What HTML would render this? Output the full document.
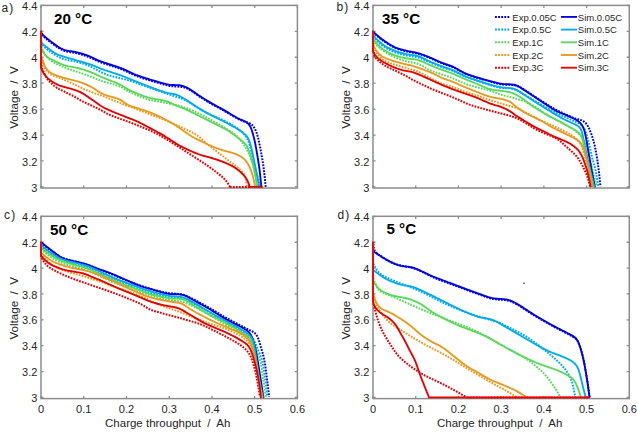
<!DOCTYPE html><html><head><meta charset="utf-8"><style>html,body{margin:0;padding:0;background:#fff;}svg{display:block;}</style></head><body>
<svg width="637" height="432" viewBox="0 0 637 432" style="font-family:'Liberation Sans', sans-serif">
<rect width="637" height="432" fill="#fff"/>
<rect x="41.0" y="5.4" width="256.4" height="182.6" fill="none" stroke="#8c8c8c" stroke-width="1.5"/>
<path d="M41.0,186.90h2.6M297.4,186.90h-2.6M41.0,160.97h2.6M297.4,160.97h-2.6M41.0,135.04h2.6M297.4,135.04h-2.6M41.0,109.11h2.6M297.4,109.11h-2.6M41.0,83.19h2.6M297.4,83.19h-2.6M41.0,57.26h2.6M297.4,57.26h-2.6M41.0,31.33h2.6M297.4,31.33h-2.6M41.0,5.40h2.6M297.4,5.40h-2.6M41.00,5.4v2.6M41.00,188.0v-2.6M83.73,5.4v2.6M83.73,188.0v-2.6M126.47,5.4v2.6M126.47,188.0v-2.6M169.20,5.4v2.6M169.20,188.0v-2.6M211.93,5.4v2.6M211.93,188.0v-2.6M254.67,5.4v2.6M254.67,188.0v-2.6M297.40,5.4v2.6M297.40,188.0v-2.6" stroke="#8c8c8c" stroke-width="1.3" fill="none"/>
<clipPath id="clipa"><rect x="39.5" y="4.4" width="259.4" height="184.6"/></clipPath>
<g clip-path="url(#clipa)" fill="none" stroke-linejoin="round">
<path d="M41.00,31.80 41.11,32.63 41.31,33.44 41.66,34.22 42.15,34.97 42.77,35.69 43.45,36.39 44.18,37.06 44.93,37.72 45.69,38.37 46.45,39.02 47.23,39.65 48.01,40.27 48.79,40.89 49.58,41.51 50.37,42.12 51.17,42.72 51.97,43.32 52.77,43.92 53.58,44.51 54.38,45.10 55.19,45.69 56.01,46.26 56.83,46.83 57.66,47.39 58.50,47.93 59.35,48.45 60.22,48.96 61.09,49.43 61.98,49.88 62.89,50.28 63.82,50.65 64.76,50.98 65.71,51.26 66.68,51.49 67.65,51.70 68.64,51.87 69.62,52.03 70.61,52.17 71.60,52.32 72.59,52.47 73.57,52.63 74.56,52.81 75.53,53.02 76.51,53.24 77.48,53.48 78.45,53.73 79.41,53.99 80.38,54.25 81.34,54.53 82.30,54.81 83.25,55.11 84.20,55.41 85.15,55.72 86.10,56.04 87.04,56.38 87.98,56.72 88.91,57.09 89.83,57.47 90.75,57.87 91.66,58.28 92.57,58.70 93.47,59.13 94.37,59.56 95.28,59.99 96.18,60.41 97.09,60.83 98.01,61.23 98.93,61.62 99.85,61.99 100.78,62.36 101.72,62.71 102.66,63.04 103.61,63.37 104.55,63.69 105.50,64.01 106.45,64.31 107.41,64.62 108.36,64.92 109.31,65.22 110.27,65.52 111.22,65.82 112.17,66.12 113.13,66.43 114.08,66.73 115.03,67.04 115.98,67.35 116.93,67.67 117.88,67.99 118.82,68.32 119.76,68.66 120.70,69.01 121.63,69.37 122.56,69.74 123.48,70.13 124.40,70.53 125.31,70.94 126.21,71.36 127.11,71.79 128.01,72.23 128.91,72.67 129.81,73.10 130.71,73.53 131.62,73.96 132.53,74.38 133.44,74.78 134.36,75.18 135.28,75.56 136.21,75.93 137.15,76.29 138.08,76.63 139.03,76.97 139.97,77.29 140.92,77.61 141.87,77.93 142.82,78.24 143.77,78.55 144.72,78.85 145.68,79.15 146.63,79.45 147.59,79.74 148.54,80.03 149.50,80.32 150.46,80.61 151.41,80.90 152.37,81.18 153.33,81.47 154.29,81.75 155.25,82.03 156.21,82.31 157.17,82.59 158.13,82.87 159.09,83.14 160.06,83.41 161.02,83.69 161.98,83.96 162.94,84.22 163.91,84.49 164.87,84.75 165.84,85.01 166.81,85.26 167.78,85.49 168.75,85.71 169.73,85.91 170.72,86.08 171.70,86.21 172.69,86.32 173.69,86.40 174.69,86.47 175.68,86.53 176.68,86.58 177.68,86.62 178.68,86.68 179.67,86.74 180.66,86.84 181.65,86.97 182.63,87.15 183.60,87.38 184.55,87.65 185.50,87.96 186.43,88.31 187.35,88.69 188.26,89.11 189.14,89.56 190.02,90.05 190.88,90.55 191.72,91.09 192.55,91.64 193.37,92.21 194.19,92.79 195.00,93.38 195.80,93.97 196.61,94.55 197.43,95.14 198.24,95.71 199.07,96.28 199.90,96.83 200.74,97.38 201.58,97.91 202.43,98.44 203.28,98.97 204.13,99.49 204.99,100.00 205.85,100.51 206.71,101.02 207.57,101.53 208.44,102.03 209.30,102.54 210.17,103.04 211.03,103.54 211.90,104.04 212.77,104.53 213.64,105.03 214.51,105.52 215.38,106.01 216.25,106.49 217.13,106.98 218.00,107.46 218.88,107.94 219.76,108.42 220.63,108.91 221.51,109.39 222.38,109.87 223.26,110.36 224.13,110.85 225.00,111.34 225.87,111.84 226.73,112.34 227.59,112.85 228.45,113.36 229.31,113.87 230.17,114.38 231.03,114.90 231.89,115.41 232.75,115.92 233.61,116.43 234.47,116.93 235.34,117.43 236.22,117.91 237.10,118.38 237.98,118.84 238.88,119.29 239.78,119.72 240.69,120.13 241.61,120.53 242.53,120.91 243.46,121.28 244.39,121.63 245.33,121.96 246.28,122.26 247.23,122.54 248.17,122.80 249.10,123.09 249.98,123.45 250.81,123.91 251.58,124.47 252.29,125.13 252.94,125.86 253.54,126.64 254.10,127.46 254.61,128.31 255.08,129.18 255.52,130.08 255.92,130.99 256.28,131.92 256.62,132.86 256.94,133.81 257.23,134.76 257.51,135.72 257.77,136.69 258.02,137.66 258.26,138.63 258.49,139.60 258.71,140.57 258.93,141.55 259.15,142.53 259.35,143.50 259.56,144.48 259.76,145.46 259.96,146.44 260.16,147.42 260.35,148.40 260.54,149.39 260.73,150.37 260.91,151.35 261.09,152.33 261.28,153.32 261.45,154.30 261.63,155.28 261.81,156.27 261.98,157.25 262.15,158.24 262.32,159.23 262.48,160.21 262.65,161.20 262.81,162.19 262.96,163.17 263.11,164.16 263.26,165.15 263.40,166.14 263.54,167.13 263.67,168.12 263.80,169.11 263.92,170.11 264.04,171.10 264.16,172.09 264.27,173.09 264.38,174.08 264.49,175.07 264.60,176.07 264.70,177.06 264.81,178.06 264.91,179.05 265.01,180.05 265.11,181.04 265.21,182.03 265.30,183.02 265.40,184.01 265.50,184.98 265.60,185.94 265.70,186.90" stroke="#0000e6" stroke-width="2.0" stroke-dasharray="1.8 1.2" stroke-linecap="butt"/>
<path d="M41.00,36.00 40.97,37.00 40.95,38.00 40.96,38.99 41.01,39.98 41.12,40.96 41.31,41.91 41.60,42.84 41.98,43.73 42.46,44.58 43.02,45.38 43.65,46.15 44.32,46.87 45.03,47.57 45.77,48.24 46.53,48.89 47.31,49.52 48.09,50.13 48.89,50.73 49.70,51.32 50.51,51.90 51.33,52.48 52.16,53.04 52.99,53.59 53.83,54.13 54.68,54.66 55.54,55.17 56.40,55.68 57.27,56.17 58.15,56.65 59.03,57.11 59.93,57.55 60.83,57.98 61.75,58.37 62.67,58.74 63.61,59.08 64.56,59.38 65.52,59.65 66.49,59.88 67.47,60.08 68.45,60.26 69.44,60.42 70.43,60.58 71.41,60.73 72.40,60.89 73.38,61.07 74.37,61.26 75.34,61.47 76.31,61.69 77.28,61.94 78.25,62.19 79.22,62.46 80.18,62.73 81.14,63.01 82.09,63.30 83.04,63.61 83.99,63.92 84.94,64.25 85.88,64.59 86.81,64.95 87.74,65.32 88.66,65.71 89.57,66.12 90.47,66.54 91.37,66.98 92.26,67.44 93.15,67.90 94.03,68.38 94.90,68.85 95.78,69.33 96.66,69.81 97.54,70.29 98.42,70.76 99.31,71.22 100.20,71.67 101.09,72.12 102.00,72.55 102.90,72.98 103.81,73.39 104.73,73.78 105.65,74.16 106.58,74.52 107.52,74.86 108.47,75.18 109.42,75.49 110.38,75.77 111.34,76.05 112.31,76.31 113.27,76.56 114.24,76.80 115.22,77.03 116.19,77.26 117.16,77.49 118.14,77.72 119.11,77.94 120.08,78.17 121.06,78.40 122.03,78.63 123.00,78.87 123.97,79.11 124.94,79.36 125.91,79.61 126.87,79.87 127.84,80.14 128.80,80.42 129.75,80.71 130.71,81.01 131.66,81.31 132.61,81.63 133.56,81.94 134.50,82.27 135.45,82.59 136.39,82.92 137.34,83.26 138.28,83.60 139.22,83.94 140.16,84.28 141.10,84.62 142.04,84.96 142.98,85.30 143.92,85.64 144.86,85.98 145.80,86.32 146.74,86.66 147.68,86.99 148.63,87.32 149.57,87.65 150.51,87.99 151.46,88.32 152.40,88.65 153.34,88.98 154.29,89.31 155.23,89.64 156.17,89.97 157.12,90.30 158.06,90.64 159.00,90.97 159.95,91.30 160.89,91.63 161.84,91.96 162.78,92.29 163.72,92.62 164.67,92.95 165.61,93.28 166.56,93.61 167.50,93.93 168.45,94.25 169.40,94.56 170.35,94.86 171.31,95.17 172.26,95.47 173.21,95.77 174.17,96.07 175.12,96.37 176.07,96.68 177.02,96.99 177.97,97.31 178.91,97.64 179.85,97.98 180.79,98.33 181.72,98.69 182.65,99.07 183.57,99.46 184.48,99.87 185.38,100.29 186.28,100.74 187.17,101.19 188.04,101.67 188.92,102.16 189.78,102.66 190.64,103.18 191.49,103.70 192.33,104.24 193.18,104.77 194.02,105.31 194.86,105.86 195.70,106.40 196.54,106.94 197.38,107.48 198.23,108.01 199.08,108.53 199.93,109.05 200.79,109.56 201.66,110.07 202.53,110.56 203.40,111.04 204.28,111.51 205.17,111.97 206.06,112.43 206.96,112.87 207.86,113.31 208.76,113.74 209.67,114.16 210.57,114.58 211.48,115.00 212.39,115.41 213.30,115.83 214.22,116.24 215.13,116.64 216.04,117.05 216.95,117.46 217.87,117.87 218.78,118.28 219.69,118.69 220.60,119.10 221.51,119.52 222.42,119.94 223.33,120.36 224.23,120.78 225.13,121.22 226.03,121.66 226.93,122.10 227.81,122.56 228.70,123.02 229.58,123.50 230.45,123.99 231.32,124.48 232.18,124.99 233.04,125.50 233.89,126.03 234.73,126.56 235.57,127.11 236.40,127.66 237.22,128.23 238.03,128.82 238.83,129.42 239.62,130.03 240.39,130.67 241.15,131.32 241.89,131.98 242.62,132.67 243.32,133.38 244.00,134.11 244.66,134.86 245.28,135.63 245.87,136.43 246.43,137.26 246.93,138.11 247.40,138.99 247.82,139.89 248.21,140.81 248.57,141.74 248.91,142.68 249.23,143.63 249.53,144.58 249.83,145.53 250.11,146.49 250.37,147.46 250.63,148.42 250.87,149.39 251.10,150.37 251.33,151.34 251.54,152.32 251.76,153.29 251.96,154.27 252.17,155.25 252.38,156.23 252.58,157.21 252.78,158.19 252.99,159.17 253.19,160.14 253.40,161.12 253.61,162.10 253.83,163.08 254.05,164.05 254.28,165.03 254.51,166.00 254.75,166.97 255.01,167.93 255.27,168.90 255.54,169.86 255.81,170.82 256.10,171.78 256.38,172.74 256.68,173.70 256.97,174.65 257.27,175.60 257.58,176.56 257.89,177.51 258.20,178.46 258.51,179.41 258.82,180.36 259.14,181.31 259.45,182.25 259.77,183.20 260.08,184.14 260.39,185.07 260.70,185.99 261.00,186.90" stroke="#00aaee" stroke-width="2.0" stroke-dasharray="1.8 1.2" stroke-linecap="butt"/>
<path d="M41.00,40.00 41.12,40.99 41.24,41.99 41.36,42.98 41.49,43.97 41.64,44.96 41.80,45.94 41.99,46.92 42.21,47.89 42.47,48.85 42.78,49.80 43.12,50.74 43.50,51.65 43.93,52.55 44.40,53.43 44.91,54.28 45.47,55.11 46.05,55.91 46.67,56.69 47.33,57.44 48.01,58.17 48.72,58.86 49.46,59.53 50.23,60.16 51.03,60.76 51.85,61.32 52.69,61.86 53.55,62.37 54.42,62.85 55.30,63.32 56.20,63.76 57.10,64.19 58.01,64.61 58.92,65.02 59.84,65.42 60.76,65.81 61.68,66.20 62.60,66.58 63.53,66.96 64.46,67.33 65.39,67.69 66.32,68.05 67.26,68.41 68.20,68.75 69.14,69.09 70.08,69.42 71.03,69.75 71.97,70.07 72.92,70.39 73.87,70.71 74.82,71.02 75.76,71.34 76.71,71.67 77.66,71.99 78.60,72.31 79.55,72.64 80.49,72.96 81.44,73.29 82.39,73.61 83.33,73.93 84.28,74.26 85.22,74.59 86.17,74.92 87.11,75.25 88.05,75.59 88.99,75.93 89.93,76.28 90.86,76.64 91.79,77.00 92.72,77.38 93.64,77.76 94.57,78.14 95.49,78.53 96.41,78.92 97.33,79.30 98.26,79.68 99.19,80.04 100.12,80.40 101.06,80.75 102.00,81.09 102.95,81.41 103.90,81.72 104.85,82.01 105.81,82.30 106.77,82.57 107.74,82.84 108.70,83.10 109.67,83.36 110.63,83.62 111.60,83.88 112.56,84.14 113.53,84.40 114.49,84.67 115.45,84.94 116.41,85.23 117.36,85.53 118.31,85.85 119.24,86.20 120.16,86.58 121.07,87.00 121.95,87.46 122.81,87.96 123.65,88.49 124.48,89.04 125.31,89.59 126.15,90.13 127.00,90.65 127.87,91.14 128.75,91.61 129.64,92.06 130.55,92.49 131.45,92.90 132.36,93.32 133.28,93.72 134.19,94.12 135.11,94.52 136.03,94.92 136.95,95.30 137.87,95.69 138.80,96.07 139.73,96.44 140.66,96.81 141.59,97.17 142.53,97.52 143.47,97.86 144.41,98.19 145.35,98.52 146.30,98.83 147.26,99.13 148.22,99.41 149.18,99.67 150.15,99.92 151.12,100.16 152.10,100.38 153.07,100.58 154.05,100.78 155.04,100.96 156.02,101.14 157.01,101.30 157.99,101.47 158.98,101.63 159.97,101.80 160.95,101.96 161.94,102.13 162.92,102.31 163.90,102.49 164.89,102.68 165.87,102.88 166.84,103.08 167.82,103.29 168.80,103.50 169.78,103.71 170.76,103.92 171.73,104.13 172.71,104.35 173.69,104.56 174.66,104.78 175.64,105.01 176.61,105.24 177.58,105.47 178.55,105.72 179.52,105.97 180.48,106.23 181.44,106.51 182.40,106.79 183.36,107.09 184.31,107.39 185.26,107.71 186.20,108.05 187.14,108.39 188.07,108.74 189.01,109.10 189.94,109.47 190.86,109.84 191.78,110.23 192.70,110.63 193.62,111.03 194.53,111.44 195.44,111.86 196.34,112.28 197.25,112.71 198.15,113.14 199.04,113.58 199.94,114.03 200.83,114.48 201.73,114.93 202.62,115.39 203.50,115.85 204.39,116.31 205.28,116.77 206.16,117.24 207.04,117.71 207.92,118.18 208.80,118.66 209.68,119.14 210.56,119.62 211.44,120.10 212.31,120.58 213.19,121.07 214.06,121.55 214.93,122.04 215.80,122.53 216.67,123.03 217.54,123.52 218.41,124.02 219.28,124.52 220.14,125.02 221.01,125.52 221.87,126.02 222.73,126.53 223.59,127.04 224.45,127.55 225.31,128.07 226.16,128.59 227.01,129.12 227.86,129.65 228.70,130.18 229.54,130.72 230.38,131.27 231.21,131.83 232.04,132.39 232.85,132.97 233.66,133.55 234.46,134.16 235.23,134.78 235.99,135.43 236.73,136.11 237.44,136.81 238.13,137.53 238.80,138.27 239.45,139.02 240.09,139.79 240.71,140.57 241.32,141.36 241.92,142.16 242.51,142.97 243.09,143.79 243.66,144.61 244.21,145.44 244.75,146.28 245.29,147.13 245.81,147.98 246.32,148.84 246.82,149.70 247.31,150.57 247.79,151.45 248.26,152.33 248.71,153.23 249.15,154.12 249.57,155.03 249.98,155.94 250.37,156.86 250.74,157.79 251.10,158.72 251.44,159.66 251.76,160.61 252.08,161.55 252.38,162.51 252.67,163.46 252.95,164.42 253.22,165.39 253.49,166.35 253.76,167.31 254.01,168.28 254.27,169.25 254.53,170.21 254.78,171.18 255.03,172.15 255.27,173.12 255.51,174.09 255.74,175.06 255.97,176.04 256.19,177.01 256.40,177.99 256.61,178.97 256.81,179.95 257.01,180.93 257.21,181.90 257.40,182.87 257.59,183.82 257.77,184.75 257.95,185.63 258.12,186.48" stroke="#5ad85a" stroke-width="2.0" stroke-dasharray="1.8 1.2" stroke-linecap="butt"/>
<path d="M41.00,56.00 41.11,56.99 41.24,57.98 41.39,58.97 41.58,59.94 41.81,60.91 42.07,61.87 42.37,62.82 42.71,63.76 43.10,64.67 43.53,65.57 44.00,66.45 44.50,67.31 45.03,68.15 45.59,68.98 46.17,69.79 46.78,70.58 47.42,71.35 48.09,72.08 48.80,72.77 49.55,73.41 50.34,74.00 51.17,74.54 52.04,75.01 52.93,75.44 53.85,75.82 54.78,76.18 55.72,76.51 56.67,76.84 57.61,77.18 58.55,77.52 59.48,77.88 60.41,78.25 61.33,78.63 62.26,79.01 63.18,79.40 64.10,79.80 65.01,80.19 65.93,80.59 66.85,80.99 67.76,81.40 68.67,81.81 69.58,82.22 70.49,82.64 71.40,83.06 72.31,83.48 73.21,83.90 74.12,84.33 75.02,84.75 75.93,85.18 76.83,85.61 77.73,86.04 78.64,86.47 79.54,86.91 80.43,87.35 81.33,87.79 82.23,88.22 83.13,88.66 84.04,89.08 84.95,89.50 85.86,89.90 86.78,90.29 87.71,90.67 88.64,91.03 89.57,91.38 90.51,91.72 91.46,92.06 92.40,92.38 93.35,92.71 94.29,93.03 95.24,93.35 96.19,93.67 97.14,93.99 98.08,94.32 99.03,94.65 99.97,94.98 100.91,95.32 101.85,95.66 102.78,96.01 103.72,96.37 104.65,96.74 105.58,97.11 106.51,97.48 107.43,97.86 108.35,98.24 109.28,98.62 110.20,99.01 111.12,99.39 112.05,99.78 112.97,100.16 113.89,100.55 114.82,100.93 115.75,101.30 116.67,101.68 117.60,102.05 118.53,102.42 119.46,102.78 120.39,103.14 121.33,103.50 122.26,103.86 123.20,104.22 124.13,104.57 125.07,104.92 126.00,105.27 126.94,105.62 127.88,105.97 128.81,106.32 129.75,106.67 130.69,107.02 131.63,107.36 132.57,107.71 133.50,108.06 134.44,108.41 135.38,108.75 136.32,109.10 137.25,109.45 138.19,109.80 139.13,110.15 140.06,110.50 141.00,110.85 141.94,111.20 142.87,111.56 143.81,111.91 144.74,112.27 145.67,112.62 146.61,112.98 147.54,113.34 148.47,113.70 149.41,114.06 150.34,114.42 151.27,114.78 152.20,115.15 153.14,115.51 154.07,115.87 155.00,116.23 155.93,116.59 156.87,116.95 157.80,117.32 158.73,117.68 159.66,118.05 160.59,118.41 161.52,118.78 162.45,119.14 163.38,119.51 164.31,119.88 165.24,120.25 166.17,120.63 167.09,121.00 168.02,121.38 168.95,121.76 169.87,122.14 170.79,122.52 171.72,122.91 172.64,123.30 173.56,123.69 174.47,124.09 175.39,124.49 176.31,124.89 177.22,125.29 178.14,125.70 179.05,126.11 179.96,126.52 180.87,126.93 181.78,127.34 182.69,127.76 183.60,128.18 184.50,128.61 185.41,129.04 186.31,129.47 187.21,129.91 188.10,130.35 189.00,130.80 189.89,131.25 190.77,131.71 191.66,132.18 192.54,132.66 193.41,133.14 194.28,133.64 195.14,134.15 195.99,134.67 196.83,135.21 197.66,135.77 198.47,136.35 199.26,136.96 200.03,137.59 200.79,138.24 201.53,138.91 202.25,139.60 202.98,140.29 203.70,140.98 204.42,141.67 205.15,142.35 205.90,143.02 206.65,143.67 207.41,144.32 208.19,144.95 208.97,145.58 209.75,146.20 210.54,146.82 211.33,147.43 212.12,148.04 212.92,148.64 213.72,149.25 214.51,149.85 215.31,150.45 216.11,151.06 216.91,151.66 217.71,152.26 218.51,152.86 219.31,153.46 220.11,154.06 220.91,154.66 221.70,155.26 222.50,155.86 223.30,156.46 224.10,157.07 224.90,157.67 225.70,158.27 226.49,158.88 227.29,159.48 228.08,160.09 228.87,160.70 229.66,161.31 230.45,161.93 231.24,162.55 232.02,163.17 232.81,163.79 233.59,164.41 234.38,165.03 235.16,165.64 235.95,166.26 236.74,166.88 237.52,167.50 238.30,168.12 239.07,168.76 239.83,169.41 240.57,170.08 241.28,170.78 241.96,171.50 242.60,172.26 243.19,173.06 243.73,173.88 244.21,174.75 244.63,175.64 245.00,176.56 245.31,177.51 245.57,178.46 245.80,179.44 245.99,180.41 246.15,181.40 246.30,182.38 246.43,183.35 246.56,184.29 246.67,185.20 246.79,186.06 246.90,186.90" stroke="#e89a1e" stroke-width="2.0" stroke-dasharray="1.8 1.2" stroke-linecap="butt"/>
<path d="M41.00,62.00 41.12,62.99 41.25,63.98 41.40,64.97 41.57,65.95 41.78,66.92 42.04,67.88 42.35,68.82 42.69,69.76 43.07,70.68 43.48,71.59 43.89,72.50 44.32,73.40 44.76,74.30 45.20,75.20 45.65,76.09 46.12,76.97 46.61,77.84 47.13,78.69 47.69,79.51 48.30,80.29 48.95,81.03 49.64,81.74 50.36,82.42 51.10,83.09 51.84,83.76 52.59,84.43 53.33,85.09 54.08,85.75 54.86,86.38 55.65,86.98 56.47,87.55 57.31,88.07 58.18,88.56 59.06,89.02 59.96,89.47 60.86,89.90 61.76,90.33 62.66,90.76 63.56,91.20 64.45,91.65 65.35,92.10 66.24,92.55 67.13,93.00 68.02,93.45 68.92,93.89 69.82,94.33 70.72,94.77 71.61,95.21 72.51,95.65 73.40,96.11 74.29,96.57 75.16,97.05 76.03,97.55 76.89,98.06 77.74,98.58 78.59,99.10 79.45,99.62 80.31,100.13 81.18,100.62 82.06,101.09 82.95,101.54 83.85,101.99 84.75,102.42 85.65,102.84 86.56,103.26 87.47,103.68 88.37,104.11 89.28,104.53 90.19,104.95 91.09,105.38 91.99,105.80 92.90,106.23 93.80,106.66 94.71,107.09 95.61,107.52 96.51,107.95 97.41,108.38 98.32,108.81 99.22,109.25 100.11,109.69 101.01,110.13 101.89,110.59 102.77,111.07 103.64,111.56 104.49,112.07 105.35,112.59 106.21,113.09 107.08,113.58 107.96,114.03 108.86,114.46 109.78,114.86 110.70,115.25 111.62,115.63 112.55,115.99 113.49,116.35 114.42,116.71 115.36,117.06 116.30,117.40 117.24,117.75 118.17,118.09 119.11,118.44 120.05,118.78 120.99,119.12 121.93,119.46 122.87,119.80 123.81,120.15 124.75,120.49 125.69,120.83 126.63,121.18 127.57,121.52 128.51,121.87 129.44,122.21 130.38,122.56 131.32,122.92 132.25,123.27 133.19,123.63 134.12,123.99 135.05,124.35 135.98,124.72 136.91,125.09 137.84,125.46 138.77,125.83 139.69,126.21 140.62,126.58 141.55,126.96 142.47,127.33 143.40,127.71 144.33,128.08 145.25,128.46 146.18,128.84 147.10,129.23 148.02,129.62 148.94,130.01 149.85,130.42 150.76,130.83 151.67,131.25 152.57,131.68 153.47,132.12 154.37,132.56 155.26,133.02 156.15,133.48 157.03,133.94 157.91,134.42 158.79,134.89 159.67,135.38 160.54,135.87 161.41,136.36 162.27,136.86 163.14,137.36 164.00,137.87 164.86,138.38 165.72,138.89 166.58,139.41 167.43,139.93 168.29,140.45 169.14,140.97 169.99,141.49 170.84,142.02 171.69,142.55 172.54,143.07 173.39,143.60 174.23,144.13 175.08,144.67 175.93,145.20 176.77,145.73 177.62,146.27 178.46,146.80 179.31,147.34 180.15,147.88 180.99,148.41 181.84,148.95 182.68,149.49 183.52,150.03 184.36,150.57 185.20,151.11 186.05,151.65 186.89,152.19 187.73,152.74 188.57,153.28 189.41,153.82 190.25,154.36 191.09,154.91 191.93,155.45 192.77,155.99 193.60,156.54 194.44,157.08 195.28,157.62 196.12,158.17 196.96,158.71 197.80,159.25 198.64,159.80 199.48,160.34 200.32,160.89 201.16,161.43 201.99,161.98 202.83,162.53 203.66,163.08 204.50,163.63 205.33,164.19 206.16,164.75 206.98,165.31 207.81,165.88 208.63,166.45 209.44,167.03 210.25,167.61 211.06,168.20 211.87,168.79 212.67,169.39 213.47,169.99 214.27,170.59 215.07,171.19 215.86,171.80 216.66,172.41 217.45,173.02 218.23,173.64 219.01,174.26 219.79,174.89 220.56,175.53 221.33,176.17 222.08,176.83 222.83,177.49 223.56,178.17 224.27,178.87 224.96,179.59 225.63,180.33 226.26,181.10 226.86,181.89 227.43,182.71 227.97,183.54 228.48,184.38 228.96,185.23 229.44,186.07 229.90,186.90 M229.90,186.90 L249.70,186.90" stroke="#e60000" stroke-width="2.0" stroke-dasharray="1.8 1.2" stroke-linecap="butt"/>
<path d="M41.00,31.50 41.22,32.24 41.53,32.97 41.97,33.69 42.53,34.40 43.19,35.09 43.90,35.77 44.64,36.43 45.39,37.09 46.15,37.74 46.92,38.38 47.70,39.01 48.48,39.63 49.26,40.25 50.05,40.86 50.85,41.47 51.64,42.07 52.44,42.67 53.25,43.27 54.05,43.86 54.86,44.45 55.68,45.03 56.50,45.60 57.32,46.16 58.16,46.71 59.00,47.24 59.86,47.75 60.73,48.24 61.62,48.70 62.52,49.12 63.44,49.51 64.37,49.85 65.32,50.15 66.28,50.40 67.25,50.62 68.23,50.80 69.22,50.97 70.21,51.11 71.20,51.26 72.19,51.40 73.17,51.56 74.16,51.74 75.14,51.93 76.11,52.15 77.08,52.38 78.05,52.62 79.02,52.88 79.98,53.14 80.94,53.42 81.90,53.70 82.86,53.99 83.82,54.28 84.77,54.59 85.71,54.91 86.66,55.24 87.60,55.58 88.53,55.94 89.46,56.31 90.38,56.70 91.29,57.11 92.20,57.53 93.10,57.95 94.00,58.38 94.91,58.81 95.81,59.24 96.72,59.66 97.63,60.07 98.55,60.46 99.47,60.84 100.40,61.21 101.34,61.56 102.28,61.91 103.22,62.24 104.17,62.56 105.11,62.88 106.07,63.19 107.02,63.49 107.97,63.80 108.92,64.10 109.88,64.40 110.83,64.70 111.78,65.00 112.74,65.30 113.69,65.61 114.64,65.91 115.59,66.22 116.54,66.54 117.49,66.86 118.44,67.18 119.38,67.52 120.32,67.86 121.25,68.22 122.18,68.59 123.10,68.97 124.02,69.36 124.93,69.77 125.84,70.19 126.75,70.62 127.65,71.05 128.55,71.49 129.44,71.92 130.35,72.36 131.25,72.79 132.16,73.21 133.07,73.62 133.98,74.02 134.91,74.40 135.83,74.78 136.76,75.14 137.70,75.49 138.64,75.83 139.58,76.16 140.53,76.49 141.48,76.81 142.43,77.12 143.38,77.43 144.33,77.73 145.28,78.04 146.24,78.34 147.19,78.64 148.15,78.93 149.10,79.23 150.06,79.52 151.02,79.81 151.97,80.09 152.93,80.38 153.89,80.67 154.85,80.95 155.81,81.23 156.77,81.51 157.73,81.79 158.69,82.06 159.65,82.33 160.62,82.61 161.58,82.87 162.54,83.14 163.51,83.40 164.47,83.66 165.44,83.91 166.41,84.14 167.39,84.36 168.37,84.56 169.35,84.73 170.33,84.85 171.33,84.94 172.32,84.99 173.32,85.02 174.31,85.03 175.31,85.06 176.31,85.09 177.31,85.13 178.30,85.20 179.30,85.28 180.28,85.40 181.26,85.57 182.23,85.79 183.18,86.06 184.12,86.38 185.05,86.75 185.95,87.16 186.85,87.60 187.73,88.07 188.60,88.56 189.46,89.06 190.32,89.58 191.16,90.12 191.99,90.67 192.82,91.23 193.64,91.80 194.46,92.38 195.28,92.96 196.09,93.54 196.91,94.11 197.73,94.68 198.55,95.25 199.38,95.80 200.22,96.35 201.06,96.89 201.90,97.43 202.75,97.96 203.60,98.49 204.45,99.01 205.31,99.53 206.16,100.05 207.02,100.56 207.88,101.07 208.74,101.58 209.60,102.09 210.47,102.60 211.33,103.10 212.20,103.60 213.06,104.09 213.94,104.59 214.81,105.07 215.68,105.56 216.56,106.04 217.44,106.51 218.32,106.99 219.20,107.46 220.08,107.93 220.96,108.41 221.84,108.89 222.72,109.37 223.59,109.85 224.46,110.34 225.33,110.84 226.20,111.34 227.06,111.85 227.91,112.37 228.77,112.88 229.62,113.41 230.47,113.93 231.32,114.45 232.18,114.98 233.03,115.50 233.88,116.02 234.74,116.53 235.61,117.03 236.48,117.52 237.36,118.00 238.25,118.45 239.15,118.88 240.06,119.30 240.98,119.69 241.90,120.07 242.82,120.44 243.74,120.83 244.65,121.24 245.53,121.69 246.38,122.20 247.18,122.77 247.92,123.40 248.60,124.10 249.22,124.87 249.77,125.68 250.26,126.54 250.70,127.43 251.10,128.34 251.45,129.27 251.78,130.21 252.08,131.17 252.36,132.12 252.64,133.08 252.91,134.05 253.18,135.01 253.45,135.97 253.71,136.94 253.96,137.91 254.20,138.88 254.43,139.85 254.65,140.82 254.86,141.80 255.07,142.78 255.26,143.76 255.45,144.74 255.64,145.73 255.82,146.71 256.00,147.69 256.18,148.68 256.35,149.66 256.53,150.65 256.70,151.63 256.87,152.62 257.04,153.60 257.21,154.59 257.38,155.57 257.54,156.56 257.71,157.55 257.87,158.53 258.03,159.52 258.19,160.51 258.34,161.49 258.50,162.48 258.65,163.47 258.79,164.46 258.94,165.45 259.08,166.44 259.22,167.43 259.35,168.42 259.48,169.41 259.61,170.40 259.73,171.40 259.85,172.39 259.96,173.38 260.08,174.38 260.19,175.37 260.30,176.36 260.40,177.36 260.51,178.35 260.61,179.35 260.72,180.34 260.82,181.33 260.92,182.32 261.02,183.30 261.12,184.25 261.22,185.17 261.31,186.05 261.40,186.90" stroke="#0000e6" stroke-width="1.85" stroke-linecap="round"/>
<path d="M41.00,31.50 L41.00,42.60 M41.00,42.60 41.78,43.23 42.56,43.85 43.34,44.48 44.12,45.10 44.90,45.73 45.68,46.35 46.47,46.97 47.26,47.58 48.05,48.19 48.85,48.79 49.65,49.39 50.45,49.99 51.26,50.58 52.07,51.16 52.89,51.73 53.72,52.29 54.56,52.83 55.42,53.33 56.30,53.80 57.19,54.24 58.10,54.65 59.03,55.03 59.96,55.38 60.90,55.72 61.84,56.04 62.79,56.35 63.75,56.66 64.70,56.95 65.66,57.24 66.62,57.52 67.58,57.80 68.54,58.08 69.50,58.36 70.46,58.63 71.42,58.90 72.39,59.18 73.35,59.45 74.31,59.72 75.27,60.00 76.23,60.28 77.19,60.55 78.15,60.83 79.12,61.11 80.08,61.38 81.04,61.66 82.00,61.93 82.96,62.20 83.93,62.47 84.89,62.74 85.85,63.02 86.81,63.31 87.76,63.60 88.72,63.90 89.66,64.22 90.61,64.55 91.55,64.89 92.48,65.24 93.41,65.61 94.34,65.98 95.26,66.36 96.19,66.74 97.11,67.13 98.03,67.51 98.96,67.89 99.89,68.27 100.82,68.63 101.75,68.99 102.69,69.33 103.63,69.67 104.57,70.01 105.52,70.33 106.47,70.65 107.41,70.97 108.36,71.28 109.31,71.60 110.26,71.91 111.22,72.21 112.17,72.52 113.12,72.83 114.07,73.14 115.02,73.45 115.97,73.76 116.92,74.07 117.87,74.39 118.82,74.71 119.76,75.03 120.71,75.36 121.65,75.70 122.58,76.05 123.52,76.40 124.45,76.76 125.38,77.13 126.31,77.50 127.24,77.87 128.17,78.25 129.09,78.62 130.02,78.99 130.95,79.37 131.87,79.75 132.80,80.12 133.73,80.50 134.65,80.88 135.58,81.26 136.50,81.64 137.43,82.02 138.35,82.40 139.28,82.77 140.21,83.15 141.13,83.52 142.06,83.89 142.99,84.26 143.92,84.63 144.85,85.00 145.78,85.36 146.72,85.72 147.65,86.07 148.59,86.43 149.52,86.78 150.46,87.13 151.40,87.48 152.34,87.82 153.28,88.17 154.22,88.51 155.16,88.85 156.10,89.19 157.04,89.52 157.98,89.86 158.92,90.19 159.87,90.52 160.81,90.84 161.76,91.16 162.71,91.48 163.66,91.79 164.61,92.09 165.57,92.38 166.53,92.65 167.50,92.90 168.47,93.13 169.45,93.32 170.43,93.50 171.42,93.66 172.40,93.82 173.38,94.00 174.36,94.20 175.32,94.45 176.27,94.74 177.21,95.08 178.13,95.45 179.04,95.85 179.94,96.29 180.83,96.75 181.71,97.22 182.58,97.71 183.44,98.21 184.30,98.72 185.16,99.24 186.01,99.76 186.86,100.30 187.70,100.84 188.53,101.38 189.37,101.93 190.20,102.49 191.03,103.05 191.86,103.61 192.69,104.17 193.52,104.73 194.34,105.29 195.18,105.84 196.01,106.40 196.84,106.95 197.68,107.49 198.52,108.03 199.37,108.57 200.21,109.10 201.07,109.62 201.92,110.14 202.78,110.65 203.64,111.16 204.51,111.65 205.38,112.14 206.26,112.62 207.14,113.10 208.02,113.57 208.91,114.03 209.80,114.49 210.69,114.95 211.58,115.40 212.47,115.85 213.36,116.30 214.26,116.75 215.15,117.20 216.05,117.64 216.94,118.08 217.84,118.53 218.74,118.97 219.63,119.41 220.53,119.85 221.43,120.30 222.32,120.74 223.22,121.19 224.11,121.64 225.00,122.09 225.89,122.55 226.78,123.00 227.67,123.47 228.55,123.93 229.43,124.41 230.31,124.88 231.19,125.36 232.06,125.85 232.94,126.33 233.81,126.82 234.68,127.32 235.55,127.82 236.41,128.32 237.27,128.83 238.12,129.35 238.97,129.88 239.81,130.42 240.64,130.98 241.45,131.56 242.25,132.16 243.04,132.77 243.81,133.40 244.57,134.06 245.30,134.74 245.99,135.44 246.65,136.18 247.25,136.97 247.79,137.79 248.27,138.65 248.70,139.55 249.08,140.46 249.43,141.40 249.76,142.34 250.07,143.29 250.36,144.25 250.63,145.21 250.89,146.17 251.14,147.14 251.38,148.11 251.61,149.08 251.84,150.06 252.07,151.03 252.28,152.01 252.50,152.99 252.71,153.96 252.92,154.94 253.13,155.92 253.33,156.90 253.53,157.88 253.73,158.86 253.94,159.84 254.14,160.82 254.34,161.80 254.54,162.78 254.74,163.76 254.94,164.74 255.14,165.71 255.34,166.69 255.54,167.67 255.73,168.65 255.93,169.64 256.12,170.62 256.31,171.60 256.50,172.58 256.69,173.56 256.87,174.55 257.05,175.53 257.23,176.51 257.41,177.50 257.59,178.48 257.77,179.46 257.95,180.45 258.12,181.43 258.30,182.41 258.47,183.37 258.64,184.31 258.80,185.21 258.95,186.07 259.10,186.90" stroke="#00aaee" stroke-width="1.85" stroke-linecap="round"/>
<path d="M41.00,31.50 L41.00,47.60 M41.00,47.60 41.42,48.51 41.84,49.42 42.26,50.32 42.71,51.21 43.18,52.09 43.69,52.94 44.25,53.76 44.86,54.53 45.52,55.27 46.23,55.95 46.99,56.58 47.79,57.18 48.62,57.73 49.46,58.25 50.33,58.76 51.20,59.24 52.08,59.71 52.97,60.17 53.86,60.63 54.75,61.08 55.65,61.52 56.55,61.96 57.45,62.38 58.36,62.80 59.28,63.21 60.19,63.60 61.12,63.99 62.04,64.36 62.98,64.71 63.92,65.04 64.87,65.35 65.83,65.64 66.79,65.90 67.76,66.14 68.74,66.35 69.72,66.54 70.70,66.71 71.69,66.88 72.67,67.05 73.66,67.22 74.64,67.39 75.62,67.58 76.60,67.79 77.57,68.01 78.54,68.25 79.51,68.51 80.47,68.77 81.44,69.05 82.39,69.33 83.35,69.62 84.30,69.92 85.25,70.23 86.20,70.55 87.15,70.87 88.09,71.21 89.03,71.55 89.96,71.90 90.90,72.27 91.82,72.65 92.74,73.04 93.66,73.44 94.57,73.85 95.48,74.26 96.39,74.68 97.29,75.10 98.20,75.53 99.11,75.94 100.02,76.36 100.93,76.77 101.85,77.17 102.77,77.56 103.69,77.95 104.61,78.33 105.54,78.70 106.47,79.07 107.40,79.43 108.33,79.80 109.27,80.16 110.20,80.52 111.13,80.88 112.06,81.24 112.99,81.60 113.93,81.97 114.85,82.34 115.78,82.71 116.71,83.09 117.63,83.48 118.54,83.89 119.45,84.31 120.34,84.75 121.22,85.21 122.09,85.71 122.94,86.23 123.78,86.77 124.62,87.31 125.46,87.85 126.30,88.38 127.17,88.88 128.04,89.36 128.93,89.81 129.83,90.25 130.73,90.68 131.64,91.09 132.56,91.50 133.47,91.91 134.39,92.31 135.30,92.71 136.22,93.10 137.14,93.49 138.07,93.87 138.99,94.25 139.92,94.62 140.85,94.98 141.79,95.34 142.72,95.69 143.66,96.03 144.61,96.36 145.55,96.68 146.50,96.99 147.46,97.28 148.42,97.56 149.39,97.82 150.36,98.06 151.33,98.28 152.31,98.49 153.29,98.69 154.27,98.87 155.25,99.05 156.24,99.22 157.23,99.38 158.21,99.54 159.20,99.71 160.19,99.87 161.17,100.03 162.16,100.21 163.14,100.39 164.12,100.59 165.09,100.82 166.06,101.07 167.01,101.35 167.95,101.67 168.88,102.03 169.80,102.42 170.69,102.85 171.58,103.31 172.47,103.77 173.35,104.23 174.25,104.67 175.15,105.10 176.06,105.50 176.98,105.90 177.91,106.27 178.84,106.65 179.77,107.01 180.70,107.38 181.63,107.74 182.56,108.11 183.49,108.48 184.41,108.86 185.34,109.25 186.26,109.64 187.17,110.04 188.08,110.45 188.99,110.86 189.90,111.29 190.80,111.72 191.70,112.16 192.59,112.60 193.49,113.05 194.38,113.50 195.27,113.95 196.16,114.41 197.06,114.86 197.95,115.31 198.84,115.76 199.73,116.21 200.63,116.66 201.52,117.11 202.42,117.56 203.31,118.00 204.21,118.45 205.10,118.90 205.99,119.34 206.89,119.79 207.78,120.24 208.68,120.69 209.57,121.13 210.47,121.58 211.36,122.03 212.25,122.47 213.15,122.92 214.05,123.36 214.94,123.81 215.84,124.25 216.74,124.69 217.64,125.13 218.53,125.57 219.43,126.01 220.33,126.46 221.22,126.90 222.11,127.36 223.00,127.81 223.89,128.27 224.77,128.75 225.64,129.23 226.51,129.72 227.37,130.24 228.22,130.77 229.05,131.31 229.88,131.87 230.70,132.44 231.52,133.02 232.34,133.60 233.15,134.18 233.96,134.76 234.77,135.34 235.58,135.93 236.39,136.52 237.19,137.12 237.99,137.72 238.79,138.33 239.57,138.94 240.35,139.57 241.13,140.20 241.90,140.84 242.66,141.48 243.41,142.14 244.15,142.81 244.85,143.51 245.52,144.24 246.13,145.02 246.68,145.83 247.18,146.69 247.63,147.57 248.05,148.48 248.43,149.40 248.79,150.33 249.13,151.27 249.45,152.21 249.76,153.16 250.06,154.12 250.36,155.07 250.64,156.03 250.92,156.99 251.19,157.96 251.46,158.92 251.72,159.88 251.97,160.85 252.23,161.82 252.47,162.79 252.72,163.76 252.96,164.73 253.19,165.70 253.42,166.67 253.65,167.65 253.86,168.62 254.07,169.60 254.28,170.58 254.47,171.56 254.67,172.54 254.85,173.52 255.04,174.51 255.22,175.49 255.40,176.47 255.57,177.46 255.74,178.44 255.92,179.43 256.09,180.41 256.25,181.40 256.42,182.38 256.59,183.34 256.75,184.29 256.90,185.19 257.05,186.06 257.20,186.90" stroke="#5ad85a" stroke-width="1.85" stroke-linecap="round"/>
<path d="M41.00,31.50 L41.00,56.00 M41.00,56.00 41.34,56.94 41.69,57.88 42.04,58.81 42.39,59.75 42.75,60.68 43.10,61.62 43.45,62.55 43.81,63.49 44.18,64.42 44.57,65.33 44.99,66.24 45.45,67.12 45.95,67.97 46.51,68.79 47.11,69.57 47.77,70.31 48.49,70.99 49.24,71.63 50.04,72.21 50.87,72.75 51.73,73.25 52.62,73.72 53.51,74.15 54.43,74.56 55.35,74.94 56.28,75.30 57.22,75.65 58.16,75.98 59.10,76.31 60.05,76.62 61.00,76.93 61.96,77.23 62.91,77.52 63.87,77.81 64.83,78.10 65.79,78.37 66.76,78.63 67.72,78.88 68.69,79.13 69.66,79.36 70.64,79.59 71.61,79.82 72.58,80.05 73.56,80.28 74.52,80.53 75.49,80.79 76.45,81.06 77.41,81.35 78.36,81.65 79.31,81.96 80.26,82.28 81.20,82.61 82.14,82.95 83.08,83.30 84.01,83.66 84.94,84.03 85.87,84.41 86.78,84.80 87.70,85.21 88.61,85.63 89.51,86.06 90.40,86.52 91.27,86.99 92.14,87.48 93.00,88.00 93.85,88.52 94.69,89.06 95.53,89.61 96.36,90.16 97.20,90.70 98.04,91.24 98.90,91.76 99.76,92.27 100.63,92.75 101.52,93.21 102.42,93.64 103.33,94.05 104.25,94.43 105.18,94.79 106.12,95.13 107.07,95.45 108.02,95.76 108.97,96.06 109.93,96.35 110.89,96.64 111.84,96.92 112.80,97.21 113.76,97.49 114.72,97.79 115.67,98.09 116.62,98.40 117.56,98.73 118.50,99.08 119.42,99.46 120.32,99.88 121.20,100.34 122.05,100.85 122.88,101.40 123.69,101.97 124.50,102.56 125.31,103.14 126.13,103.70 126.97,104.23 127.84,104.71 128.73,105.16 129.64,105.56 130.56,105.94 131.50,106.29 132.44,106.62 133.39,106.94 134.34,107.25 135.29,107.55 136.25,107.85 137.20,108.14 138.16,108.43 139.12,108.72 140.07,109.01 141.03,109.31 141.98,109.60 142.94,109.90 143.89,110.21 144.84,110.52 145.79,110.84 146.73,111.17 147.67,111.52 148.61,111.87 149.54,112.23 150.47,112.59 151.40,112.97 152.32,113.35 153.24,113.73 154.16,114.13 155.08,114.53 155.99,114.93 156.90,115.34 157.81,115.76 158.72,116.18 159.62,116.61 160.52,117.04 161.42,117.48 162.32,117.92 163.21,118.37 164.10,118.83 164.99,119.29 165.88,119.75 166.76,120.23 167.64,120.70 168.51,121.19 169.38,121.68 170.25,122.18 171.11,122.68 171.97,123.19 172.83,123.71 173.68,124.23 174.53,124.76 175.38,125.29 176.22,125.83 177.06,126.37 177.89,126.92 178.72,127.48 179.55,128.05 180.37,128.61 181.19,129.18 182.01,129.76 182.83,130.34 183.64,130.91 184.46,131.49 185.28,132.07 186.09,132.64 186.91,133.22 187.73,133.79 188.56,134.35 189.39,134.91 190.22,135.46 191.06,136.00 191.91,136.53 192.77,137.04 193.64,137.54 194.51,138.02 195.40,138.47 196.30,138.92 197.20,139.35 198.10,139.78 199.01,140.20 199.91,140.63 200.81,141.06 201.72,141.49 202.62,141.92 203.52,142.35 204.43,142.78 205.33,143.20 206.24,143.63 207.14,144.05 208.05,144.47 208.96,144.88 209.87,145.30 210.78,145.70 211.70,146.11 212.62,146.51 213.54,146.90 214.46,147.29 215.38,147.66 216.31,148.03 217.25,148.39 218.18,148.74 219.13,149.07 220.07,149.39 221.03,149.69 221.98,149.99 222.94,150.27 223.90,150.54 224.86,150.81 225.83,151.08 226.79,151.34 227.76,151.59 228.73,151.85 229.69,152.12 230.65,152.39 231.61,152.67 232.57,152.96 233.52,153.26 234.47,153.59 235.40,153.93 236.33,154.30 237.25,154.69 238.15,155.11 239.05,155.56 239.93,156.03 240.78,156.53 241.62,157.07 242.43,157.65 243.21,158.26 243.96,158.92 244.67,159.61 245.35,160.34 246.00,161.09 246.61,161.88 247.18,162.69 247.72,163.53 248.22,164.39 248.70,165.27 249.14,166.16 249.57,167.06 249.97,167.98 250.36,168.90 250.72,169.83 251.08,170.76 251.42,171.70 251.74,172.65 252.05,173.60 252.34,174.56 252.61,175.52 252.88,176.48 253.13,177.45 253.37,178.42 253.60,179.39 253.83,180.36 254.05,181.34 254.27,182.31 254.49,183.27 254.70,184.22 254.90,185.14 255.10,186.03 255.30,186.90" stroke="#e89a1e" stroke-width="1.85" stroke-linecap="round"/>
<path d="M41.00,31.50 L41.00,67.60 M41.00,67.60 41.36,68.53 41.73,69.46 42.12,70.38 42.53,71.28 42.99,72.17 43.48,73.03 44.02,73.87 44.60,74.67 45.22,75.45 45.87,76.20 46.55,76.93 47.25,77.64 47.98,78.32 48.73,78.98 49.50,79.62 50.28,80.24 51.08,80.83 51.90,81.40 52.73,81.96 53.58,82.49 54.44,82.99 55.31,83.48 56.20,83.94 57.09,84.38 58.00,84.79 58.92,85.17 59.86,85.53 60.80,85.86 61.75,86.17 62.70,86.47 63.66,86.74 64.62,87.01 65.59,87.28 66.56,87.54 67.52,87.80 68.48,88.06 69.45,88.34 70.41,88.62 71.36,88.91 72.32,89.20 73.27,89.51 74.22,89.82 75.17,90.13 76.11,90.46 77.05,90.80 77.98,91.16 78.91,91.54 79.82,91.95 80.72,92.38 81.61,92.84 82.48,93.32 83.34,93.82 84.20,94.34 85.04,94.88 85.87,95.43 86.70,95.99 87.52,96.55 88.35,97.12 89.17,97.70 89.99,98.27 90.81,98.84 91.63,99.41 92.45,99.97 93.28,100.54 94.09,101.12 94.91,101.70 95.72,102.28 96.53,102.87 97.34,103.45 98.16,104.03 98.98,104.60 99.80,105.16 100.64,105.71 101.49,106.24 102.35,106.75 103.21,107.25 104.09,107.73 104.98,108.19 105.87,108.64 106.77,109.07 107.67,109.49 108.59,109.91 109.50,110.31 110.42,110.71 111.34,111.10 112.26,111.49 113.18,111.87 114.11,112.25 115.03,112.63 115.96,113.01 116.89,113.38 117.82,113.75 118.75,114.12 119.68,114.49 120.61,114.85 121.54,115.22 122.47,115.59 123.40,115.95 124.33,116.32 125.26,116.69 126.19,117.06 127.12,117.42 128.05,117.79 128.98,118.16 129.91,118.52 130.84,118.87 131.78,119.22 132.72,119.57 133.65,119.92 134.58,120.29 135.50,120.67 136.42,121.08 137.32,121.50 138.22,121.93 139.12,122.38 140.01,122.82 140.90,123.28 141.79,123.73 142.68,124.19 143.57,124.65 144.46,125.11 145.34,125.58 146.23,126.04 147.11,126.51 148.00,126.98 148.88,127.44 149.76,127.91 150.65,128.38 151.53,128.86 152.41,129.33 153.29,129.80 154.17,130.28 155.05,130.76 155.93,131.24 156.80,131.72 157.68,132.20 158.56,132.68 159.43,133.17 160.30,133.65 161.17,134.14 162.04,134.64 162.91,135.14 163.77,135.64 164.63,136.16 165.48,136.68 166.33,137.20 167.18,137.73 168.02,138.27 168.86,138.82 169.70,139.36 170.54,139.91 171.37,140.46 172.21,141.01 173.04,141.56 173.88,142.11 174.72,142.65 175.57,143.18 176.42,143.70 177.27,144.22 178.14,144.73 179.01,145.22 179.88,145.70 180.76,146.18 181.64,146.65 182.53,147.10 183.42,147.56 184.32,148.00 185.22,148.44 186.12,148.88 187.02,149.31 187.93,149.73 188.83,150.15 189.75,150.56 190.66,150.97 191.58,151.37 192.49,151.76 193.42,152.15 194.34,152.53 195.27,152.91 196.19,153.28 197.13,153.64 198.06,154.00 199.00,154.34 199.94,154.67 200.89,155.00 201.84,155.31 202.79,155.60 203.75,155.89 204.71,156.17 205.67,156.43 206.64,156.70 207.61,156.96 208.57,157.21 209.54,157.47 210.50,157.73 211.47,157.99 212.43,158.26 213.39,158.54 214.35,158.83 215.30,159.12 216.25,159.43 217.20,159.75 218.15,160.08 219.09,160.42 220.02,160.77 220.96,161.12 221.90,161.47 222.83,161.83 223.76,162.20 224.69,162.57 225.61,162.95 226.53,163.34 227.45,163.74 228.36,164.15 229.27,164.57 230.17,165.00 231.06,165.45 231.94,165.92 232.82,166.40 233.68,166.91 234.53,167.43 235.37,167.98 236.19,168.54 237.00,169.13 237.79,169.74 238.57,170.36 239.33,171.00 240.09,171.66 240.82,172.34 241.54,173.02 242.25,173.73 242.95,174.45 243.62,175.18 244.28,175.93 244.92,176.70 245.53,177.49 246.10,178.30 246.64,179.14 247.12,180.00 247.57,180.89 247.97,181.80 248.33,182.73 248.66,183.66 248.97,184.59 249.27,185.52 249.56,186.44 M249.70,186.90 L262.00,186.90" stroke="#e60000" stroke-width="1.85" stroke-linecap="round"/>
</g>
<text x="37.40" y="191.50" font-size="11" fill="#262626" text-anchor="end">3</text>
<text x="37.40" y="165.57" font-size="11" fill="#262626" text-anchor="end">3.2</text>
<text x="37.40" y="139.64" font-size="11" fill="#262626" text-anchor="end">3.4</text>
<text x="37.40" y="113.71" font-size="11" fill="#262626" text-anchor="end">3.6</text>
<text x="37.40" y="87.79" font-size="11" fill="#262626" text-anchor="end">3.8</text>
<text x="37.40" y="61.86" font-size="11" fill="#262626" text-anchor="end">4</text>
<text x="37.40" y="35.93" font-size="11" fill="#262626" text-anchor="end">4.2</text>
<text x="37.40" y="10.00" font-size="11" fill="#262626" text-anchor="end">4.4</text>
<text transform="translate(18.00,97.50) rotate(-90)" font-size="11.6" fill="#262626" text-anchor="middle" xml:space="preserve">Voltage  /  V</text>
<text x="1.4" y="11.6" font-size="12" letter-spacing="1.2" fill="#262626">a)</text>
<text x="54.0" y="24.3" font-size="15.2" font-weight="bold" fill="#000">20 °C</text>
<rect x="373.0" y="5.4" width="256.29999999999995" height="182.6" fill="none" stroke="#8c8c8c" stroke-width="1.5"/>
<path d="M373.0,186.90h2.6M629.3,186.90h-2.6M373.0,160.97h2.6M629.3,160.97h-2.6M373.0,135.04h2.6M629.3,135.04h-2.6M373.0,109.11h2.6M629.3,109.11h-2.6M373.0,83.19h2.6M629.3,83.19h-2.6M373.0,57.26h2.6M629.3,57.26h-2.6M373.0,31.33h2.6M629.3,31.33h-2.6M373.0,5.40h2.6M629.3,5.40h-2.6M373.00,5.4v2.6M373.00,188.0v-2.6M415.72,5.4v2.6M415.72,188.0v-2.6M458.43,5.4v2.6M458.43,188.0v-2.6M501.15,5.4v2.6M501.15,188.0v-2.6M543.87,5.4v2.6M543.87,188.0v-2.6M586.58,5.4v2.6M586.58,188.0v-2.6M629.30,5.4v2.6M629.30,188.0v-2.6" stroke="#8c8c8c" stroke-width="1.3" fill="none"/>
<clipPath id="clipb"><rect x="371.5" y="4.4" width="259.29999999999995" height="184.6"/></clipPath>
<g clip-path="url(#clipb)" fill="none" stroke-linejoin="round">
<path d="M373.00,32.00 373.68,32.71 374.37,33.41 375.09,34.10 375.82,34.77 376.57,35.43 377.34,36.07 378.10,36.72 378.87,37.35 379.65,37.98 380.43,38.60 381.22,39.21 382.02,39.82 382.83,40.41 383.64,40.99 384.46,41.57 385.28,42.13 386.11,42.69 386.94,43.24 387.78,43.79 388.63,44.32 389.48,44.85 390.33,45.37 391.20,45.87 392.07,46.36 392.95,46.83 393.84,47.28 394.74,47.72 395.65,48.12 396.57,48.51 397.50,48.87 398.44,49.20 399.39,49.52 400.34,49.81 401.30,50.09 402.27,50.36 403.23,50.61 404.20,50.85 405.17,51.09 406.15,51.32 407.12,51.55 408.10,51.76 409.08,51.96 410.06,52.15 411.04,52.33 412.03,52.51 413.01,52.69 413.99,52.87 414.98,53.06 415.95,53.26 416.93,53.48 417.90,53.72 418.86,53.98 419.82,54.26 420.78,54.56 421.73,54.87 422.67,55.19 423.61,55.53 424.55,55.87 425.49,56.22 426.42,56.58 427.35,56.95 428.28,57.32 429.21,57.69 430.13,58.08 431.05,58.47 431.97,58.86 432.88,59.27 433.79,59.68 434.70,60.10 435.61,60.52 436.52,60.94 437.43,61.36 438.34,61.77 439.25,62.17 440.17,62.57 441.09,62.95 442.02,63.32 442.96,63.67 443.90,64.01 444.84,64.34 445.79,64.66 446.74,64.98 447.69,65.29 448.63,65.61 449.58,65.94 450.52,66.28 451.45,66.64 452.37,67.01 453.29,67.41 454.20,67.83 455.09,68.27 455.98,68.73 456.86,69.21 457.73,69.69 458.61,70.18 459.48,70.67 460.35,71.16 461.22,71.64 462.10,72.12 462.99,72.57 463.89,73.01 464.79,73.44 465.71,73.84 466.63,74.22 467.56,74.59 468.50,74.94 469.44,75.27 470.38,75.60 471.33,75.92 472.28,76.23 473.23,76.53 474.19,76.83 475.14,77.13 476.10,77.43 477.05,77.73 478.01,78.02 478.96,78.32 479.92,78.61 480.88,78.89 481.84,79.18 482.80,79.46 483.76,79.73 484.72,80.01 485.68,80.29 486.64,80.56 487.60,80.83 488.57,81.10 489.53,81.37 490.49,81.65 491.45,81.92 492.41,82.20 493.37,82.47 494.34,82.75 495.30,83.02 496.26,83.28 497.23,83.53 498.20,83.77 499.18,83.99 500.15,84.18 501.14,84.35 502.13,84.49 503.12,84.60 504.11,84.68 505.11,84.74 506.11,84.77 507.11,84.80 508.11,84.81 509.11,84.83 510.11,84.86 511.10,84.90 512.10,84.95 513.10,85.04 514.08,85.15 515.06,85.30 516.03,85.50 516.98,85.77 517.91,86.10 518.82,86.49 519.71,86.93 520.59,87.40 521.46,87.89 522.31,88.41 523.16,88.93 524.01,89.47 524.85,90.01 525.69,90.56 526.52,91.11 527.35,91.66 528.19,92.22 529.02,92.77 529.85,93.33 530.68,93.89 531.51,94.44 532.34,95.00 533.18,95.55 534.01,96.10 534.85,96.65 535.68,97.20 536.52,97.74 537.36,98.28 538.21,98.82 539.05,99.36 539.89,99.89 540.74,100.43 541.58,100.97 542.42,101.50 543.27,102.04 544.11,102.58 544.96,103.11 545.80,103.65 546.65,104.18 547.50,104.71 548.35,105.23 549.20,105.76 550.05,106.28 550.91,106.79 551.77,107.30 552.63,107.81 553.50,108.31 554.37,108.80 555.24,109.29 556.12,109.77 557.00,110.24 557.88,110.71 558.77,111.16 559.67,111.62 560.56,112.06 561.46,112.50 562.36,112.93 563.26,113.36 564.17,113.79 565.08,114.21 565.99,114.62 566.90,115.03 567.81,115.44 568.73,115.85 569.64,116.25 570.56,116.64 571.48,117.03 572.40,117.42 573.33,117.79 574.26,118.15 575.20,118.49 576.15,118.80 577.10,119.07 578.07,119.31 579.03,119.54 579.99,119.78 580.93,120.06 581.85,120.41 582.73,120.84 583.57,121.34 584.36,121.92 585.11,122.56 585.80,123.26 586.44,124.01 587.03,124.81 587.56,125.64 588.06,126.50 588.52,127.38 588.95,128.28 589.36,129.19 589.76,130.11 590.14,131.04 590.51,131.96 590.88,132.90 591.23,133.83 591.58,134.77 591.92,135.71 592.24,136.65 592.55,137.60 592.85,138.56 593.13,139.52 593.40,140.48 593.66,141.44 593.91,142.41 594.14,143.38 594.37,144.36 594.59,145.33 594.81,146.31 595.02,147.29 595.22,148.27 595.42,149.25 595.62,150.23 595.81,151.21 596.00,152.19 596.18,153.17 596.36,154.16 596.54,155.14 596.72,156.12 596.89,157.11 597.05,158.10 597.21,159.08 597.37,160.07 597.53,161.06 597.68,162.05 597.82,163.04 597.96,164.03 598.10,165.02 598.23,166.01 598.35,167.00 598.48,167.99 598.59,168.99 598.71,169.98 598.83,170.97 598.94,171.97 599.05,172.96 599.16,173.95 599.26,174.95 599.37,175.94 599.47,176.94 599.58,177.93 599.68,178.93 599.78,179.92 599.88,180.92 599.98,181.91 600.08,182.89 600.18,183.85 600.28,184.77 600.37,185.65 600.46,186.49" stroke="#0000e6" stroke-width="2.0" stroke-dasharray="1.8 1.2" stroke-linecap="butt"/>
<path d="M373.00,33.00 373.14,33.98 373.31,34.94 373.57,35.88 373.91,36.78 374.36,37.64 374.90,38.45 375.50,39.23 376.15,39.98 376.84,40.70 377.54,41.41 378.27,42.09 379.01,42.77 379.76,43.43 380.52,44.07 381.29,44.70 382.08,45.32 382.88,45.92 383.70,46.49 384.52,47.05 385.36,47.59 386.21,48.12 387.08,48.62 387.95,49.11 388.83,49.58 389.72,50.03 390.62,50.47 391.52,50.90 392.43,51.31 393.35,51.71 394.27,52.09 395.21,52.45 396.14,52.79 397.09,53.11 398.04,53.41 399.00,53.69 399.97,53.95 400.93,54.20 401.91,54.43 402.88,54.66 403.86,54.87 404.84,55.08 405.81,55.28 406.80,55.47 407.78,55.65 408.76,55.82 409.75,55.98 410.74,56.12 411.73,56.27 412.72,56.41 413.71,56.56 414.69,56.73 415.67,56.91 416.65,57.13 417.61,57.37 418.57,57.64 419.52,57.95 420.46,58.29 421.39,58.65 422.32,59.03 423.23,59.43 424.14,59.84 425.05,60.25 425.96,60.67 426.87,61.09 427.78,61.50 428.69,61.91 429.61,62.31 430.53,62.70 431.46,63.08 432.38,63.46 433.31,63.83 434.24,64.20 435.17,64.56 436.10,64.92 437.04,65.28 437.97,65.64 438.91,65.99 439.84,66.34 440.78,66.69 441.72,67.02 442.67,67.36 443.61,67.68 444.56,68.00 445.51,68.32 446.46,68.63 447.41,68.95 448.35,69.26 449.30,69.59 450.24,69.92 451.18,70.26 452.12,70.62 453.04,70.99 453.97,71.37 454.88,71.77 455.79,72.19 456.69,72.62 457.59,73.05 458.49,73.50 459.39,73.94 460.28,74.38 461.18,74.82 462.08,75.25 462.99,75.67 463.91,76.07 464.82,76.47 465.75,76.84 466.68,77.21 467.62,77.56 468.56,77.90 469.50,78.23 470.44,78.56 471.39,78.88 472.34,79.19 473.29,79.51 474.24,79.82 475.19,80.14 476.14,80.45 477.09,80.77 478.03,81.09 478.98,81.41 479.93,81.73 480.88,82.05 481.82,82.37 482.77,82.68 483.72,83.00 484.67,83.31 485.62,83.62 486.57,83.93 487.53,84.23 488.48,84.53 489.44,84.82 490.39,85.11 491.35,85.40 492.31,85.68 493.27,85.96 494.23,86.23 495.20,86.50 496.16,86.75 497.13,87.00 498.10,87.23 499.08,87.45 500.06,87.65 501.04,87.82 502.03,87.95 503.02,88.05 504.01,88.12 505.01,88.15 506.01,88.16 507.01,88.18 508.00,88.20 509.00,88.26 509.99,88.35 510.97,88.49 511.95,88.68 512.91,88.91 513.87,89.20 514.81,89.53 515.73,89.89 516.65,90.29 517.55,90.71 518.45,91.16 519.34,91.62 520.22,92.09 521.09,92.57 521.96,93.06 522.83,93.56 523.69,94.06 524.55,94.57 525.41,95.08 526.27,95.60 527.12,96.12 527.98,96.64 528.83,97.16 529.68,97.68 530.54,98.21 531.39,98.73 532.24,99.25 533.10,99.77 533.95,100.29 534.81,100.80 535.67,101.31 536.53,101.81 537.40,102.32 538.26,102.82 539.13,103.32 540.00,103.81 540.87,104.31 541.73,104.81 542.60,105.31 543.47,105.81 544.33,106.30 545.20,106.80 546.07,107.30 546.94,107.80 547.81,108.29 548.68,108.78 549.55,109.27 550.42,109.76 551.30,110.24 552.18,110.72 553.06,111.19 553.94,111.66 554.83,112.12 555.72,112.58 556.61,113.03 557.50,113.48 558.40,113.92 559.30,114.36 560.20,114.78 561.11,115.21 562.02,115.63 562.93,116.04 563.84,116.46 564.75,116.87 565.66,117.28 566.57,117.69 567.49,118.09 568.40,118.50 569.31,118.91 570.23,119.32 571.14,119.73 572.05,120.14 572.96,120.56 573.86,120.98 574.77,121.41 575.67,121.84 576.56,122.29 577.45,122.74 578.33,123.21 579.20,123.70 580.05,124.21 580.87,124.77 581.64,125.37 582.35,126.04 582.99,126.78 583.57,127.57 584.08,128.41 584.54,129.29 584.95,130.19 585.33,131.12 585.68,132.05 586.00,133.00 586.30,133.95 586.59,134.91 586.86,135.87 587.13,136.83 587.40,137.79 587.66,138.76 587.92,139.73 588.17,140.69 588.42,141.66 588.67,142.63 588.90,143.60 589.14,144.57 589.37,145.55 589.59,146.52 589.82,147.50 590.04,148.47 590.26,149.45 590.48,150.42 590.70,151.40 590.92,152.37 591.14,153.35 591.37,154.32 591.60,155.29 591.84,156.27 592.08,157.24 592.33,158.20 592.59,159.17 592.85,160.13 593.12,161.10 593.40,162.06 593.67,163.02 593.95,163.98 594.21,164.94 594.48,165.91 594.73,166.88 594.97,167.85 595.21,168.82 595.43,169.79 595.63,170.77 595.83,171.75 596.02,172.73 596.21,173.71 596.39,174.70 596.56,175.68 596.73,176.67 596.90,177.65 597.06,178.64 597.22,179.63 597.39,180.61 597.54,181.60 597.70,182.58 597.86,183.56 598.02,184.53 598.17,185.49 598.32,186.43" stroke="#00aaee" stroke-width="2.0" stroke-dasharray="1.8 1.2" stroke-linecap="butt"/>
<path d="M373.30,40.00 373.59,40.90 373.94,41.77 374.39,42.60 374.93,43.39 375.56,44.13 376.24,44.85 376.96,45.54 377.69,46.21 378.44,46.88 379.20,47.53 379.97,48.17 380.74,48.80 381.53,49.42 382.32,50.02 383.13,50.61 383.95,51.19 384.78,51.74 385.61,52.29 386.46,52.82 387.31,53.34 388.17,53.85 389.04,54.35 389.92,54.83 390.80,55.30 391.68,55.77 392.58,56.22 393.47,56.66 394.38,57.08 395.29,57.50 396.20,57.90 397.13,58.28 398.05,58.65 398.99,59.01 399.93,59.35 400.87,59.67 401.82,59.99 402.77,60.30 403.73,60.59 404.69,60.87 405.65,61.14 406.61,61.40 407.58,61.64 408.56,61.86 409.54,62.06 410.52,62.25 411.50,62.43 412.49,62.60 413.47,62.79 414.45,62.99 415.42,63.21 416.38,63.46 417.34,63.75 418.28,64.08 419.20,64.44 420.11,64.85 421.01,65.29 421.89,65.75 422.76,66.23 423.63,66.73 424.49,67.24 425.36,67.75 426.22,68.25 427.09,68.74 427.97,69.22 428.85,69.67 429.75,70.11 430.66,70.52 431.58,70.90 432.51,71.27 433.45,71.62 434.39,71.95 435.34,72.27 436.29,72.58 437.24,72.89 438.19,73.19 439.15,73.50 440.10,73.81 441.05,74.12 441.99,74.44 442.94,74.76 443.89,75.08 444.84,75.41 445.78,75.73 446.73,76.05 447.67,76.38 448.62,76.71 449.56,77.05 450.50,77.39 451.43,77.74 452.36,78.10 453.29,78.48 454.22,78.86 455.13,79.26 456.05,79.66 456.96,80.08 457.86,80.50 458.77,80.92 459.67,81.35 460.58,81.76 461.49,82.18 462.41,82.58 463.33,82.97 464.26,83.34 465.19,83.70 466.13,84.04 467.07,84.37 468.02,84.69 468.97,84.99 469.93,85.29 470.88,85.57 471.84,85.85 472.81,86.13 473.77,86.40 474.73,86.66 475.70,86.93 476.66,87.18 477.63,87.44 478.60,87.69 479.57,87.93 480.54,88.17 481.51,88.41 482.48,88.64 483.45,88.88 484.43,89.12 485.40,89.36 486.36,89.61 487.33,89.87 488.29,90.14 489.25,90.42 490.21,90.71 491.16,91.02 492.10,91.34 493.04,91.68 493.98,92.03 494.91,92.39 495.84,92.75 496.78,93.12 497.71,93.48 498.64,93.83 499.58,94.17 500.53,94.50 501.48,94.81 502.43,95.10 503.39,95.38 504.36,95.64 505.33,95.88 506.30,96.12 507.27,96.35 508.24,96.58 509.22,96.81 510.19,97.05 511.16,97.29 512.13,97.53 513.10,97.79 514.06,98.05 515.02,98.32 515.99,98.59 516.95,98.87 517.91,99.15 518.86,99.44 519.82,99.74 520.77,100.05 521.71,100.37 522.65,100.71 523.59,101.06 524.52,101.43 525.44,101.81 526.36,102.21 527.27,102.62 528.17,103.05 529.07,103.49 529.96,103.93 530.85,104.39 531.74,104.86 532.62,105.34 533.49,105.82 534.36,106.32 535.22,106.83 536.07,107.35 536.91,107.89 537.74,108.44 538.56,109.01 539.37,109.60 540.18,110.19 540.98,110.79 541.77,111.39 542.58,111.99 543.39,112.58 544.20,113.15 545.03,113.71 545.87,114.25 546.72,114.78 547.58,115.29 548.44,115.79 549.32,116.28 550.19,116.76 551.08,117.23 551.96,117.69 552.85,118.15 553.74,118.61 554.63,119.06 555.52,119.52 556.41,119.97 557.30,120.42 558.20,120.87 559.09,121.33 559.98,121.78 560.87,122.24 561.75,122.70 562.64,123.17 563.52,123.64 564.40,124.12 565.27,124.61 566.14,125.10 567.01,125.60 567.87,126.10 568.73,126.61 569.59,127.13 570.44,127.65 571.29,128.18 572.13,128.72 572.97,129.27 573.79,129.83 574.61,130.40 575.42,130.99 576.21,131.60 576.99,132.22 577.75,132.87 578.49,133.54 579.20,134.23 579.89,134.95 580.55,135.70 581.17,136.47 581.76,137.28 582.31,138.11 582.83,138.96 583.32,139.82 583.79,140.71 584.23,141.60 584.65,142.51 585.05,143.42 585.44,144.35 585.80,145.28 586.16,146.21 586.50,147.15 586.83,148.09 587.15,149.04 587.46,149.99 587.76,150.94 588.06,151.90 588.35,152.85 588.64,153.81 588.91,154.77 589.18,155.74 589.45,156.70 589.70,157.67 589.94,158.64 590.18,159.61 590.41,160.58 590.63,161.56 590.85,162.53 591.07,163.51 591.29,164.48 591.50,165.46 591.72,166.44 591.94,167.41 592.16,168.39 592.38,169.36 592.61,170.34 592.85,171.31 593.08,172.28 593.33,173.25 593.58,174.22 593.83,175.19 594.08,176.15 594.34,177.12 594.60,178.09 594.86,179.05 595.12,180.02 595.38,180.98 595.64,181.94 595.90,182.90 596.16,183.84 596.41,184.75 596.65,185.63 596.89,186.48" stroke="#5ad85a" stroke-width="2.0" stroke-dasharray="1.8 1.2" stroke-linecap="butt"/>
<path d="M373.50,47.00 373.93,47.90 374.37,48.80 374.82,49.69 375.30,50.57 375.80,51.42 376.35,52.25 376.93,53.06 377.54,53.85 378.18,54.61 378.83,55.37 379.48,56.12 380.14,56.87 380.82,57.60 381.52,58.29 382.27,58.94 383.05,59.54 383.88,60.09 384.74,60.58 385.62,61.04 386.52,61.47 387.44,61.87 388.36,62.25 389.29,62.62 390.22,62.99 391.15,63.34 392.09,63.68 393.03,64.02 393.98,64.36 394.92,64.68 395.87,65.00 396.82,65.31 397.77,65.61 398.73,65.90 399.69,66.19 400.65,66.46 401.61,66.74 402.57,67.01 403.54,67.28 404.50,67.55 405.46,67.82 406.42,68.09 407.39,68.36 408.35,68.63 409.31,68.89 410.28,69.15 411.24,69.42 412.21,69.68 413.17,69.96 414.13,70.24 415.08,70.54 416.03,70.86 416.97,71.20 417.89,71.57 418.81,71.95 419.72,72.37 420.62,72.80 421.51,73.26 422.39,73.73 423.27,74.21 424.14,74.70 425.01,75.19 425.88,75.69 426.74,76.19 427.62,76.68 428.49,77.16 429.37,77.64 430.25,78.11 431.13,78.58 432.02,79.04 432.91,79.50 433.80,79.95 434.69,80.40 435.59,80.85 436.49,81.29 437.39,81.72 438.29,82.14 439.21,82.55 440.12,82.95 441.05,83.33 441.98,83.69 442.92,84.03 443.87,84.35 444.82,84.65 445.77,84.94 446.74,85.22 447.70,85.49 448.66,85.76 449.62,86.03 450.58,86.31 451.54,86.60 452.49,86.91 453.43,87.23 454.38,87.57 455.31,87.92 456.24,88.28 457.17,88.65 458.10,89.03 459.02,89.41 459.95,89.79 460.87,90.16 461.80,90.54 462.73,90.90 463.67,91.25 464.61,91.59 465.55,91.92 466.50,92.24 467.45,92.54 468.41,92.84 469.37,93.12 470.33,93.41 471.28,93.69 472.24,93.97 473.20,94.25 474.16,94.54 475.11,94.84 476.07,95.15 477.02,95.46 477.96,95.78 478.91,96.10 479.86,96.43 480.80,96.76 481.74,97.09 482.68,97.43 483.62,97.77 484.57,98.10 485.51,98.44 486.45,98.77 487.40,99.10 488.34,99.43 489.29,99.75 490.24,100.06 491.19,100.38 492.14,100.69 493.09,100.99 494.04,101.29 495.00,101.59 495.95,101.88 496.91,102.18 497.87,102.47 498.82,102.76 499.78,103.05 500.74,103.34 501.69,103.63 502.65,103.92 503.61,104.21 504.57,104.50 505.52,104.78 506.48,105.07 507.44,105.36 508.40,105.65 509.35,105.93 510.31,106.22 511.27,106.50 512.23,106.78 513.19,107.05 514.15,107.32 515.11,107.59 516.06,107.89 517.00,108.22 517.92,108.58 518.84,108.98 519.74,109.40 520.64,109.84 521.53,110.30 522.42,110.76 523.30,111.22 524.18,111.69 525.07,112.16 525.95,112.64 526.83,113.11 527.71,113.59 528.59,114.06 529.47,114.53 530.35,115.01 531.23,115.48 532.11,115.95 533.00,116.41 533.88,116.88 534.77,117.34 535.66,117.80 536.55,118.26 537.44,118.71 538.33,119.16 539.23,119.61 540.13,120.04 541.03,120.48 541.93,120.90 542.84,121.33 543.75,121.74 544.66,122.16 545.57,122.57 546.48,122.98 547.40,123.38 548.31,123.78 549.23,124.19 550.14,124.59 551.06,124.99 551.98,125.39 552.89,125.78 553.81,126.19 554.73,126.59 555.64,126.99 556.56,127.40 557.47,127.80 558.38,128.22 559.29,128.63 560.20,129.05 561.10,129.48 562.00,129.91 562.90,130.35 563.79,130.80 564.68,131.26 565.56,131.73 566.44,132.21 567.31,132.70 568.18,133.20 569.04,133.71 569.89,134.23 570.73,134.77 571.57,135.32 572.39,135.88 573.20,136.46 574.00,137.06 574.79,137.68 575.55,138.32 576.30,138.98 577.03,139.66 577.73,140.37 578.39,141.11 579.02,141.88 579.60,142.68 580.14,143.52 580.64,144.38 581.10,145.26 581.52,146.16 581.93,147.08 582.31,148.00 582.68,148.93 583.04,149.86 583.38,150.80 583.70,151.74 584.01,152.70 584.30,153.65 584.58,154.61 584.85,155.57 585.11,156.54 585.36,157.51 585.61,158.48 585.85,159.45 586.09,160.42 586.32,161.39 586.54,162.36 586.76,163.34 586.97,164.32 587.18,165.30 587.38,166.28 587.57,167.26 587.77,168.24 587.96,169.22 588.15,170.20 588.34,171.18 588.53,172.16 588.72,173.15 588.91,174.13 589.10,175.11 589.28,176.09 589.47,177.07 589.65,178.06 589.84,179.04 590.02,180.02 590.21,181.01 590.39,181.99 590.57,182.97 590.75,183.96 590.94,184.94 591.12,185.92 591.30,186.90" stroke="#e89a1e" stroke-width="2.0" stroke-dasharray="1.8 1.2" stroke-linecap="butt"/>
<path d="M373.80,52.00 373.78,52.97 373.81,53.93 373.96,54.86 374.23,55.76 374.64,56.61 375.16,57.42 375.77,58.18 376.44,58.90 377.15,59.60 377.88,60.28 378.63,60.94 379.39,61.59 380.16,62.22 380.95,62.83 381.75,63.43 382.56,64.02 383.39,64.58 384.23,65.12 385.08,65.64 385.95,66.13 386.82,66.61 387.71,67.07 388.61,67.51 389.51,67.95 390.41,68.37 391.32,68.79 392.23,69.21 393.13,69.63 394.04,70.06 394.94,70.49 395.84,70.92 396.74,71.36 397.64,71.79 398.54,72.23 399.44,72.67 400.34,73.10 401.24,73.54 402.14,73.98 403.04,74.42 403.93,74.86 404.83,75.31 405.71,75.78 406.59,76.25 407.46,76.74 408.32,77.25 409.17,77.77 410.03,78.29 410.89,78.80 411.75,79.29 412.63,79.77 413.51,80.24 414.40,80.70 415.29,81.15 416.19,81.59 417.08,82.04 417.98,82.48 418.88,82.92 419.78,83.36 420.68,83.79 421.58,84.23 422.48,84.66 423.38,85.10 424.28,85.53 425.19,85.96 426.09,86.38 427.00,86.81 427.90,87.23 428.81,87.65 429.72,88.06 430.64,88.47 431.55,88.87 432.47,89.26 433.39,89.65 434.31,90.03 435.24,90.41 436.17,90.78 437.10,91.14 438.03,91.51 438.96,91.87 439.90,92.24 440.83,92.60 441.76,92.97 442.69,93.33 443.62,93.70 444.55,94.07 445.48,94.43 446.41,94.80 447.34,95.17 448.27,95.53 449.20,95.90 450.13,96.27 451.06,96.64 451.98,97.02 452.91,97.40 453.83,97.78 454.75,98.17 455.67,98.56 456.59,98.96 457.51,99.36 458.42,99.76 459.33,100.17 460.25,100.58 461.15,101.00 462.06,101.42 462.97,101.84 463.87,102.27 464.78,102.68 465.70,103.09 466.61,103.48 467.54,103.86 468.47,104.23 469.41,104.58 470.35,104.91 471.29,105.23 472.24,105.55 473.20,105.85 474.15,106.14 475.11,106.43 476.07,106.72 477.03,107.00 477.99,107.27 478.95,107.55 479.91,107.82 480.87,108.09 481.84,108.36 482.80,108.63 483.77,108.89 484.73,109.16 485.69,109.42 486.66,109.69 487.62,109.95 488.59,110.21 489.55,110.47 490.52,110.73 491.49,110.99 492.46,111.24 493.42,111.48 494.39,111.72 495.37,111.96 496.34,112.20 497.31,112.43 498.28,112.67 499.25,112.91 500.22,113.15 501.19,113.41 502.16,113.66 503.12,113.92 504.09,114.19 505.05,114.46 506.01,114.73 506.97,115.00 507.93,115.28 508.89,115.56 509.85,115.85 510.81,116.14 511.76,116.44 512.71,116.75 513.66,117.06 514.61,117.39 515.54,117.73 516.47,118.10 517.39,118.49 518.29,118.91 519.18,119.36 520.07,119.83 520.94,120.31 521.80,120.81 522.66,121.32 523.52,121.84 524.37,122.36 525.22,122.89 526.07,123.41 526.92,123.94 527.77,124.47 528.62,125.00 529.47,125.53 530.32,126.05 531.18,126.57 532.03,127.09 532.89,127.60 533.76,128.10 534.62,128.60 535.50,129.09 536.37,129.56 537.26,130.03 538.15,130.48 539.05,130.92 539.95,131.35 540.86,131.76 541.77,132.17 542.69,132.56 543.61,132.95 544.54,133.33 545.47,133.70 546.39,134.07 547.32,134.45 548.25,134.82 549.18,135.19 550.11,135.57 551.03,135.95 551.95,136.34 552.86,136.75 553.77,137.17 554.67,137.61 555.55,138.06 556.42,138.55 557.28,139.06 558.12,139.60 558.94,140.17 559.73,140.77 560.51,141.40 561.27,142.05 562.01,142.72 562.74,143.40 563.46,144.09 564.19,144.77 564.92,145.46 565.65,146.14 566.40,146.80 567.15,147.46 567.90,148.12 568.66,148.77 569.42,149.42 570.18,150.07 570.94,150.72 571.69,151.38 572.43,152.05 573.16,152.73 573.88,153.42 574.59,154.13 575.27,154.86 575.94,155.60 576.58,156.37 577.19,157.15 577.79,157.95 578.36,158.77 578.91,159.60 579.45,160.45 579.97,161.30 580.48,162.16 580.99,163.02 581.48,163.89 581.96,164.77 582.43,165.65 582.89,166.54 583.34,167.43 583.78,168.33 584.21,169.23 584.64,170.13 585.05,171.04 585.45,171.96 585.85,172.88 586.23,173.80 586.61,174.73 586.97,175.66 587.32,176.60 587.65,177.54 587.97,178.48 588.28,179.44 588.56,180.39 588.83,181.35 589.08,182.32 589.31,183.27 589.52,184.22 589.73,185.14 589.92,186.03 590.10,186.90" stroke="#e60000" stroke-width="2.0" stroke-dasharray="1.8 1.2" stroke-linecap="butt"/>
<path d="M373.00,31.30 373.66,32.03 374.33,32.74 375.03,33.43 375.76,34.11 376.50,34.77 377.26,35.42 378.03,36.06 378.80,36.69 379.58,37.32 380.36,37.95 381.15,38.56 381.95,39.16 382.75,39.76 383.56,40.34 384.38,40.91 385.20,41.48 386.03,42.04 386.87,42.59 387.70,43.14 388.55,43.67 389.40,44.20 390.25,44.72 391.11,45.22 391.99,45.71 392.86,46.19 393.75,46.64 394.65,47.08 395.56,47.49 396.48,47.87 397.41,48.24 398.35,48.57 399.30,48.89 400.25,49.19 401.21,49.47 402.18,49.73 403.14,49.99 404.11,50.23 405.08,50.47 406.06,50.70 407.03,50.93 408.01,51.14 408.99,51.34 409.97,51.53 410.95,51.71 411.94,51.89 412.92,52.06 413.90,52.24 414.89,52.43 415.86,52.64 416.84,52.86 417.81,53.10 418.77,53.36 419.73,53.64 420.68,53.95 421.63,54.26 422.57,54.59 423.51,54.93 424.45,55.29 425.38,55.64 426.31,56.01 427.24,56.38 428.17,56.76 429.09,57.14 430.01,57.52 430.93,57.92 431.85,58.32 432.76,58.72 433.68,59.13 434.58,59.55 435.49,59.97 436.40,60.39 437.31,60.81 438.22,61.22 439.13,61.62 440.05,62.02 440.97,62.40 441.90,62.77 442.84,63.13 443.78,63.47 444.72,63.79 445.67,64.11 446.62,64.43 447.57,64.74 448.52,65.06 449.46,65.38 450.40,65.72 451.33,66.08 452.26,66.46 453.17,66.86 454.07,67.29 454.97,67.74 455.85,68.20 456.72,68.69 457.59,69.18 458.46,69.68 459.32,70.19 460.18,70.69 461.05,71.19 461.92,71.68 462.80,72.15 463.69,72.60 464.59,73.04 465.50,73.45 466.42,73.84 467.35,74.22 468.28,74.57 469.22,74.91 470.16,75.24 471.11,75.56 472.06,75.87 473.01,76.17 473.97,76.47 474.92,76.77 475.88,77.07 476.83,77.36 477.79,77.65 478.75,77.94 479.71,78.22 480.67,78.51 481.63,78.78 482.59,79.06 483.55,79.33 484.51,79.60 485.48,79.87 486.44,80.14 487.41,80.40 488.37,80.66 489.34,80.92 490.30,81.18 491.27,81.44 492.23,81.71 493.20,81.97 494.16,82.22 495.13,82.48 496.10,82.72 497.07,82.96 498.04,83.18 499.02,83.39 500.00,83.58 500.99,83.74 501.98,83.88 502.97,83.99 503.96,84.07 504.96,84.13 505.96,84.18 506.96,84.21 507.96,84.24 508.96,84.26 509.95,84.30 510.95,84.36 511.94,84.45 512.93,84.59 513.90,84.77 514.86,85.01 515.80,85.32 516.72,85.69 517.62,86.11 518.50,86.57 519.37,87.05 520.23,87.56 521.09,88.08 521.93,88.61 522.78,89.14 523.62,89.69 524.45,90.24 525.29,90.79 526.12,91.34 526.96,91.89 527.79,92.44 528.62,92.99 529.46,93.55 530.29,94.10 531.13,94.65 531.96,95.20 532.80,95.75 533.63,96.30 534.47,96.85 535.30,97.40 536.14,97.95 536.97,98.50 537.80,99.06 538.64,99.61 539.47,100.16 540.30,100.71 541.14,101.26 541.97,101.82 542.81,102.37 543.64,102.92 544.47,103.47 545.31,104.02 546.14,104.57 546.98,105.12 547.81,105.67 548.65,106.22 549.48,106.77 550.32,107.32 551.15,107.88 551.99,108.43 552.83,108.97 553.68,109.49 554.54,109.99 555.42,110.46 556.31,110.91 557.21,111.34 558.12,111.76 559.03,112.17 559.95,112.56 560.87,112.96 561.79,113.35 562.71,113.74 563.63,114.12 564.55,114.51 565.48,114.89 566.40,115.28 567.32,115.67 568.24,116.06 569.16,116.45 570.08,116.85 570.99,117.26 571.90,117.67 572.80,118.10 573.70,118.54 574.59,118.99 575.47,119.46 576.33,119.96 577.18,120.49 578.00,121.06 578.78,121.66 579.53,122.31 580.24,123.00 580.90,123.74 581.51,124.52 582.07,125.33 582.59,126.18 583.05,127.06 583.45,127.96 583.81,128.89 584.13,129.83 584.41,130.79 584.67,131.75 584.91,132.72 585.13,133.70 585.35,134.67 585.56,135.65 585.76,136.63 585.95,137.61 586.14,138.59 586.32,139.58 586.49,140.56 586.67,141.55 586.84,142.53 587.01,143.52 587.18,144.50 587.35,145.49 587.52,146.47 587.69,147.46 587.86,148.44 588.03,149.43 588.20,150.42 588.37,151.40 588.54,152.39 588.70,153.37 588.87,154.36 589.03,155.35 589.19,156.33 589.35,157.32 589.52,158.31 589.68,159.29 589.85,160.28 590.02,161.26 590.19,162.25 590.37,163.23 590.55,164.22 590.73,165.20 590.91,166.18 591.09,167.17 591.28,168.15 591.47,169.13 591.65,170.11 591.84,171.10 592.03,172.08 592.22,173.06 592.41,174.04 592.60,175.02 592.79,176.00 592.98,176.99 593.17,177.97 593.36,178.95 593.55,179.93 593.74,180.91 593.93,181.89 594.12,182.86 594.30,183.81 594.48,184.74 594.65,185.63 594.82,186.48" stroke="#0000e6" stroke-width="1.85" stroke-linecap="round"/>
<path d="M373.00,31.50 373.08,32.48 373.19,33.45 373.37,34.40 373.64,35.30 374.04,36.14 374.55,36.94 375.15,37.69 375.82,38.41 376.52,39.11 377.24,39.80 377.97,40.48 378.71,41.15 379.46,41.81 380.23,42.46 381.00,43.09 381.78,43.71 382.58,44.30 383.40,44.88 384.23,45.43 385.08,45.97 385.93,46.48 386.80,46.97 387.68,47.45 388.57,47.91 389.46,48.35 390.36,48.79 391.27,49.21 392.18,49.61 393.10,50.01 394.02,50.39 394.95,50.77 395.88,51.13 396.82,51.47 397.76,51.80 398.71,52.12 399.66,52.42 400.62,52.71 401.58,52.98 402.55,53.25 403.52,53.50 404.49,53.74 405.46,53.96 406.44,54.17 407.42,54.36 408.40,54.53 409.39,54.69 410.38,54.82 411.37,54.94 412.36,55.06 413.35,55.18 414.34,55.32 415.33,55.48 416.31,55.67 417.28,55.90 418.23,56.17 419.18,56.47 420.12,56.82 421.04,57.20 421.95,57.60 422.86,58.03 423.75,58.47 424.64,58.92 425.53,59.38 426.42,59.83 427.32,60.28 428.21,60.72 429.12,61.15 430.02,61.57 430.94,61.98 431.86,62.37 432.78,62.76 433.70,63.14 434.63,63.51 435.56,63.88 436.49,64.25 437.42,64.61 438.36,64.97 439.29,65.32 440.23,65.67 441.16,66.02 442.10,66.36 443.04,66.70 443.99,67.03 444.93,67.35 445.88,67.67 446.83,67.99 447.78,68.31 448.72,68.64 449.67,68.97 450.60,69.32 451.54,69.67 452.46,70.05 453.38,70.44 454.30,70.84 455.20,71.27 456.10,71.71 456.99,72.16 457.88,72.62 458.76,73.08 459.65,73.54 460.54,74.00 461.43,74.46 462.32,74.90 463.22,75.34 464.13,75.75 465.05,76.15 465.97,76.54 466.90,76.90 467.84,77.26 468.78,77.60 469.72,77.93 470.67,78.25 471.61,78.56 472.56,78.88 473.51,79.19 474.46,79.50 475.41,79.81 476.36,80.13 477.31,80.45 478.26,80.77 479.21,81.09 480.15,81.41 481.10,81.73 482.05,82.05 482.99,82.37 483.94,82.68 484.89,83.00 485.84,83.30 486.80,83.61 487.75,83.91 488.71,84.20 489.67,84.49 490.63,84.77 491.59,85.04 492.55,85.31 493.52,85.57 494.48,85.82 495.45,86.07 496.42,86.31 497.40,86.53 498.37,86.75 499.35,86.95 500.33,87.13 501.32,87.30 502.31,87.45 503.30,87.57 504.29,87.68 505.29,87.77 506.28,87.85 507.28,87.92 508.28,87.99 509.27,88.07 510.27,88.16 511.26,88.29 512.24,88.45 513.20,88.66 514.15,88.94 515.08,89.28 515.98,89.68 516.86,90.13 517.73,90.63 518.58,91.14 519.43,91.67 520.27,92.21 521.12,92.75 521.95,93.29 522.79,93.83 523.63,94.38 524.46,94.94 525.30,95.49 526.13,96.04 526.96,96.60 527.79,97.15 528.63,97.70 529.46,98.25 530.30,98.80 531.14,99.34 531.98,99.89 532.82,100.43 533.66,100.97 534.50,101.51 535.34,102.05 536.19,102.59 537.03,103.12 537.87,103.66 538.72,104.19 539.57,104.73 540.41,105.26 541.26,105.79 542.11,106.32 542.95,106.85 543.80,107.38 544.65,107.91 545.50,108.44 546.35,108.96 547.20,109.49 548.05,110.01 548.91,110.53 549.76,111.05 550.62,111.57 551.48,112.08 552.34,112.59 553.20,113.10 554.06,113.61 554.92,114.12 555.78,114.63 556.64,115.13 557.51,115.63 558.38,116.13 559.24,116.63 560.11,117.12 560.99,117.61 561.86,118.10 562.74,118.57 563.62,119.05 564.51,119.51 565.40,119.97 566.29,120.41 567.19,120.84 568.10,121.27 569.01,121.68 569.92,122.09 570.83,122.49 571.75,122.90 572.66,123.31 573.57,123.72 574.47,124.15 575.37,124.59 576.25,125.06 577.11,125.55 577.94,126.08 578.73,126.66 579.44,127.31 580.07,128.03 580.60,128.83 581.05,129.69 581.42,130.59 581.74,131.53 582.02,132.49 582.28,133.45 582.51,134.42 582.73,135.40 582.94,136.37 583.15,137.35 583.35,138.33 583.54,139.31 583.73,140.30 583.92,141.28 584.11,142.26 584.30,143.24 584.50,144.22 584.69,145.20 584.89,146.18 585.09,147.16 585.30,148.14 585.51,149.12 585.72,150.09 585.93,151.07 586.14,152.05 586.35,153.03 586.57,154.00 586.78,154.98 586.99,155.96 587.21,156.94 587.42,157.91 587.64,158.89 587.86,159.86 588.08,160.84 588.30,161.81 588.52,162.79 588.75,163.76 588.98,164.74 589.20,165.71 589.43,166.68 589.66,167.66 589.89,168.63 590.13,169.60 590.36,170.58 590.59,171.55 590.82,172.52 591.06,173.49 591.29,174.46 591.53,175.44 591.76,176.41 592.00,177.38 592.23,178.35 592.47,179.33 592.70,180.30 592.94,181.27 593.17,182.24 593.40,183.20 593.63,184.15 593.86,185.08 594.08,186.00 594.30,186.90" stroke="#00aaee" stroke-width="1.85" stroke-linecap="round"/>
<path d="M373.00,31.50 L373.00,38.80 M373.00,38.80 373.52,39.62 374.07,40.42 374.66,41.20 375.29,41.96 375.96,42.70 376.65,43.42 377.35,44.13 378.05,44.84 378.77,45.53 379.50,46.22 380.23,46.90 380.99,47.55 381.75,48.20 382.53,48.82 383.33,49.41 384.15,49.98 384.98,50.53 385.83,51.06 386.69,51.56 387.57,52.05 388.45,52.51 389.35,52.96 390.25,53.39 391.16,53.81 392.07,54.21 392.99,54.59 393.92,54.97 394.85,55.32 395.79,55.66 396.74,55.98 397.69,56.28 398.65,56.56 399.61,56.83 400.58,57.07 401.56,57.30 402.53,57.52 403.51,57.73 404.49,57.93 405.47,58.12 406.45,58.30 407.44,58.47 408.43,58.62 409.42,58.76 410.41,58.88 411.40,59.00 412.39,59.11 413.39,59.23 414.38,59.37 415.36,59.52 416.34,59.70 417.32,59.92 418.28,60.17 419.24,60.45 420.18,60.77 421.12,61.12 422.04,61.49 422.96,61.89 423.87,62.29 424.78,62.71 425.69,63.13 426.60,63.55 427.50,63.97 428.42,64.38 429.33,64.78 430.25,65.18 431.17,65.57 432.09,65.95 433.02,66.33 433.95,66.71 434.87,67.08 435.80,67.45 436.73,67.82 437.66,68.18 438.59,68.55 439.53,68.90 440.46,69.26 441.40,69.61 442.34,69.95 443.28,70.29 444.22,70.62 445.17,70.95 446.11,71.28 447.06,71.60 448.00,71.92 448.95,72.25 449.89,72.59 450.83,72.93 451.77,73.28 452.70,73.64 453.63,74.01 454.55,74.39 455.47,74.78 456.39,75.18 457.30,75.59 458.21,76.01 459.12,76.42 460.03,76.84 460.94,77.26 461.85,77.67 462.76,78.09 463.67,78.49 464.59,78.89 465.51,79.28 466.43,79.67 467.36,80.05 468.28,80.42 469.21,80.79 470.14,81.16 471.07,81.53 472.00,81.90 472.93,82.26 473.86,82.63 474.79,83.00 475.72,83.38 476.64,83.76 477.56,84.15 478.48,84.54 479.40,84.93 480.32,85.33 481.23,85.74 482.15,86.14 483.07,86.53 483.99,86.93 484.91,87.31 485.84,87.68 486.77,88.04 487.71,88.39 488.65,88.71 489.61,89.00 490.57,89.27 491.54,89.51 492.51,89.71 493.49,89.89 494.48,90.04 495.47,90.17 496.46,90.29 497.46,90.40 498.45,90.52 499.44,90.63 500.44,90.76 501.43,90.89 502.42,91.03 503.41,91.17 504.40,91.31 505.39,91.45 506.37,91.60 507.36,91.76 508.34,91.94 509.32,92.14 510.29,92.38 511.25,92.64 512.20,92.95 513.13,93.29 514.06,93.66 514.96,94.08 515.86,94.52 516.74,94.99 517.61,95.48 518.47,95.98 519.33,96.50 520.17,97.04 521.01,97.58 521.85,98.12 522.68,98.68 523.50,99.25 524.32,99.82 525.12,100.41 525.91,101.02 526.69,101.65 527.45,102.29 528.21,102.94 528.98,103.58 529.76,104.20 530.55,104.80 531.37,105.38 532.19,105.95 533.03,106.49 533.87,107.03 534.72,107.56 535.57,108.08 536.42,108.61 537.28,109.12 538.14,109.64 539.00,110.15 539.86,110.66 540.72,111.17 541.58,111.68 542.44,112.18 543.31,112.69 544.17,113.18 545.04,113.68 545.91,114.17 546.78,114.66 547.66,115.14 548.54,115.62 549.41,116.10 550.29,116.58 551.17,117.05 552.06,117.52 552.94,118.00 553.82,118.46 554.71,118.93 555.59,119.40 556.48,119.86 557.36,120.33 558.25,120.79 559.13,121.26 560.02,121.72 560.90,122.19 561.78,122.66 562.66,123.13 563.54,123.61 564.42,124.09 565.30,124.57 566.18,125.05 567.05,125.53 567.93,126.01 568.81,126.49 569.68,126.97 570.56,127.46 571.43,127.95 572.30,128.44 573.16,128.94 574.02,129.45 574.87,129.98 575.72,130.51 576.54,131.07 577.35,131.66 578.12,132.28 578.85,132.94 579.53,133.65 580.14,134.41 580.69,135.23 581.16,136.09 581.58,136.99 581.95,137.91 582.29,138.85 582.59,139.80 582.87,140.76 583.13,141.72 583.37,142.69 583.60,143.67 583.82,144.64 584.04,145.62 584.25,146.59 584.46,147.57 584.66,148.55 584.86,149.53 585.05,150.51 585.23,151.50 585.41,152.48 585.58,153.46 585.75,154.45 585.93,155.43 586.11,156.42 586.30,157.40 586.49,158.38 586.70,159.36 586.92,160.33 587.15,161.30 587.40,162.27 587.66,163.24 587.93,164.20 588.20,165.16 588.47,166.13 588.73,167.09 588.99,168.06 589.24,169.03 589.48,170.00 589.71,170.97 589.93,171.94 590.15,172.92 590.36,173.90 590.58,174.87 590.79,175.85 590.99,176.83 591.20,177.81 591.41,178.79 591.61,179.76 591.82,180.74 592.02,181.72 592.22,182.69 592.42,183.66 592.62,184.61 592.81,185.54 593.01,186.45" stroke="#5ad85a" stroke-width="1.85" stroke-linecap="round"/>
<path d="M373.00,31.50 L373.00,43.00 M373.00,43.00 373.25,43.96 373.52,44.92 373.83,45.86 374.19,46.79 374.60,47.69 375.06,48.57 375.56,49.43 376.09,50.27 376.66,51.09 377.26,51.89 377.90,52.65 378.57,53.38 379.28,54.08 380.02,54.74 380.80,55.35 381.61,55.93 382.44,56.47 383.31,56.97 384.19,57.43 385.08,57.87 385.99,58.28 386.91,58.67 387.84,59.04 388.78,59.39 389.72,59.73 390.66,60.06 391.61,60.38 392.56,60.70 393.51,61.00 394.46,61.30 395.42,61.60 396.37,61.89 397.33,62.17 398.29,62.45 399.26,62.72 400.22,62.98 401.19,63.23 402.16,63.47 403.13,63.70 404.11,63.92 405.09,64.13 406.06,64.33 407.04,64.54 408.02,64.75 408.99,64.98 409.97,65.21 410.94,65.45 411.90,65.71 412.86,65.98 413.82,66.27 414.77,66.57 415.72,66.88 416.67,67.20 417.62,67.52 418.56,67.85 419.50,68.19 420.44,68.53 421.38,68.87 422.32,69.22 423.26,69.57 424.19,69.92 425.13,70.28 426.06,70.64 426.99,71.00 427.92,71.36 428.85,71.73 429.78,72.11 430.71,72.49 431.63,72.87 432.54,73.27 433.45,73.68 434.36,74.11 435.25,74.55 436.14,75.01 437.03,75.47 437.91,75.94 438.80,76.40 439.69,76.85 440.59,77.28 441.50,77.69 442.43,78.07 443.35,78.44 444.29,78.79 445.23,79.12 446.18,79.45 447.12,79.77 448.07,80.09 449.02,80.41 449.96,80.74 450.91,81.07 451.84,81.42 452.78,81.77 453.71,82.14 454.63,82.53 455.55,82.92 456.47,83.32 457.38,83.73 458.29,84.14 459.20,84.56 460.10,84.98 461.01,85.40 461.92,85.81 462.84,86.22 463.75,86.63 464.67,87.02 465.59,87.42 466.51,87.81 467.43,88.19 468.36,88.57 469.28,88.94 470.21,89.32 471.14,89.69 472.07,90.05 473.00,90.42 473.93,90.78 474.86,91.15 475.80,91.51 476.73,91.87 477.66,92.24 478.59,92.60 479.52,92.97 480.45,93.34 481.38,93.70 482.31,94.07 483.25,94.43 484.18,94.78 485.12,95.13 486.06,95.47 487.00,95.80 487.95,96.12 488.90,96.42 489.86,96.70 490.82,96.96 491.79,97.20 492.77,97.42 493.75,97.62 494.73,97.80 495.71,97.98 496.70,98.14 497.69,98.30 498.67,98.47 499.65,98.65 500.64,98.84 501.61,99.04 502.59,99.26 503.56,99.50 504.53,99.75 505.49,100.02 506.44,100.32 507.38,100.65 508.30,101.02 509.20,101.44 510.06,101.92 510.90,102.45 511.70,103.03 512.48,103.65 513.24,104.29 514.01,104.93 514.78,105.56 515.56,106.18 516.35,106.79 517.15,107.40 517.95,108.00 518.76,108.59 519.57,109.18 520.38,109.76 521.20,110.33 522.03,110.89 522.86,111.44 523.71,111.97 524.56,112.49 525.42,112.99 526.30,113.47 527.18,113.94 528.08,114.39 528.97,114.83 529.87,115.27 530.77,115.70 531.68,116.13 532.58,116.56 533.48,117.00 534.38,117.44 535.27,117.88 536.17,118.32 537.07,118.76 537.96,119.21 538.86,119.66 539.75,120.11 540.64,120.57 541.52,121.04 542.40,121.52 543.27,122.00 544.14,122.50 545.00,123.01 545.85,123.53 546.71,124.05 547.56,124.57 548.41,125.09 549.27,125.61 550.13,126.11 551.00,126.61 551.87,127.10 552.75,127.57 553.63,128.04 554.52,128.51 555.41,128.96 556.30,129.41 557.19,129.86 558.09,130.31 558.99,130.75 559.88,131.20 560.78,131.64 561.68,132.08 562.58,132.52 563.48,132.95 564.38,133.39 565.28,133.82 566.18,134.25 567.08,134.68 567.99,135.10 568.90,135.53 569.80,135.95 570.70,136.38 571.61,136.81 572.51,137.24 573.41,137.68 574.30,138.12 575.19,138.58 576.06,139.06 576.91,139.57 577.73,140.13 578.51,140.74 579.24,141.40 579.93,142.11 580.56,142.87 581.15,143.67 581.68,144.50 582.18,145.36 582.64,146.25 583.06,147.15 583.45,148.07 583.82,149.00 584.16,149.93 584.49,150.88 584.79,151.83 585.08,152.79 585.36,153.75 585.63,154.71 585.89,155.68 586.14,156.64 586.39,157.61 586.64,158.58 586.87,159.55 587.10,160.52 587.33,161.50 587.54,162.48 587.74,163.46 587.94,164.44 588.13,165.42 588.31,166.40 588.50,167.38 588.69,168.36 588.88,169.35 589.07,170.33 589.27,171.31 589.47,172.29 589.67,173.27 589.87,174.25 590.08,175.23 590.28,176.20 590.48,177.18 590.69,178.16 590.89,179.14 591.09,180.12 591.30,181.10 591.50,182.08 591.70,183.05 591.90,184.02 592.10,184.99 592.30,185.95 592.50,186.90" stroke="#e89a1e" stroke-width="1.85" stroke-linecap="round"/>
<path d="M373.00,31.50 L373.00,51.50 M373.00,51.50 373.48,52.38 373.97,53.24 374.49,54.09 375.04,54.92 375.64,55.71 376.28,56.46 376.97,57.18 377.69,57.86 378.44,58.52 379.21,59.15 380.00,59.76 380.81,60.34 381.63,60.91 382.47,61.45 383.32,61.98 384.18,62.49 385.05,62.98 385.93,63.46 386.81,63.92 387.71,64.37 388.60,64.81 389.50,65.25 390.41,65.67 391.32,66.09 392.23,66.50 393.15,66.90 394.07,67.29 394.99,67.67 395.92,68.04 396.85,68.41 397.79,68.75 398.73,69.08 399.68,69.40 400.63,69.68 401.60,69.95 402.57,70.18 403.54,70.40 404.52,70.59 405.50,70.77 406.49,70.94 407.47,71.11 408.46,71.29 409.44,71.48 410.42,71.68 411.39,71.91 412.35,72.17 413.31,72.45 414.26,72.75 415.21,73.08 416.15,73.42 417.08,73.78 418.00,74.15 418.93,74.54 419.85,74.93 420.77,75.33 421.68,75.73 422.59,76.14 423.51,76.55 424.42,76.96 425.33,77.38 426.24,77.79 427.15,78.21 428.06,78.62 428.97,79.03 429.88,79.44 430.79,79.86 431.70,80.27 432.61,80.68 433.52,81.10 434.43,81.52 435.33,81.94 436.24,82.37 437.15,82.79 438.05,83.20 438.96,83.62 439.88,84.03 440.79,84.43 441.71,84.83 442.63,85.22 443.55,85.61 444.48,85.99 445.40,86.37 446.33,86.74 447.26,87.11 448.19,87.48 449.12,87.84 450.05,88.20 450.99,88.56 451.92,88.91 452.86,89.26 453.80,89.61 454.73,89.96 455.67,90.30 456.61,90.64 457.56,90.97 458.50,91.31 459.44,91.64 460.39,91.97 461.33,92.29 462.28,92.62 463.22,92.95 464.17,93.28 465.11,93.60 466.06,93.92 467.01,94.24 467.95,94.56 468.90,94.88 469.85,95.20 470.80,95.52 471.74,95.84 472.69,96.18 473.63,96.51 474.57,96.86 475.50,97.22 476.43,97.58 477.35,97.96 478.28,98.35 479.19,98.75 480.11,99.15 481.02,99.56 481.93,99.97 482.84,100.39 483.75,100.80 484.66,101.21 485.58,101.62 486.49,102.02 487.41,102.41 488.33,102.80 489.26,103.17 490.20,103.52 491.14,103.86 492.08,104.18 493.03,104.49 493.99,104.78 494.95,105.06 495.91,105.34 496.87,105.62 497.83,105.90 498.79,106.19 499.74,106.50 500.68,106.82 501.62,107.17 502.55,107.54 503.47,107.93 504.38,108.33 505.29,108.75 506.18,109.19 507.08,109.64 507.96,110.10 508.84,110.58 509.70,111.08 510.55,111.61 511.38,112.16 512.18,112.74 512.98,113.34 513.76,113.95 514.56,114.56 515.36,115.14 516.18,115.71 517.02,116.26 517.86,116.79 518.71,117.32 519.57,117.84 520.42,118.36 521.28,118.88 522.13,119.39 522.99,119.91 523.84,120.43 524.69,120.95 525.55,121.48 526.40,122.00 527.25,122.53 528.09,123.06 528.95,123.59 529.80,124.11 530.65,124.62 531.51,125.13 532.38,125.63 533.25,126.12 534.13,126.60 535.01,127.07 535.90,127.53 536.79,127.98 537.69,128.42 538.59,128.86 539.49,129.30 540.39,129.73 541.29,130.17 542.18,130.61 543.08,131.06 543.97,131.52 544.86,131.98 545.74,132.44 546.63,132.90 547.52,133.36 548.40,133.82 549.30,134.27 550.19,134.71 551.09,135.15 552.00,135.57 552.91,135.98 553.82,136.39 554.74,136.79 555.66,137.18 556.58,137.56 557.51,137.95 558.43,138.33 559.36,138.71 560.28,139.09 561.20,139.48 562.12,139.87 563.04,140.26 563.96,140.66 564.87,141.07 565.78,141.49 566.68,141.92 567.58,142.36 568.46,142.82 569.34,143.30 570.20,143.81 571.05,144.33 571.89,144.87 572.72,145.43 573.53,146.01 574.33,146.61 575.11,147.23 575.87,147.87 576.60,148.55 577.31,149.25 577.97,149.99 578.60,150.76 579.20,151.55 579.77,152.37 580.31,153.21 580.83,154.07 581.32,154.94 581.78,155.82 582.23,156.71 582.65,157.62 583.04,158.54 583.41,159.46 583.76,160.40 584.10,161.34 584.42,162.28 584.75,163.23 585.07,164.18 585.39,165.13 585.70,166.07 586.02,167.02 586.33,167.97 586.63,168.93 586.92,169.88 587.19,170.84 587.46,171.81 587.71,172.78 587.95,173.75 588.18,174.72 588.40,175.69 588.62,176.67 588.83,177.65 589.03,178.63 589.24,179.61 589.44,180.59 589.63,181.57 589.83,182.54 590.02,183.52 590.22,184.49 590.41,185.46 590.60,186.42" stroke="#e60000" stroke-width="1.85" stroke-linecap="round"/>
</g>
<text x="369.40" y="191.50" font-size="11" fill="#262626" text-anchor="end">3</text>
<text x="369.40" y="165.57" font-size="11" fill="#262626" text-anchor="end">3.2</text>
<text x="369.40" y="139.64" font-size="11" fill="#262626" text-anchor="end">3.4</text>
<text x="369.40" y="113.71" font-size="11" fill="#262626" text-anchor="end">3.6</text>
<text x="369.40" y="87.79" font-size="11" fill="#262626" text-anchor="end">3.8</text>
<text x="369.40" y="61.86" font-size="11" fill="#262626" text-anchor="end">4</text>
<text x="369.40" y="35.93" font-size="11" fill="#262626" text-anchor="end">4.2</text>
<text x="369.40" y="10.00" font-size="11" fill="#262626" text-anchor="end">4.4</text>
<text transform="translate(350.00,97.50) rotate(-90)" font-size="11.6" fill="#262626" text-anchor="middle" xml:space="preserve">Voltage  /  V</text>
<text x="336.4" y="10.9" font-size="12" letter-spacing="1.2" fill="#262626">b)</text>
<text x="382.0" y="23.9" font-size="15.2" font-weight="bold" fill="#000">35 °C</text>
<rect x="41.0" y="216.3" width="256.4" height="182.3" fill="none" stroke="#8c8c8c" stroke-width="1.5"/>
<path d="M41.0,397.40h2.6M297.4,397.40h-2.6M41.0,371.54h2.6M297.4,371.54h-2.6M41.0,345.69h2.6M297.4,345.69h-2.6M41.0,319.83h2.6M297.4,319.83h-2.6M41.0,293.97h2.6M297.4,293.97h-2.6M41.0,268.11h2.6M297.4,268.11h-2.6M41.0,242.26h2.6M297.4,242.26h-2.6M41.0,216.40h2.6M297.4,216.40h-2.6M41.00,216.3v2.6M41.00,398.6v-2.6M83.73,216.3v2.6M83.73,398.6v-2.6M126.47,216.3v2.6M126.47,398.6v-2.6M169.20,216.3v2.6M169.20,398.6v-2.6M211.93,216.3v2.6M211.93,398.6v-2.6M254.67,216.3v2.6M254.67,398.6v-2.6M297.40,216.3v2.6M297.40,398.6v-2.6" stroke="#8c8c8c" stroke-width="1.3" fill="none"/>
<clipPath id="clipc"><rect x="39.5" y="215.3" width="259.4" height="184.3"/></clipPath>
<g clip-path="url(#clipc)" fill="none" stroke-linejoin="round">
<path d="M41.00,242.50 41.75,243.16 42.50,243.82 43.26,244.48 44.01,245.14 44.76,245.79 45.52,246.44 46.29,247.09 47.06,247.73 47.83,248.36 48.62,248.97 49.41,249.58 50.21,250.18 51.02,250.76 51.84,251.34 52.66,251.90 53.49,252.46 54.33,253.02 55.17,253.56 56.01,254.09 56.86,254.62 57.72,255.13 58.58,255.64 59.45,256.12 60.33,256.60 61.22,257.05 62.12,257.48 63.04,257.89 63.96,258.27 64.89,258.63 65.83,258.95 66.78,259.26 67.74,259.54 68.71,259.80 69.68,260.04 70.65,260.28 71.62,260.51 72.59,260.74 73.57,260.98 74.54,261.21 75.51,261.45 76.48,261.70 77.45,261.94 78.42,262.18 79.39,262.42 80.36,262.65 81.33,262.90 82.30,263.15 83.26,263.41 84.22,263.69 85.18,263.98 86.13,264.29 87.08,264.60 88.02,264.93 88.97,265.26 89.91,265.60 90.84,265.95 91.78,266.31 92.71,266.67 93.64,267.03 94.57,267.39 95.50,267.76 96.43,268.13 97.36,268.50 98.29,268.88 99.22,269.25 100.14,269.63 101.07,270.00 102.00,270.38 102.92,270.75 103.85,271.13 104.77,271.51 105.70,271.89 106.63,272.26 107.55,272.64 108.48,273.02 109.41,273.39 110.33,273.77 111.26,274.14 112.19,274.51 113.12,274.89 114.04,275.26 114.97,275.64 115.90,276.01 116.82,276.39 117.75,276.77 118.67,277.15 119.60,277.53 120.52,277.92 121.44,278.30 122.37,278.68 123.29,279.07 124.22,279.45 125.14,279.83 126.06,280.21 126.99,280.59 127.92,280.97 128.84,281.34 129.77,281.71 130.70,282.08 131.63,282.45 132.56,282.81 133.50,283.17 134.43,283.52 135.37,283.87 136.31,284.21 137.25,284.55 138.19,284.88 139.14,285.21 140.09,285.53 141.03,285.85 141.98,286.17 142.93,286.48 143.88,286.79 144.83,287.09 145.79,287.40 146.74,287.70 147.70,287.99 148.65,288.29 149.61,288.58 150.57,288.86 151.53,289.14 152.49,289.42 153.45,289.70 154.41,289.97 155.38,290.24 156.34,290.50 157.31,290.76 158.27,291.01 159.24,291.26 160.21,291.50 161.19,291.73 162.16,291.95 163.14,292.17 164.12,292.37 165.10,292.55 166.08,292.72 167.07,292.88 168.06,293.01 169.05,293.13 170.05,293.24 171.04,293.33 172.04,293.42 173.03,293.49 174.03,293.57 175.03,293.64 176.03,293.71 177.02,293.79 178.02,293.89 179.01,294.01 180.00,294.15 180.98,294.32 181.96,294.51 182.93,294.75 183.89,295.01 184.84,295.32 185.77,295.66 186.70,296.03 187.61,296.43 188.52,296.85 189.42,297.28 190.32,297.72 191.22,298.16 192.11,298.61 193.00,299.06 193.89,299.51 194.78,299.97 195.67,300.43 196.55,300.90 197.44,301.37 198.32,301.84 199.20,302.31 200.08,302.79 200.96,303.27 201.83,303.75 202.71,304.23 203.59,304.71 204.46,305.20 205.33,305.68 206.21,306.17 207.08,306.66 207.95,307.15 208.82,307.64 209.69,308.14 210.55,308.64 211.42,309.15 212.28,309.65 213.14,310.16 214.00,310.67 214.86,311.18 215.72,311.69 216.58,312.20 217.44,312.71 218.30,313.22 219.16,313.74 220.02,314.25 220.88,314.75 221.74,315.26 222.61,315.76 223.47,316.27 224.34,316.76 225.21,317.26 226.08,317.75 226.95,318.24 227.82,318.73 228.70,319.21 229.58,319.69 230.46,320.17 231.34,320.64 232.22,321.12 233.10,321.59 233.98,322.06 234.86,322.53 235.75,323.00 236.63,323.46 237.52,323.93 238.40,324.39 239.29,324.86 240.17,325.32 241.06,325.79 241.94,326.25 242.83,326.71 243.72,327.17 244.61,327.63 245.50,328.08 246.39,328.53 247.29,328.97 248.19,329.41 249.09,329.84 249.98,330.28 250.88,330.73 251.76,331.19 252.64,331.66 253.48,332.17 254.29,332.73 255.03,333.36 255.71,334.05 256.31,334.82 256.84,335.64 257.31,336.51 257.73,337.41 258.12,338.33 258.47,339.26 258.81,340.20 259.13,341.15 259.43,342.10 259.73,343.05 260.02,344.01 260.31,344.97 260.60,345.93 260.88,346.89 261.16,347.85 261.44,348.81 261.72,349.77 262.00,350.73 262.28,351.69 262.54,352.65 262.80,353.62 263.06,354.58 263.30,355.55 263.54,356.52 263.76,357.50 263.97,358.48 264.18,359.45 264.37,360.44 264.55,361.42 264.73,362.40 264.90,363.39 265.05,364.38 265.21,365.36 265.35,366.35 265.49,367.34 265.63,368.33 265.76,369.32 265.89,370.32 266.02,371.31 266.14,372.30 266.27,373.29 266.39,374.28 266.52,375.28 266.64,376.27 266.77,377.26 266.90,378.25 267.02,379.24 267.14,380.24 267.27,381.23 267.39,382.22 267.51,383.22 267.63,384.21 267.75,385.20 267.87,386.19 267.99,387.19 268.10,388.18 268.22,389.17 268.34,390.17 268.46,391.16 268.58,392.15 268.69,393.14 268.81,394.11 268.92,395.08 269.04,396.02 269.15,396.94" stroke="#0000e6" stroke-width="2.0" stroke-dasharray="1.8 1.2" stroke-linecap="butt"/>
<path d="M41.00,246.00 41.75,246.66 42.50,247.32 43.25,247.99 44.00,248.65 44.75,249.31 45.51,249.96 46.27,250.61 47.04,251.24 47.82,251.87 48.60,252.49 49.40,253.09 50.21,253.68 51.02,254.27 51.84,254.84 52.66,255.41 53.49,255.97 54.32,256.52 55.16,257.06 56.01,257.58 56.88,258.08 57.75,258.56 58.64,259.02 59.54,259.46 60.45,259.87 61.36,260.27 62.29,260.64 63.23,260.99 64.17,261.32 65.12,261.64 66.07,261.94 67.03,262.22 67.99,262.49 68.95,262.75 69.92,263.01 70.89,263.26 71.86,263.50 72.83,263.74 73.80,263.98 74.77,264.22 75.74,264.46 76.72,264.70 77.69,264.94 78.65,265.18 79.62,265.43 80.59,265.68 81.56,265.94 82.52,266.21 83.48,266.49 84.44,266.77 85.40,267.06 86.35,267.37 87.30,267.68 88.24,268.01 89.18,268.35 90.12,268.70 91.05,269.06 91.98,269.43 92.91,269.81 93.83,270.19 94.75,270.58 95.67,270.98 96.58,271.38 97.50,271.79 98.41,272.20 99.32,272.61 100.23,273.03 101.13,273.45 102.04,273.87 102.95,274.29 103.86,274.71 104.76,275.13 105.67,275.55 106.58,275.97 107.49,276.38 108.40,276.80 109.31,277.21 110.22,277.62 111.14,278.02 112.06,278.42 112.98,278.81 113.90,279.20 114.82,279.59 115.74,279.98 116.66,280.37 117.58,280.75 118.51,281.14 119.43,281.52 120.35,281.91 121.27,282.29 122.20,282.68 123.12,283.06 124.05,283.44 124.97,283.82 125.90,284.19 126.83,284.57 127.75,284.94 128.68,285.31 129.61,285.68 130.54,286.04 131.48,286.40 132.41,286.76 133.35,287.12 134.28,287.47 135.22,287.81 136.16,288.16 137.10,288.49 138.04,288.83 138.99,289.16 139.93,289.48 140.88,289.80 141.83,290.11 142.78,290.42 143.73,290.73 144.69,291.03 145.64,291.33 146.60,291.62 147.55,291.92 148.51,292.21 149.47,292.49 150.43,292.78 151.38,293.06 152.34,293.34 153.30,293.62 154.27,293.90 155.23,294.17 156.19,294.45 157.15,294.72 158.11,294.99 159.08,295.26 160.04,295.52 161.01,295.79 161.97,296.05 162.94,296.31 163.91,296.55 164.88,296.77 165.85,296.97 166.84,297.14 167.82,297.27 168.81,297.38 169.81,297.47 170.80,297.54 171.80,297.61 172.80,297.66 173.80,297.71 174.79,297.76 175.79,297.81 176.79,297.88 177.78,297.97 178.78,298.08 179.76,298.22 180.75,298.39 181.72,298.59 182.69,298.83 183.65,299.10 184.60,299.41 185.54,299.74 186.47,300.10 187.39,300.49 188.30,300.89 189.21,301.31 190.11,301.74 191.01,302.18 191.90,302.64 192.79,303.10 193.67,303.56 194.55,304.04 195.43,304.51 196.31,305.00 197.18,305.48 198.05,305.97 198.93,306.46 199.79,306.96 200.66,307.45 201.53,307.95 202.40,308.45 203.26,308.95 204.13,309.45 205.00,309.95 205.86,310.45 206.73,310.95 207.60,311.45 208.46,311.95 209.32,312.45 210.18,312.96 211.04,313.47 211.90,313.99 212.75,314.51 213.60,315.04 214.45,315.56 215.30,316.09 216.15,316.63 216.99,317.16 217.84,317.69 218.68,318.23 219.53,318.76 220.38,319.29 221.23,319.82 222.08,320.35 222.93,320.87 223.79,321.39 224.64,321.90 225.51,322.40 226.37,322.90 227.24,323.40 228.11,323.89 228.99,324.37 229.87,324.84 230.75,325.31 231.64,325.78 232.52,326.25 233.41,326.71 234.30,327.17 235.19,327.62 236.08,328.08 236.97,328.54 237.86,328.99 238.74,329.45 239.63,329.91 240.52,330.38 241.40,330.84 242.28,331.32 243.16,331.80 244.03,332.29 244.90,332.79 245.76,333.29 246.62,333.81 247.46,334.33 248.30,334.88 249.12,335.44 249.92,336.04 250.68,336.67 251.40,337.35 252.07,338.08 252.70,338.84 253.28,339.65 253.82,340.48 254.31,341.35 254.77,342.23 255.20,343.13 255.61,344.04 255.99,344.96 256.37,345.89 256.74,346.82 257.11,347.75 257.49,348.67 257.87,349.60 258.25,350.52 258.65,351.44 259.05,352.35 259.45,353.27 259.85,354.19 260.24,355.11 260.62,356.03 260.98,356.96 261.31,357.90 261.63,358.85 261.92,359.81 262.18,360.77 262.43,361.74 262.65,362.71 262.85,363.69 263.04,364.67 263.22,365.66 263.39,366.64 263.55,367.63 263.70,368.62 263.84,369.61 263.98,370.60 264.12,371.59 264.26,372.58 264.39,373.57 264.53,374.56 264.66,375.55 264.80,376.54 264.94,377.53 265.07,378.52 265.21,379.51 265.34,380.50 265.48,381.49 265.61,382.49 265.74,383.48 265.87,384.47 266.00,385.46 266.12,386.45 266.25,387.44 266.38,388.44 266.50,389.43 266.63,390.42 266.75,391.41 266.87,392.40 267.00,393.38 267.12,394.34 267.23,395.26 267.34,396.14 267.45,396.99" stroke="#00aaee" stroke-width="2.0" stroke-dasharray="1.8 1.2" stroke-linecap="butt"/>
<path d="M41.00,249.00 41.75,249.67 42.49,250.33 43.24,251.00 43.98,251.66 44.73,252.32 45.49,252.98 46.25,253.63 47.02,254.26 47.80,254.89 48.59,255.50 49.39,256.10 50.21,256.68 51.03,257.24 51.87,257.79 52.71,258.32 53.56,258.85 54.42,259.36 55.29,259.85 56.17,260.32 57.06,260.78 57.96,261.22 58.86,261.64 59.78,262.04 60.70,262.43 61.63,262.80 62.56,263.16 63.50,263.50 64.44,263.83 65.39,264.15 66.34,264.46 67.29,264.75 68.25,265.04 69.21,265.32 70.18,265.59 71.14,265.86 72.10,266.13 73.07,266.39 74.03,266.65 75.00,266.92 75.96,267.18 76.92,267.45 77.89,267.72 78.85,267.99 79.81,268.27 80.77,268.55 81.73,268.83 82.68,269.13 83.64,269.42 84.59,269.73 85.54,270.05 86.48,270.37 87.43,270.71 88.36,271.05 89.30,271.41 90.23,271.78 91.15,272.15 92.08,272.54 93.00,272.93 93.91,273.33 94.83,273.73 95.74,274.14 96.65,274.56 97.56,274.98 98.46,275.40 99.37,275.83 100.27,276.26 101.17,276.69 102.08,277.12 102.98,277.55 103.88,277.98 104.79,278.40 105.69,278.83 106.59,279.26 107.50,279.68 108.41,280.10 109.32,280.51 110.23,280.92 111.15,281.32 112.07,281.72 112.99,282.11 113.91,282.50 114.83,282.88 115.76,283.26 116.68,283.64 117.61,284.02 118.54,284.39 119.47,284.76 120.39,285.13 121.32,285.49 122.26,285.86 123.19,286.22 124.12,286.58 125.05,286.94 125.99,287.30 126.92,287.65 127.86,288.00 128.80,288.35 129.74,288.70 130.68,289.04 131.61,289.38 132.56,289.72 133.50,290.06 134.44,290.39 135.38,290.72 136.33,291.05 137.27,291.37 138.22,291.70 139.17,292.02 140.12,292.33 141.07,292.64 142.02,292.95 142.97,293.26 143.92,293.56 144.88,293.86 145.83,294.16 146.79,294.46 147.74,294.75 148.70,295.04 149.66,295.33 150.61,295.62 151.57,295.90 152.53,296.19 153.49,296.47 154.45,296.75 155.41,297.03 156.37,297.30 157.33,297.58 158.30,297.85 159.26,298.12 160.22,298.38 161.19,298.64 162.16,298.90 163.12,299.14 164.10,299.36 165.07,299.55 166.05,299.70 167.04,299.81 168.03,299.90 169.02,299.97 170.01,300.05 171.01,300.14 172.00,300.23 172.99,300.33 173.99,300.43 174.98,300.54 175.97,300.66 176.97,300.79 177.95,300.93 178.94,301.10 179.92,301.29 180.89,301.51 181.86,301.75 182.82,302.02 183.78,302.31 184.72,302.63 185.66,302.97 186.59,303.33 187.52,303.71 188.44,304.10 189.35,304.51 190.26,304.92 191.17,305.34 192.07,305.78 192.97,306.21 193.86,306.66 194.76,307.11 195.65,307.56 196.54,308.01 197.43,308.48 198.31,308.94 199.20,309.41 200.08,309.87 200.96,310.35 201.84,310.82 202.72,311.29 203.60,311.77 204.48,312.25 205.36,312.72 206.24,313.20 207.11,313.69 207.99,314.17 208.86,314.66 209.74,315.15 210.60,315.64 211.47,316.14 212.33,316.64 213.20,317.15 214.06,317.66 214.91,318.18 215.77,318.70 216.62,319.22 217.47,319.74 218.32,320.26 219.18,320.79 220.03,321.32 220.88,321.84 221.73,322.37 222.58,322.90 223.43,323.42 224.28,323.94 225.13,324.46 225.99,324.98 226.84,325.50 227.70,326.02 228.56,326.53 229.42,327.04 230.28,327.55 231.14,328.07 232.00,328.58 232.86,329.09 233.72,329.60 234.58,330.11 235.43,330.62 236.29,331.13 237.15,331.64 238.01,332.15 238.87,332.67 239.73,333.18 240.58,333.70 241.44,334.22 242.29,334.74 243.14,335.26 243.99,335.79 244.84,336.32 245.69,336.85 246.53,337.39 247.36,337.94 248.17,338.52 248.95,339.13 249.68,339.79 250.38,340.49 251.02,341.24 251.62,342.03 252.19,342.85 252.72,343.69 253.23,344.55 253.71,345.43 254.18,346.31 254.63,347.20 255.08,348.10 255.52,349.00 255.95,349.90 256.38,350.80 256.81,351.70 257.23,352.61 257.65,353.52 258.05,354.43 258.45,355.35 258.82,356.28 259.17,357.21 259.50,358.15 259.81,359.10 260.09,360.06 260.34,361.03 260.58,362.00 260.79,362.97 260.99,363.95 261.16,364.94 261.33,365.92 261.48,366.91 261.63,367.90 261.77,368.89 261.90,369.88 262.03,370.87 262.16,371.86 262.29,372.86 262.42,373.85 262.56,374.84 262.69,375.83 262.84,376.82 262.98,377.81 263.13,378.80 263.28,379.79 263.43,380.77 263.58,381.76 263.73,382.75 263.89,383.74 264.04,384.73 264.19,385.71 264.34,386.70 264.50,387.69 264.65,388.68 264.80,389.67 264.96,390.66 265.11,391.64 265.26,392.63 265.41,393.61 265.56,394.58 265.71,395.53 265.86,396.47 266.00,397.40" stroke="#5ad85a" stroke-width="2.0" stroke-dasharray="1.8 1.2" stroke-linecap="butt"/>
<path d="M41.00,253.00 41.62,253.78 42.25,254.56 42.87,255.34 43.49,256.13 44.12,256.91 44.75,257.69 45.38,258.46 46.03,259.22 46.69,259.97 47.36,260.71 48.04,261.44 48.75,262.14 49.48,262.82 50.23,263.48 51.00,264.11 51.80,264.70 52.62,265.28 53.45,265.82 54.31,266.33 55.18,266.82 56.07,267.28 56.96,267.71 57.87,268.12 58.79,268.52 59.72,268.90 60.65,269.26 61.58,269.62 62.52,269.97 63.46,270.30 64.40,270.63 65.35,270.95 66.30,271.26 67.26,271.56 68.21,271.86 69.17,272.14 70.13,272.43 71.09,272.71 72.05,272.98 73.01,273.26 73.97,273.53 74.94,273.80 75.90,274.07 76.86,274.34 77.82,274.61 78.79,274.88 79.75,275.15 80.71,275.43 81.67,275.70 82.63,275.98 83.59,276.26 84.55,276.55 85.51,276.84 86.46,277.13 87.42,277.43 88.37,277.73 89.32,278.04 90.27,278.36 91.22,278.67 92.17,278.99 93.12,279.31 94.06,279.63 95.01,279.96 95.95,280.29 96.90,280.62 97.84,280.95 98.78,281.28 99.72,281.62 100.67,281.95 101.61,282.29 102.55,282.63 103.49,282.96 104.43,283.30 105.37,283.64 106.31,283.98 107.26,284.31 108.20,284.65 109.14,284.99 110.08,285.32 111.02,285.66 111.97,285.99 112.91,286.32 113.85,286.65 114.80,286.98 115.74,287.31 116.69,287.63 117.64,287.96 118.58,288.28 119.53,288.60 120.48,288.92 121.42,289.24 122.37,289.56 123.32,289.88 124.27,290.20 125.21,290.52 126.16,290.84 127.11,291.17 128.05,291.49 129.00,291.82 129.94,292.15 130.88,292.48 131.83,292.81 132.77,293.15 133.71,293.49 134.65,293.84 135.58,294.19 136.52,294.54 137.45,294.90 138.38,295.27 139.31,295.65 140.23,296.03 141.15,296.41 142.07,296.81 142.99,297.21 143.90,297.61 144.82,298.02 145.73,298.44 146.63,298.85 147.54,299.28 148.45,299.70 149.35,300.13 150.25,300.55 151.16,300.98 152.06,301.41 152.96,301.84 153.87,302.27 154.77,302.69 155.68,303.12 156.59,303.53 157.50,303.94 158.42,304.35 159.33,304.74 160.26,305.12 161.19,305.49 162.12,305.85 163.06,306.19 164.00,306.51 164.95,306.83 165.90,307.14 166.86,307.45 167.81,307.75 168.76,308.07 169.70,308.39 170.65,308.71 171.60,309.03 172.54,309.36 173.49,309.68 174.43,310.01 175.38,310.34 176.32,310.67 177.26,311.01 178.20,311.34 179.14,311.69 180.08,312.03 181.02,312.39 181.95,312.75 182.88,313.12 183.80,313.50 184.73,313.88 185.65,314.26 186.57,314.65 187.49,315.04 188.41,315.43 189.34,315.81 190.26,316.19 191.19,316.57 192.12,316.94 193.05,317.31 193.98,317.67 194.91,318.03 195.84,318.39 196.78,318.75 197.71,319.11 198.64,319.47 199.58,319.82 200.51,320.18 201.45,320.53 202.39,320.88 203.32,321.23 204.26,321.58 205.20,321.93 206.14,322.27 207.08,322.61 208.02,322.95 208.96,323.29 209.91,323.61 210.85,323.94 211.80,324.25 212.75,324.56 213.70,324.86 214.66,325.16 215.62,325.45 216.57,325.74 217.53,326.02 218.49,326.31 219.45,326.60 220.40,326.90 221.36,327.20 222.31,327.51 223.25,327.83 224.20,328.16 225.13,328.50 226.07,328.86 227.00,329.23 227.92,329.60 228.85,329.99 229.77,330.38 230.69,330.78 231.60,331.18 232.51,331.59 233.42,332.01 234.32,332.44 235.22,332.88 236.11,333.33 237.00,333.80 237.87,334.28 238.74,334.77 239.60,335.28 240.45,335.80 241.29,336.35 242.11,336.91 242.93,337.49 243.73,338.09 244.52,338.70 245.29,339.34 246.04,339.99 246.77,340.67 247.47,341.38 248.15,342.11 248.79,342.87 249.40,343.65 249.98,344.47 250.52,345.30 251.02,346.16 251.49,347.04 251.91,347.94 252.31,348.86 252.67,349.79 253.00,350.73 253.31,351.68 253.59,352.63 253.87,353.60 254.12,354.56 254.37,355.53 254.61,356.50 254.85,357.47 255.08,358.44 255.32,359.42 255.55,360.39 255.77,361.36 255.99,362.34 256.21,363.32 256.41,364.29 256.60,365.27 256.79,366.26 256.97,367.24 257.15,368.22 257.33,369.21 257.50,370.19 257.67,371.18 257.85,372.16 258.03,373.15 258.22,374.13 258.41,375.11 258.61,376.09 258.81,377.07 259.03,378.04 259.25,379.02 259.48,379.99 259.72,380.96 259.95,381.94 260.20,382.91 260.44,383.88 260.69,384.84 260.94,385.81 261.19,386.78 261.44,387.75 261.70,388.72 261.95,389.68 262.21,390.65 262.46,391.62 262.72,392.58 262.98,393.55 263.23,394.51 263.49,395.48 263.75,396.44 264.00,397.40" stroke="#e89a1e" stroke-width="2.0" stroke-dasharray="1.8 1.2" stroke-linecap="butt"/>
<path d="M41.00,255.10 41.19,256.06 41.43,257.01 41.74,257.93 42.13,258.83 42.59,259.70 43.10,260.55 43.66,261.37 44.24,262.18 44.85,262.97 45.48,263.75 46.13,264.51 46.80,265.24 47.51,265.93 48.25,266.59 49.03,267.20 49.84,267.77 50.68,268.31 51.54,268.83 52.40,269.32 53.28,269.80 54.16,270.28 55.05,270.74 55.93,271.20 56.82,271.66 57.72,272.11 58.61,272.55 59.51,272.99 60.41,273.42 61.31,273.85 62.22,274.28 63.13,274.69 64.04,275.10 64.96,275.50 65.88,275.90 66.80,276.29 67.72,276.67 68.65,277.05 69.57,277.42 70.50,277.79 71.44,278.15 72.37,278.51 73.30,278.87 74.24,279.22 75.18,279.56 76.12,279.91 77.06,280.24 78.00,280.57 78.95,280.90 79.89,281.23 80.84,281.55 81.79,281.87 82.74,282.19 83.68,282.51 84.63,282.83 85.57,283.16 86.52,283.48 87.46,283.81 88.41,284.15 89.35,284.48 90.29,284.81 91.23,285.15 92.18,285.48 93.12,285.82 94.06,286.15 95.01,286.48 95.95,286.81 96.89,287.14 97.84,287.47 98.78,287.79 99.73,288.11 100.68,288.43 101.63,288.74 102.58,289.05 103.53,289.36 104.48,289.67 105.43,289.99 106.38,290.31 107.33,290.63 108.27,290.95 109.22,291.28 110.16,291.62 111.10,291.96 112.04,292.30 112.97,292.65 113.91,293.00 114.85,293.35 115.78,293.71 116.71,294.07 117.65,294.43 118.58,294.79 119.51,295.15 120.45,295.51 121.38,295.87 122.31,296.24 123.24,296.60 124.17,296.97 125.10,297.34 126.03,297.70 126.96,298.08 127.89,298.45 128.81,298.82 129.74,299.20 130.67,299.57 131.59,299.95 132.52,300.33 133.44,300.72 134.36,301.11 135.28,301.50 136.20,301.90 137.11,302.30 138.02,302.72 138.93,303.14 139.83,303.58 140.72,304.03 141.60,304.50 142.47,304.99 143.33,305.50 144.19,306.01 145.03,306.54 145.88,307.07 146.73,307.60 147.59,308.11 148.45,308.60 149.34,309.07 150.24,309.50 151.15,309.89 152.08,310.26 153.02,310.59 153.97,310.89 154.93,311.18 155.89,311.45 156.85,311.71 157.82,311.98 158.78,312.25 159.74,312.52 160.70,312.80 161.66,313.09 162.62,313.37 163.58,313.66 164.54,313.94 165.49,314.23 166.46,314.50 167.42,314.77 168.38,315.04 169.35,315.30 170.32,315.54 171.29,315.79 172.26,316.02 173.23,316.26 174.20,316.49 175.18,316.72 176.15,316.96 177.11,317.21 178.08,317.47 179.04,317.74 180.00,318.02 180.96,318.30 181.92,318.60 182.87,318.90 183.83,319.20 184.78,319.49 185.74,319.79 186.69,320.08 187.65,320.36 188.62,320.62 189.58,320.89 190.55,321.14 191.52,321.39 192.48,321.64 193.45,321.90 194.41,322.17 195.37,322.45 196.32,322.75 197.27,323.07 198.21,323.40 199.15,323.75 200.08,324.11 201.01,324.49 201.93,324.87 202.85,325.27 203.76,325.68 204.67,326.09 205.58,326.51 206.49,326.93 207.39,327.36 208.29,327.79 209.19,328.22 210.09,328.66 210.99,329.10 211.89,329.54 212.79,329.98 213.68,330.42 214.58,330.86 215.48,331.31 216.37,331.76 217.26,332.21 218.16,332.66 219.05,333.11 219.94,333.56 220.83,334.02 221.72,334.48 222.60,334.94 223.49,335.40 224.37,335.87 225.26,336.34 226.14,336.81 227.02,337.28 227.90,337.76 228.78,338.23 229.66,338.71 230.54,339.19 231.42,339.66 232.29,340.15 233.17,340.63 234.04,341.12 234.91,341.62 235.77,342.12 236.63,342.63 237.48,343.15 238.33,343.69 239.17,344.23 239.99,344.80 240.81,345.37 241.61,345.97 242.40,346.57 243.18,347.20 243.95,347.84 244.70,348.50 245.42,349.18 246.13,349.89 246.80,350.62 247.45,351.38 248.06,352.16 248.64,352.97 249.19,353.81 249.70,354.66 250.18,355.53 250.63,356.42 251.04,357.33 251.43,358.25 251.80,359.18 252.14,360.12 252.46,361.06 252.77,362.01 253.06,362.97 253.35,363.93 253.62,364.89 253.89,365.85 254.15,366.82 254.41,367.78 254.66,368.75 254.91,369.72 255.16,370.69 255.40,371.66 255.63,372.63 255.85,373.61 256.06,374.59 256.26,375.56 256.46,376.54 256.65,377.53 256.83,378.51 257.02,379.49 257.19,380.48 257.37,381.46 257.55,382.45 257.72,383.43 257.89,384.41 258.07,385.40 258.24,386.38 258.41,387.37 258.57,388.36 258.74,389.34 258.90,390.33 259.05,391.32 259.21,392.30 259.36,393.28 259.51,394.24 259.66,395.18 259.80,396.09 259.93,396.97" stroke="#e60000" stroke-width="2.0" stroke-dasharray="1.8 1.2" stroke-linecap="butt"/>
<path d="M41.00,242.20 41.79,242.82 42.57,243.43 43.36,244.05 44.15,244.67 44.94,245.28 45.72,245.90 46.51,246.51 47.30,247.13 48.09,247.74 48.89,248.35 49.68,248.95 50.48,249.56 51.28,250.16 52.07,250.77 52.87,251.37 53.66,251.98 54.45,252.59 55.25,253.20 56.04,253.81 56.84,254.41 57.64,255.01 58.45,255.59 59.27,256.16 60.11,256.71 60.96,257.23 61.82,257.72 62.71,258.18 63.61,258.60 64.53,258.98 65.47,259.32 66.42,259.61 67.38,259.88 68.35,260.11 69.32,260.32 70.30,260.52 71.28,260.71 72.26,260.91 73.24,261.11 74.22,261.32 75.20,261.53 76.17,261.75 77.15,261.98 78.12,262.20 79.10,262.43 80.07,262.66 81.04,262.89 82.01,263.13 82.98,263.38 83.95,263.64 84.91,263.92 85.86,264.21 86.81,264.52 87.76,264.85 88.69,265.19 89.63,265.55 90.56,265.92 91.48,266.29 92.41,266.67 93.33,267.06 94.26,267.44 95.18,267.81 96.11,268.18 97.04,268.54 97.98,268.89 98.93,269.22 99.87,269.53 100.82,269.84 101.78,270.14 102.73,270.44 103.69,270.74 104.64,271.05 105.58,271.37 106.53,271.70 107.47,272.04 108.40,272.39 109.33,272.76 110.26,273.13 111.19,273.50 112.11,273.89 113.03,274.27 113.95,274.67 114.87,275.06 115.79,275.46 116.71,275.86 117.62,276.26 118.54,276.66 119.46,277.06 120.37,277.46 121.29,277.86 122.20,278.27 123.12,278.67 124.03,279.07 124.95,279.48 125.86,279.88 126.78,280.28 127.69,280.69 128.61,281.09 129.52,281.49 130.44,281.89 131.36,282.29 132.28,282.68 133.19,283.08 134.11,283.47 135.03,283.86 135.96,284.25 136.88,284.63 137.81,285.00 138.74,285.37 139.67,285.73 140.61,286.07 141.55,286.41 142.50,286.72 143.45,287.03 144.41,287.31 145.37,287.59 146.34,287.85 147.30,288.10 148.27,288.36 149.23,288.62 150.20,288.89 151.16,289.16 152.12,289.45 153.07,289.74 154.03,290.02 154.99,290.31 155.95,290.60 156.91,290.88 157.87,291.16 158.83,291.44 159.79,291.72 160.75,291.99 161.71,292.27 162.67,292.54 163.63,292.81 164.60,293.06 165.57,293.30 166.55,293.51 167.53,293.70 168.51,293.86 169.50,293.99 170.49,294.08 171.49,294.15 172.49,294.20 173.49,294.23 174.49,294.25 175.49,294.27 176.49,294.28 177.48,294.31 178.48,294.35 179.48,294.42 180.47,294.52 181.45,294.66 182.43,294.84 183.39,295.08 184.34,295.37 185.28,295.71 186.19,296.09 187.09,296.52 187.98,296.98 188.85,297.46 189.72,297.96 190.58,298.46 191.44,298.97 192.31,299.47 193.18,299.96 194.05,300.45 194.92,300.94 195.80,301.42 196.68,301.91 197.55,302.39 198.43,302.87 199.30,303.36 200.18,303.84 201.05,304.33 201.92,304.81 202.80,305.30 203.67,305.79 204.54,306.28 205.41,306.77 206.28,307.27 207.14,307.77 208.01,308.27 208.87,308.78 209.73,309.29 210.59,309.81 211.44,310.33 212.29,310.85 213.14,311.37 213.99,311.90 214.84,312.43 215.69,312.96 216.54,313.49 217.39,314.02 218.24,314.55 219.09,315.08 219.94,315.60 220.79,316.12 221.65,316.64 222.50,317.16 223.36,317.67 224.22,318.17 225.09,318.68 225.96,319.17 226.83,319.66 227.71,320.14 228.59,320.61 229.47,321.08 230.36,321.54 231.25,322.00 232.14,322.45 233.03,322.91 233.92,323.35 234.82,323.80 235.71,324.25 236.61,324.69 237.50,325.14 238.40,325.59 239.29,326.04 240.18,326.50 241.07,326.96 241.95,327.43 242.83,327.91 243.69,328.40 244.55,328.91 245.40,329.44 246.22,330.00 247.02,330.59 247.78,331.22 248.51,331.90 249.18,332.62 249.80,333.39 250.38,334.19 250.91,335.03 251.39,335.90 251.83,336.79 252.24,337.70 252.60,338.63 252.94,339.57 253.25,340.52 253.54,341.47 253.82,342.43 254.10,343.39 254.36,344.36 254.61,345.32 254.86,346.29 255.10,347.26 255.32,348.24 255.54,349.21 255.75,350.19 255.95,351.17 256.15,352.15 256.34,353.13 256.53,354.12 256.71,355.10 256.89,356.08 257.06,357.07 257.24,358.05 257.41,359.04 257.58,360.02 257.74,361.01 257.91,361.99 258.07,362.98 258.24,363.97 258.40,364.95 258.56,365.94 258.72,366.93 258.88,367.91 259.04,368.90 259.20,369.89 259.36,370.88 259.52,371.86 259.67,372.85 259.83,373.84 259.99,374.83 260.14,375.81 260.30,376.80 260.45,377.79 260.61,378.78 260.76,379.77 260.91,380.76 261.06,381.74 261.21,382.73 261.36,383.72 261.51,384.71 261.65,385.70 261.80,386.69 261.94,387.68 262.08,388.67 262.22,389.66 262.36,390.65 262.50,391.64 262.63,392.63 262.77,393.61 262.91,394.58 263.04,395.54 263.17,396.47 263.30,397.40" stroke="#0000e6" stroke-width="1.85" stroke-linecap="round"/>
<path d="M41.00,242.20 41.02,243.05 41.13,243.88 41.41,244.69 41.86,245.45 42.45,246.17 43.14,246.85 43.88,247.51 44.64,248.14 45.43,248.76 46.22,249.37 47.02,249.96 47.83,250.55 48.64,251.14 49.46,251.71 50.28,252.28 51.11,252.85 51.93,253.41 52.76,253.98 53.58,254.54 54.41,255.09 55.25,255.64 56.10,256.17 56.96,256.68 57.83,257.16 58.71,257.63 59.61,258.07 60.51,258.49 61.43,258.89 62.36,259.26 63.29,259.61 64.24,259.94 65.19,260.25 66.14,260.54 67.10,260.81 68.07,261.08 69.03,261.33 70.00,261.57 70.98,261.81 71.95,262.04 72.92,262.27 73.89,262.50 74.87,262.73 75.84,262.96 76.81,263.19 77.79,263.42 78.76,263.66 79.73,263.90 80.70,264.15 81.67,264.40 82.63,264.66 83.59,264.93 84.55,265.21 85.51,265.50 86.46,265.81 87.41,266.13 88.35,266.46 89.29,266.80 90.22,267.15 91.15,267.52 92.08,267.90 93.00,268.28 93.92,268.68 94.84,269.08 95.75,269.49 96.66,269.90 97.57,270.32 98.47,270.75 99.38,271.17 100.28,271.60 101.18,272.04 102.08,272.47 102.98,272.90 103.89,273.34 104.79,273.77 105.69,274.20 106.59,274.63 107.50,275.05 108.40,275.47 109.31,275.89 110.22,276.30 111.14,276.71 112.05,277.11 112.97,277.50 113.90,277.89 114.82,278.28 115.74,278.65 116.67,279.03 117.60,279.40 118.53,279.77 119.46,280.14 120.39,280.50 121.32,280.87 122.25,281.23 123.19,281.59 124.12,281.95 125.05,282.30 125.99,282.66 126.92,283.01 127.86,283.36 128.80,283.72 129.73,284.07 130.67,284.42 131.61,284.76 132.55,285.11 133.48,285.46 134.42,285.80 135.36,286.15 136.30,286.49 137.24,286.84 138.18,287.18 139.12,287.52 140.06,287.87 141.00,288.21 141.94,288.55 142.88,288.88 143.83,289.20 144.77,289.52 145.72,289.83 146.68,290.12 147.64,290.41 148.60,290.69 149.56,290.97 150.52,291.24 151.48,291.51 152.45,291.77 153.41,292.04 154.38,292.30 155.34,292.56 156.31,292.81 157.28,293.07 158.24,293.32 159.21,293.57 160.18,293.81 161.15,294.05 162.12,294.29 163.10,294.52 164.07,294.75 165.05,294.97 166.02,295.19 167.00,295.39 167.98,295.59 168.96,295.76 169.95,295.92 170.94,296.07 171.93,296.19 172.93,296.29 173.92,296.37 174.92,296.45 175.92,296.51 176.91,296.58 177.91,296.65 178.90,296.74 179.90,296.85 180.88,296.99 181.86,297.16 182.83,297.38 183.79,297.65 184.74,297.96 185.66,298.32 186.57,298.72 187.47,299.15 188.35,299.62 189.22,300.11 190.09,300.60 190.96,301.10 191.82,301.60 192.69,302.10 193.55,302.60 194.42,303.11 195.28,303.61 196.15,304.11 197.01,304.62 197.87,305.13 198.73,305.65 199.58,306.16 200.44,306.67 201.30,307.19 202.16,307.70 203.01,308.22 203.87,308.73 204.73,309.24 205.59,309.76 206.45,310.27 207.31,310.77 208.17,311.28 209.04,311.78 209.91,312.28 210.77,312.77 211.64,313.27 212.52,313.76 213.39,314.24 214.26,314.73 215.14,315.21 216.02,315.69 216.89,316.17 217.77,316.65 218.65,317.13 219.53,317.61 220.41,318.08 221.29,318.56 222.17,319.04 223.05,319.51 223.92,319.99 224.80,320.47 225.68,320.95 226.56,321.43 227.44,321.90 228.32,322.37 229.20,322.84 230.09,323.31 230.97,323.77 231.86,324.24 232.75,324.70 233.63,325.16 234.52,325.62 235.40,326.09 236.29,326.56 237.17,327.02 238.05,327.50 238.93,327.98 239.80,328.46 240.67,328.95 241.54,329.46 242.40,329.97 243.25,330.49 244.09,331.03 244.92,331.58 245.75,332.15 246.56,332.72 247.37,333.32 248.15,333.93 248.91,334.57 249.62,335.26 250.29,335.98 250.90,336.76 251.45,337.57 251.94,338.43 252.38,339.32 252.76,340.24 253.11,341.17 253.41,342.12 253.68,343.08 253.93,344.05 254.15,345.02 254.35,346.00 254.53,346.98 254.71,347.97 254.87,348.95 255.02,349.94 255.17,350.93 255.31,351.92 255.45,352.91 255.59,353.90 255.72,354.89 255.86,355.88 255.99,356.87 256.14,357.86 256.28,358.85 256.43,359.84 256.58,360.83 256.73,361.82 256.89,362.81 257.04,363.79 257.20,364.78 257.35,365.77 257.49,366.76 257.64,367.75 257.79,368.74 257.93,369.73 258.08,370.72 258.22,371.71 258.37,372.70 258.51,373.69 258.66,374.67 258.81,375.66 258.96,376.65 259.12,377.64 259.28,378.63 259.44,379.61 259.61,380.60 259.78,381.58 259.96,382.57 260.14,383.55 260.32,384.54 260.50,385.52 260.68,386.50 260.87,387.48 261.06,388.47 261.25,389.45 261.44,390.43 261.63,391.41 261.82,392.39 262.01,393.36 262.20,394.31 262.38,395.24 262.55,396.12 262.72,396.98" stroke="#00aaee" stroke-width="1.85" stroke-linecap="round"/>
<path d="M41.00,242.20 L41.00,248.00 M41.00,248.00 41.79,248.61 42.58,249.22 43.38,249.83 44.17,250.44 44.97,251.04 45.77,251.64 46.57,252.23 47.39,252.82 48.21,253.39 49.03,253.95 49.87,254.50 50.71,255.04 51.55,255.57 52.40,256.10 53.26,256.62 54.12,257.12 54.99,257.62 55.86,258.11 56.74,258.58 57.63,259.03 58.53,259.46 59.44,259.88 60.36,260.28 61.28,260.66 62.21,261.02 63.15,261.37 64.09,261.71 65.04,262.03 65.99,262.33 66.94,262.63 67.90,262.91 68.86,263.19 69.83,263.46 70.79,263.73 71.75,263.99 72.72,264.25 73.68,264.51 74.65,264.77 75.62,265.03 76.58,265.29 77.55,265.55 78.51,265.82 79.47,266.09 80.43,266.37 81.39,266.65 82.35,266.93 83.31,267.23 84.26,267.53 85.21,267.84 86.16,268.16 87.10,268.49 88.04,268.83 88.98,269.19 89.91,269.55 90.83,269.92 91.76,270.31 92.68,270.70 93.59,271.10 94.51,271.50 95.42,271.92 96.33,272.33 97.23,272.76 98.14,273.18 99.04,273.61 99.94,274.04 100.85,274.47 101.75,274.91 102.65,275.34 103.55,275.78 104.45,276.21 105.35,276.64 106.26,277.07 107.16,277.50 108.07,277.92 108.97,278.34 109.88,278.75 110.80,279.16 111.71,279.56 112.63,279.96 113.55,280.35 114.48,280.73 115.40,281.11 116.33,281.48 117.26,281.85 118.19,282.22 119.12,282.59 120.05,282.95 120.98,283.31 121.92,283.66 122.85,284.02 123.79,284.37 124.72,284.72 125.66,285.07 126.60,285.42 127.54,285.77 128.47,286.12 129.41,286.46 130.35,286.81 131.29,287.15 132.23,287.49 133.17,287.84 134.11,288.18 135.05,288.53 135.98,288.87 136.92,289.22 137.86,289.57 138.79,289.92 139.73,290.28 140.66,290.64 141.59,291.01 142.52,291.37 143.45,291.74 144.38,292.10 145.32,292.45 146.26,292.79 147.20,293.12 148.16,293.42 149.11,293.72 150.07,293.99 151.03,294.26 152.00,294.52 152.97,294.77 153.94,295.02 154.91,295.26 155.88,295.50 156.85,295.73 157.83,295.96 158.80,296.18 159.78,296.40 160.75,296.61 161.73,296.82 162.71,297.03 163.69,297.23 164.67,297.42 165.65,297.61 166.63,297.79 167.62,297.96 168.61,298.11 169.60,298.24 170.59,298.35 171.59,298.44 172.58,298.50 173.58,298.55 174.58,298.58 175.58,298.60 176.58,298.63 177.58,298.65 178.57,298.70 179.57,298.77 180.56,298.88 181.54,299.03 182.51,299.24 183.46,299.51 184.39,299.85 185.29,300.24 186.18,300.69 187.04,301.19 187.88,301.72 188.71,302.28 189.54,302.84 190.37,303.39 191.20,303.94 192.04,304.48 192.89,305.01 193.74,305.54 194.60,306.05 195.45,306.57 196.31,307.09 197.17,307.61 198.02,308.12 198.88,308.64 199.73,309.16 200.59,309.67 201.45,310.19 202.31,310.70 203.17,311.21 204.03,311.72 204.89,312.23 205.75,312.73 206.62,313.23 207.49,313.73 208.36,314.22 209.23,314.70 210.11,315.18 210.99,315.65 211.88,316.11 212.77,316.57 213.66,317.01 214.56,317.45 215.46,317.89 216.36,318.32 217.27,318.75 218.17,319.17 219.08,319.60 219.98,320.02 220.88,320.46 221.78,320.89 222.68,321.33 223.57,321.78 224.46,322.24 225.35,322.70 226.23,323.17 227.11,323.65 227.98,324.14 228.86,324.63 229.73,325.12 230.60,325.61 231.46,326.11 232.33,326.61 233.19,327.11 234.06,327.62 234.92,328.13 235.78,328.64 236.64,329.15 237.49,329.66 238.35,330.18 239.20,330.70 240.05,331.23 240.90,331.76 241.75,332.29 242.59,332.83 243.43,333.37 244.27,333.91 245.11,334.45 245.95,335.00 246.78,335.55 247.58,336.12 248.35,336.73 249.04,337.39 249.66,338.13 250.19,338.94 250.65,339.80 251.04,340.70 251.39,341.63 251.71,342.58 251.99,343.53 252.26,344.50 252.51,345.46 252.75,346.43 252.98,347.41 253.21,348.38 253.42,349.36 253.63,350.34 253.83,351.32 254.03,352.30 254.23,353.28 254.42,354.26 254.61,355.24 254.80,356.22 254.98,357.20 255.17,358.19 255.35,359.17 255.54,360.15 255.71,361.14 255.89,362.12 256.06,363.11 256.22,364.09 256.37,365.08 256.52,366.07 256.66,367.06 256.80,368.05 256.93,369.04 257.07,370.03 257.20,371.02 257.33,372.02 257.46,373.01 257.59,374.00 257.73,374.99 257.87,375.98 258.02,376.97 258.17,377.96 258.34,378.94 258.51,379.93 258.69,380.91 258.87,381.89 259.07,382.87 259.27,383.85 259.47,384.83 259.68,385.81 259.89,386.79 260.10,387.77 260.32,388.74 260.54,389.72 260.76,390.69 260.98,391.67 261.21,392.64 261.43,393.61 261.65,394.57 261.87,395.52 262.09,396.47 262.30,397.40" stroke="#5ad85a" stroke-width="1.85" stroke-linecap="round"/>
<path d="M41.00,242.20 L41.00,252.70 M41.00,252.70 41.77,253.33 42.55,253.97 43.32,254.60 44.10,255.23 44.87,255.86 45.65,256.49 46.44,257.11 47.23,257.72 48.03,258.32 48.83,258.91 49.65,259.48 50.49,260.03 51.34,260.55 52.20,261.05 53.08,261.53 53.97,261.98 54.87,262.41 55.78,262.81 56.70,263.20 57.63,263.57 58.57,263.92 59.51,264.26 60.45,264.60 61.40,264.92 62.34,265.23 63.30,265.54 64.25,265.83 65.21,266.11 66.17,266.38 67.14,266.64 68.11,266.89 69.08,267.12 70.05,267.35 71.03,267.58 72.00,267.80 72.98,268.01 73.96,268.23 74.93,268.43 75.91,268.63 76.90,268.83 77.88,269.01 78.86,269.19 79.85,269.37 80.83,269.55 81.81,269.74 82.79,269.93 83.77,270.14 84.74,270.36 85.72,270.59 86.68,270.85 87.64,271.12 88.60,271.40 89.56,271.70 90.51,272.01 91.46,272.32 92.40,272.65 93.34,272.99 94.28,273.33 95.22,273.68 96.15,274.03 97.09,274.40 98.02,274.76 98.94,275.13 99.87,275.51 100.79,275.90 101.71,276.29 102.63,276.69 103.54,277.10 104.45,277.51 105.37,277.92 106.28,278.33 107.19,278.74 108.10,279.15 109.01,279.56 109.93,279.97 110.84,280.38 111.75,280.79 112.66,281.20 113.57,281.61 114.49,282.02 115.40,282.43 116.31,282.84 117.22,283.25 118.13,283.66 119.04,284.08 119.95,284.49 120.86,284.90 121.78,285.31 122.69,285.73 123.60,286.14 124.51,286.55 125.42,286.96 126.33,287.37 127.24,287.78 128.16,288.20 129.07,288.61 129.98,289.02 130.89,289.43 131.80,289.83 132.72,290.24 133.63,290.65 134.54,291.06 135.46,291.46 136.37,291.87 137.29,292.27 138.20,292.67 139.12,293.07 140.04,293.47 140.95,293.88 141.87,294.28 142.78,294.67 143.70,295.07 144.63,295.45 145.56,295.81 146.50,296.15 147.44,296.48 148.39,296.79 149.35,297.08 150.31,297.36 151.27,297.62 152.24,297.88 153.21,298.13 154.18,298.36 155.15,298.60 156.12,298.82 157.10,299.05 158.07,299.26 159.05,299.48 160.03,299.69 161.01,299.90 161.99,300.10 162.96,300.31 163.94,300.51 164.92,300.71 165.90,300.90 166.89,301.09 167.87,301.28 168.85,301.46 169.84,301.62 170.83,301.77 171.82,301.90 172.81,302.02 173.80,302.12 174.80,302.23 175.79,302.34 176.78,302.47 177.76,302.64 178.73,302.84 179.70,303.09 180.64,303.39 181.57,303.74 182.48,304.14 183.36,304.60 184.23,305.08 185.08,305.61 185.92,306.15 186.74,306.71 187.57,307.27 188.39,307.84 189.22,308.40 190.06,308.95 190.90,309.49 191.75,310.01 192.61,310.52 193.47,311.03 194.34,311.52 195.21,312.01 196.09,312.49 196.97,312.97 197.85,313.45 198.73,313.92 199.61,314.39 200.49,314.87 201.37,315.33 202.26,315.80 203.14,316.26 204.03,316.73 204.92,317.19 205.81,317.64 206.70,318.10 207.59,318.55 208.49,318.99 209.38,319.44 210.28,319.87 211.18,320.31 212.09,320.74 212.99,321.16 213.90,321.58 214.81,321.99 215.72,322.40 216.63,322.81 217.55,323.22 218.46,323.62 219.38,324.02 220.30,324.41 221.22,324.81 222.14,325.21 223.05,325.60 223.97,326.00 224.89,326.40 225.81,326.79 226.73,327.19 227.64,327.58 228.57,327.97 229.49,328.36 230.41,328.74 231.34,329.12 232.26,329.49 233.19,329.87 234.11,330.25 235.04,330.64 235.96,331.03 236.88,331.42 237.79,331.83 238.69,332.26 239.59,332.70 240.48,333.16 241.35,333.64 242.21,334.14 243.05,334.68 243.88,335.24 244.68,335.83 245.45,336.45 246.20,337.11 246.91,337.81 247.58,338.54 248.22,339.30 248.81,340.10 249.37,340.92 249.88,341.77 250.35,342.65 250.78,343.55 251.17,344.46 251.53,345.39 251.86,346.33 252.17,347.28 252.47,348.24 252.75,349.20 253.03,350.16 253.30,351.12 253.56,352.09 253.81,353.05 254.05,354.02 254.29,354.99 254.52,355.97 254.74,356.94 254.96,357.92 255.17,358.90 255.37,359.87 255.57,360.85 255.77,361.83 255.96,362.82 256.15,363.80 256.34,364.78 256.52,365.76 256.70,366.75 256.88,367.73 257.05,368.72 257.23,369.70 257.40,370.69 257.56,371.67 257.73,372.66 257.90,373.64 258.06,374.63 258.22,375.62 258.38,376.60 258.54,377.59 258.70,378.58 258.86,379.57 259.02,380.55 259.18,381.54 259.34,382.53 259.50,383.51 259.65,384.50 259.81,385.49 259.97,386.48 260.12,387.47 260.28,388.45 260.44,389.44 260.59,390.43 260.75,391.42 260.90,392.40 261.06,393.37 261.21,394.33 261.36,395.26 261.50,396.14 261.63,396.98" stroke="#e89a1e" stroke-width="1.85" stroke-linecap="round"/>
<path d="M41.00,242.20 L41.00,256.00 M41.00,256.00 41.69,256.72 42.39,257.44 43.09,258.15 43.79,258.86 44.51,259.55 45.24,260.24 45.99,260.90 46.75,261.55 47.53,262.17 48.32,262.77 49.14,263.35 49.97,263.89 50.83,264.40 51.71,264.88 52.59,265.33 53.49,265.76 54.40,266.18 55.32,266.58 56.24,266.97 57.16,267.35 58.09,267.72 59.03,268.08 59.96,268.42 60.91,268.75 61.86,269.06 62.81,269.36 63.77,269.63 64.74,269.89 65.71,270.12 66.68,270.34 67.66,270.54 68.64,270.73 69.63,270.91 70.61,271.09 71.60,271.26 72.58,271.43 73.57,271.60 74.55,271.77 75.54,271.95 76.52,272.12 77.51,272.29 78.49,272.46 79.48,272.64 80.46,272.83 81.44,273.03 82.41,273.26 83.37,273.51 84.33,273.80 85.27,274.11 86.21,274.46 87.14,274.83 88.06,275.22 88.97,275.62 89.89,276.02 90.80,276.42 91.72,276.81 92.64,277.20 93.57,277.58 94.49,277.96 95.42,278.33 96.35,278.70 97.28,279.08 98.21,279.45 99.14,279.82 100.06,280.20 100.99,280.58 101.91,280.96 102.83,281.35 103.75,281.75 104.66,282.16 105.57,282.58 106.47,283.00 107.38,283.43 108.28,283.86 109.18,284.29 110.09,284.71 111.00,285.13 111.91,285.54 112.83,285.94 113.74,286.34 114.66,286.73 115.58,287.12 116.50,287.51 117.43,287.89 118.35,288.28 119.27,288.66 120.20,289.05 121.12,289.43 122.04,289.81 122.97,290.19 123.89,290.57 124.82,290.95 125.74,291.34 126.67,291.72 127.59,292.10 128.52,292.48 129.44,292.86 130.37,293.24 131.29,293.62 132.22,294.00 133.14,294.38 134.06,294.76 134.99,295.14 135.91,295.53 136.84,295.91 137.76,296.30 138.68,296.68 139.60,297.07 140.52,297.47 141.44,297.86 142.36,298.26 143.27,298.66 144.19,299.06 145.11,299.46 146.02,299.86 146.94,300.25 147.87,300.63 148.80,301.00 149.73,301.36 150.67,301.71 151.61,302.04 152.56,302.35 153.51,302.66 154.47,302.95 155.43,303.23 156.39,303.50 157.35,303.76 158.32,304.01 159.29,304.25 160.27,304.48 161.24,304.70 162.22,304.91 163.20,305.11 164.18,305.30 165.16,305.49 166.14,305.67 167.13,305.86 168.11,306.04 169.09,306.22 170.08,306.39 171.07,306.55 172.05,306.72 173.04,306.88 174.02,307.06 175.00,307.27 175.97,307.50 176.92,307.76 177.87,308.07 178.80,308.42 179.72,308.81 180.62,309.23 181.51,309.68 182.39,310.16 183.26,310.65 184.12,311.16 184.98,311.67 185.84,312.18 186.70,312.70 187.56,313.21 188.41,313.72 189.27,314.23 190.13,314.75 190.99,315.26 191.84,315.78 192.70,316.30 193.55,316.82 194.41,317.33 195.27,317.85 196.12,318.36 196.98,318.87 197.84,319.39 198.70,319.90 199.56,320.41 200.43,320.91 201.29,321.41 202.16,321.90 203.04,322.38 203.92,322.85 204.81,323.30 205.71,323.74 206.61,324.17 207.52,324.59 208.43,325.00 209.35,325.41 210.27,325.80 211.19,326.19 212.11,326.58 213.03,326.96 213.95,327.35 214.88,327.73 215.80,328.11 216.73,328.49 217.65,328.87 218.58,329.26 219.50,329.64 220.42,330.03 221.34,330.42 222.26,330.81 223.18,331.21 224.09,331.62 225.00,332.03 225.91,332.45 226.82,332.87 227.72,333.30 228.62,333.73 229.52,334.17 230.41,334.62 231.31,335.07 232.20,335.52 233.09,335.98 233.97,336.44 234.86,336.91 235.74,337.39 236.61,337.87 237.48,338.36 238.35,338.86 239.21,339.36 240.07,339.87 240.93,340.39 241.78,340.91 242.63,341.44 243.47,341.98 244.31,342.52 245.13,343.09 245.92,343.68 246.68,344.32 247.40,345.00 248.06,345.73 248.67,346.51 249.23,347.32 249.75,348.17 250.22,349.05 250.66,349.94 251.06,350.85 251.44,351.78 251.80,352.71 252.13,353.65 252.46,354.60 252.77,355.55 253.07,356.50 253.35,357.46 253.64,358.42 253.91,359.38 254.18,360.34 254.45,361.31 254.71,362.27 254.97,363.24 255.22,364.20 255.47,365.17 255.71,366.14 255.95,367.12 256.18,368.09 256.40,369.06 256.62,370.04 256.83,371.02 257.04,371.99 257.25,372.97 257.45,373.95 257.64,374.93 257.84,375.91 258.03,376.90 258.22,377.88 258.40,378.86 258.58,379.84 258.76,380.83 258.93,381.81 259.10,382.80 259.26,383.79 259.41,384.77 259.56,385.76 259.69,386.75 259.82,387.74 259.94,388.74 260.06,389.73 260.16,390.72 260.26,391.72 260.36,392.71 260.45,393.69 260.54,394.66 260.63,395.60 260.72,396.51 260.80,397.40" stroke="#e60000" stroke-width="1.85" stroke-linecap="round"/>
</g>
<text x="37.40" y="402.00" font-size="11" fill="#262626" text-anchor="end">3</text>
<text x="37.40" y="376.14" font-size="11" fill="#262626" text-anchor="end">3.2</text>
<text x="37.40" y="350.29" font-size="11" fill="#262626" text-anchor="end">3.4</text>
<text x="37.40" y="324.43" font-size="11" fill="#262626" text-anchor="end">3.6</text>
<text x="37.40" y="298.57" font-size="11" fill="#262626" text-anchor="end">3.8</text>
<text x="37.40" y="272.71" font-size="11" fill="#262626" text-anchor="end">4</text>
<text x="37.40" y="246.86" font-size="11" fill="#262626" text-anchor="end">4.2</text>
<text x="37.40" y="221.00" font-size="11" fill="#262626" text-anchor="end">4.4</text>
<text transform="translate(18.00,308.25) rotate(-90)" font-size="11.6" fill="#262626" text-anchor="middle" xml:space="preserve">Voltage  /  V</text>
<text x="41.00" y="413.00" font-size="11" fill="#262626" text-anchor="middle">0</text>
<text x="83.73" y="413.00" font-size="11" fill="#262626" text-anchor="middle">0.1</text>
<text x="126.47" y="413.00" font-size="11" fill="#262626" text-anchor="middle">0.2</text>
<text x="169.20" y="413.00" font-size="11" fill="#262626" text-anchor="middle">0.3</text>
<text x="211.93" y="413.00" font-size="11" fill="#262626" text-anchor="middle">0.4</text>
<text x="254.67" y="413.00" font-size="11" fill="#262626" text-anchor="middle">0.5</text>
<text x="297.40" y="413.00" font-size="11" fill="#262626" text-anchor="middle">0.6</text>
<text x="167.70" y="427.30" font-size="11.5" fill="#262626" text-anchor="middle" xml:space="preserve">Charge throughput  /  Ah</text>
<text x="4.0" y="219.3" font-size="12" letter-spacing="1.2" fill="#262626">c)</text>
<text x="50.0" y="234.6" font-size="15.2" font-weight="bold" fill="#000">50 °C</text>
<rect x="373.0" y="216.3" width="256.29999999999995" height="182.3" fill="none" stroke="#8c8c8c" stroke-width="1.5"/>
<path d="M373.0,397.40h2.6M629.3,397.40h-2.6M373.0,371.54h2.6M629.3,371.54h-2.6M373.0,345.69h2.6M629.3,345.69h-2.6M373.0,319.83h2.6M629.3,319.83h-2.6M373.0,293.97h2.6M629.3,293.97h-2.6M373.0,268.11h2.6M629.3,268.11h-2.6M373.0,242.26h2.6M629.3,242.26h-2.6M373.0,216.40h2.6M629.3,216.40h-2.6M373.00,216.3v2.6M373.00,398.6v-2.6M415.72,216.3v2.6M415.72,398.6v-2.6M458.43,216.3v2.6M458.43,398.6v-2.6M501.15,216.3v2.6M501.15,398.6v-2.6M543.87,216.3v2.6M543.87,398.6v-2.6M586.58,216.3v2.6M586.58,398.6v-2.6M629.30,216.3v2.6M629.30,398.6v-2.6" stroke="#8c8c8c" stroke-width="1.3" fill="none"/>
<clipPath id="clipd"><rect x="371.5" y="215.3" width="259.29999999999995" height="184.3"/></clipPath>
<g clip-path="url(#clipd)" fill="none" stroke-linejoin="round">
<path d="M373.50,243.80 373.50,244.80 373.52,245.79 373.57,246.78 373.67,247.76 373.86,248.72 374.14,249.64 374.54,250.51 375.04,251.32 375.65,252.07 376.34,252.77 377.08,253.41 377.87,254.02 378.68,254.60 379.51,255.16 380.34,255.71 381.18,256.25 382.02,256.80 382.85,257.35 383.69,257.90 384.52,258.45 385.36,259.00 386.20,259.54 387.05,260.07 387.90,260.59 388.76,261.10 389.63,261.58 390.52,262.05 391.41,262.48 392.32,262.89 393.25,263.27 394.18,263.62 395.13,263.94 396.08,264.24 397.04,264.52 398.00,264.77 398.97,265.02 399.94,265.26 400.92,265.49 401.89,265.70 402.87,265.91 403.85,266.11 404.83,266.30 405.81,266.48 406.80,266.67 407.78,266.86 408.76,267.06 409.73,267.28 410.70,267.52 411.67,267.78 412.63,268.05 413.58,268.34 414.54,268.65 415.48,268.97 416.42,269.31 417.36,269.66 418.29,270.03 419.21,270.41 420.13,270.81 421.04,271.22 421.95,271.64 422.85,272.07 423.74,272.51 424.64,272.96 425.53,273.41 426.42,273.87 427.31,274.32 428.20,274.78 429.09,275.23 429.99,275.67 430.89,276.11 431.79,276.55 432.69,276.97 433.60,277.39 434.51,277.80 435.43,278.20 436.35,278.59 437.27,278.97 438.20,279.34 439.13,279.71 440.06,280.07 441.00,280.43 441.93,280.78 442.87,281.13 443.81,281.48 444.75,281.82 445.69,282.17 446.63,282.51 447.57,282.85 448.51,283.19 449.45,283.52 450.39,283.86 451.33,284.20 452.27,284.54 453.21,284.89 454.15,285.23 455.09,285.58 456.02,285.93 456.96,286.27 457.90,286.63 458.83,286.98 459.77,287.33 460.70,287.68 461.64,288.03 462.58,288.39 463.51,288.74 464.45,289.09 465.38,289.45 466.32,289.80 467.26,290.15 468.19,290.50 469.13,290.85 470.07,291.20 471.00,291.55 471.94,291.89 472.88,292.24 473.82,292.58 474.76,292.92 475.70,293.27 476.64,293.61 477.58,293.95 478.52,294.30 479.45,294.64 480.39,294.99 481.33,295.34 482.27,295.68 483.21,296.03 484.15,296.36 485.09,296.70 486.04,297.02 486.99,297.34 487.94,297.64 488.89,297.93 489.85,298.21 490.82,298.46 491.79,298.70 492.77,298.90 493.75,299.09 494.73,299.24 495.72,299.37 496.72,299.48 497.71,299.56 498.71,299.63 499.71,299.69 500.71,299.75 501.70,299.80 502.70,299.87 503.70,299.94 504.69,300.04 505.68,300.17 506.66,300.33 507.64,300.52 508.61,300.76 509.57,301.02 510.52,301.33 511.45,301.68 512.37,302.06 513.28,302.47 514.18,302.91 515.06,303.37 515.94,303.84 516.81,304.33 517.68,304.83 518.54,305.34 519.40,305.85 520.25,306.38 521.10,306.91 521.94,307.45 522.78,307.99 523.62,308.54 524.45,309.08 525.29,309.63 526.12,310.19 526.96,310.74 527.79,311.29 528.62,311.84 529.46,312.39 530.30,312.94 531.14,313.48 531.98,314.03 532.82,314.56 533.67,315.10 534.51,315.62 535.37,316.15 536.22,316.67 537.08,317.18 537.93,317.70 538.79,318.21 539.65,318.72 540.52,319.22 541.38,319.73 542.25,320.23 543.11,320.73 543.98,321.23 544.85,321.72 545.72,322.22 546.59,322.71 547.46,323.20 548.33,323.69 549.21,324.17 550.08,324.66 550.96,325.14 551.83,325.62 552.71,326.10 553.59,326.57 554.48,327.04 555.36,327.51 556.25,327.97 557.13,328.43 558.02,328.89 558.91,329.35 559.80,329.80 560.70,330.25 561.59,330.71 562.48,331.16 563.37,331.61 564.26,332.06 565.15,332.52 566.04,332.97 566.93,333.43 567.82,333.89 568.70,334.36 569.59,334.83 570.47,335.30 571.34,335.79 572.21,336.28 573.07,336.78 573.92,337.30 574.73,337.86 575.50,338.46 576.19,339.13 576.82,339.87 577.37,340.67 577.85,341.52 578.30,342.41 578.71,343.32 579.09,344.24 579.45,345.17 579.80,346.11 580.13,347.05 580.45,348.00 580.75,348.95 581.05,349.90 581.34,350.86 581.62,351.82 581.89,352.78 582.15,353.75 582.40,354.72 582.65,355.68 582.89,356.66 583.12,357.63 583.35,358.60 583.56,359.58 583.77,360.56 583.97,361.54 584.17,362.52 584.37,363.50 584.56,364.48 584.74,365.46 584.92,366.44 585.10,367.43 585.28,368.41 585.45,369.40 585.63,370.38 585.80,371.37 585.97,372.35 586.13,373.34 586.30,374.32 586.47,375.31 586.63,376.30 586.79,377.28 586.95,378.27 587.11,379.26 587.27,380.25 587.42,381.23 587.57,382.22 587.72,383.21 587.87,384.20 588.01,385.19 588.15,386.18 588.29,387.17 588.43,388.16 588.57,389.15 588.70,390.14 588.84,391.13 588.97,392.12 589.11,393.11 589.24,394.09 589.37,395.06 589.50,395.99 589.62,396.90 589.74,397.77" stroke="#0000e6" stroke-width="2.0" stroke-dasharray="1.8 1.2" stroke-linecap="butt"/>
<path d="M373.30,263.60 373.77,264.48 374.24,265.37 374.71,266.25 375.18,267.13 375.67,268.00 376.18,268.86 376.71,269.70 377.28,270.52 377.88,271.31 378.53,272.06 379.21,272.78 379.94,273.45 380.70,274.08 381.50,274.67 382.33,275.22 383.18,275.74 384.05,276.23 384.94,276.70 385.83,277.14 386.73,277.57 387.64,277.99 388.55,278.39 389.47,278.79 390.39,279.19 391.31,279.58 392.23,279.97 393.15,280.36 394.07,280.76 394.99,281.15 395.91,281.54 396.83,281.92 397.76,282.30 398.68,282.68 399.61,283.05 400.54,283.42 401.47,283.78 402.41,284.15 403.34,284.51 404.27,284.86 405.21,285.22 406.14,285.58 407.07,285.94 408.01,286.30 408.94,286.66 409.87,287.02 410.80,287.38 411.73,287.75 412.66,288.11 413.59,288.48 414.52,288.86 415.45,289.24 416.37,289.62 417.29,290.01 418.21,290.40 419.13,290.80 420.04,291.20 420.95,291.62 421.86,292.03 422.77,292.46 423.67,292.89 424.57,293.33 425.47,293.77 426.36,294.21 427.25,294.66 428.15,295.12 429.04,295.57 429.93,296.03 430.81,296.49 431.70,296.95 432.59,297.41 433.48,297.87 434.36,298.33 435.25,298.79 436.14,299.25 437.03,299.71 437.92,300.17 438.81,300.62 439.70,301.07 440.60,301.51 441.50,301.95 442.40,302.38 443.30,302.81 444.21,303.24 445.12,303.66 446.03,304.07 446.94,304.48 447.85,304.89 448.77,305.29 449.68,305.69 450.60,306.09 451.52,306.48 452.44,306.87 453.36,307.26 454.28,307.65 455.21,308.03 456.13,308.41 457.06,308.79 457.98,309.17 458.91,309.54 459.84,309.91 460.77,310.28 461.70,310.64 462.64,311.00 463.57,311.36 464.50,311.71 465.44,312.06 466.38,312.41 467.32,312.75 468.26,313.09 469.20,313.43 470.14,313.76 471.09,314.09 472.03,314.41 472.98,314.73 473.93,315.04 474.89,315.34 475.84,315.64 476.80,315.94 477.75,316.23 478.71,316.52 479.67,316.80 480.63,317.08 481.59,317.36 482.55,317.64 483.51,317.91 484.47,318.19 485.43,318.46 486.40,318.73 487.36,319.01 488.32,319.28 489.28,319.55 490.24,319.82 491.21,320.10 492.17,320.38 493.12,320.66 494.08,320.95 495.04,321.24 495.99,321.54 496.94,321.86 497.88,322.19 498.81,322.54 499.74,322.92 500.65,323.32 501.56,323.74 502.46,324.17 503.36,324.61 504.26,325.04 505.16,325.48 506.05,325.92 506.95,326.36 507.85,326.81 508.74,327.25 509.64,327.70 510.53,328.14 511.43,328.59 512.32,329.04 513.21,329.49 514.11,329.94 515.00,330.40 515.89,330.85 516.77,331.31 517.66,331.77 518.55,332.24 519.43,332.71 520.31,333.18 521.19,333.65 522.07,334.13 522.95,334.61 523.82,335.10 524.69,335.60 525.54,336.11 526.40,336.63 527.24,337.17 528.08,337.72 528.91,338.27 529.73,338.84 530.55,339.41 531.37,339.99 532.18,340.57 532.99,341.16 533.80,341.75 534.60,342.34 535.40,342.94 536.20,343.54 537.00,344.14 537.80,344.75 538.59,345.36 539.38,345.97 540.18,346.58 540.97,347.19 541.75,347.80 542.54,348.42 543.33,349.04 544.11,349.66 544.89,350.28 545.67,350.91 546.45,351.54 547.23,352.17 548.00,352.80 548.77,353.44 549.54,354.08 550.30,354.72 551.07,355.37 551.83,356.02 552.59,356.67 553.34,357.32 554.10,357.98 554.85,358.64 555.60,359.30 556.34,359.97 557.08,360.64 557.82,361.32 558.55,362.00 559.27,362.69 559.98,363.39 560.68,364.11 561.37,364.83 562.04,365.57 562.69,366.33 563.34,367.09 563.97,367.87 564.59,368.65 565.20,369.44 565.80,370.24 566.38,371.06 566.94,371.88 567.48,372.72 568.00,373.57 568.50,374.44 568.97,375.32 569.43,376.21 569.86,377.11 570.28,378.01 570.67,378.93 571.04,379.86 571.40,380.79 571.73,381.73 572.05,382.68 572.34,383.64 572.62,384.60 572.87,385.56 573.11,386.53 573.34,387.51 573.56,388.48 573.76,389.46 573.96,390.44 574.16,391.42 574.35,392.40 574.53,393.37 574.71,394.32 574.89,395.25 575.06,396.13 575.22,396.98" stroke="#00aaee" stroke-width="2.0" stroke-dasharray="1.8 1.2" stroke-linecap="butt"/>
<path d="M373.30,278.00 373.64,278.94 373.98,279.88 374.32,280.82 374.67,281.76 375.04,282.69 375.41,283.62 375.79,284.54 376.17,285.46 376.57,286.37 376.99,287.27 377.45,288.14 377.97,288.96 378.58,289.73 379.25,290.42 380.00,291.04 380.81,291.60 381.66,292.11 382.54,292.56 383.45,292.99 384.36,293.38 385.29,293.76 386.22,294.12 387.15,294.48 388.09,294.83 389.03,295.18 389.96,295.54 390.89,295.90 391.82,296.26 392.75,296.64 393.68,297.02 394.60,297.40 395.52,297.80 396.43,298.20 397.35,298.60 398.26,299.01 399.17,299.42 400.08,299.83 400.99,300.24 401.90,300.66 402.81,301.07 403.72,301.49 404.63,301.90 405.54,302.32 406.45,302.73 407.36,303.15 408.27,303.56 409.18,303.98 410.09,304.39 411.01,304.80 411.92,305.21 412.83,305.62 413.74,306.03 414.66,306.44 415.57,306.84 416.49,307.25 417.40,307.65 418.32,308.04 419.24,308.44 420.16,308.83 421.08,309.22 422.00,309.61 422.92,309.99 423.85,310.38 424.77,310.76 425.70,311.14 426.62,311.51 427.55,311.89 428.48,312.26 429.41,312.63 430.34,313.00 431.26,313.37 432.19,313.74 433.12,314.11 434.05,314.48 434.99,314.84 435.92,315.21 436.85,315.57 437.78,315.93 438.71,316.30 439.64,316.66 440.58,317.02 441.51,317.38 442.44,317.75 443.37,318.11 444.30,318.47 445.24,318.83 446.17,319.19 447.10,319.55 448.04,319.91 448.97,320.26 449.91,320.61 450.85,320.96 451.78,321.31 452.72,321.65 453.66,322.00 454.60,322.34 455.54,322.69 456.48,323.03 457.42,323.38 458.35,323.72 459.29,324.07 460.23,324.42 461.16,324.77 462.10,325.12 463.03,325.48 463.97,325.84 464.90,326.20 465.83,326.57 466.76,326.94 467.68,327.32 468.61,327.71 469.53,328.10 470.44,328.50 471.36,328.90 472.27,329.31 473.18,329.73 474.08,330.16 474.98,330.59 475.88,331.03 476.78,331.47 477.67,331.92 478.56,332.37 479.45,332.83 480.34,333.29 481.22,333.76 482.11,334.22 482.99,334.70 483.87,335.17 484.75,335.65 485.63,336.12 486.51,336.60 487.39,337.08 488.26,337.56 489.14,338.04 490.02,338.52 490.89,339.00 491.77,339.48 492.64,339.97 493.51,340.47 494.38,340.97 495.24,341.47 496.10,341.98 496.96,342.48 497.82,342.99 498.69,343.50 499.55,344.01 500.41,344.51 501.28,345.01 502.15,345.51 503.02,346.00 503.89,346.48 504.77,346.96 505.65,347.44 506.53,347.92 507.41,348.39 508.29,348.86 509.17,349.33 510.06,349.80 510.94,350.27 511.82,350.74 512.70,351.21 513.59,351.68 514.47,352.15 515.35,352.62 516.23,353.10 517.11,353.58 517.99,354.06 518.86,354.54 519.74,355.02 520.61,355.51 521.48,356.00 522.35,356.49 523.22,356.99 524.08,357.50 524.94,358.01 525.78,358.54 526.63,359.08 527.46,359.63 528.28,360.20 529.10,360.77 529.91,361.36 530.71,361.96 531.51,362.56 532.30,363.18 533.08,363.80 533.86,364.43 534.63,365.06 535.39,365.71 536.15,366.36 536.91,367.02 537.66,367.68 538.40,368.34 539.14,369.02 539.88,369.69 540.61,370.37 541.34,371.06 542.06,371.75 542.77,372.45 543.48,373.16 544.17,373.88 544.86,374.61 545.53,375.34 546.19,376.09 546.84,376.85 547.48,377.62 548.11,378.40 548.72,379.19 549.33,379.98 549.93,380.78 550.52,381.59 551.11,382.40 551.69,383.21 552.26,384.03 552.84,384.85 553.40,385.67 553.97,386.50 554.52,387.33 555.08,388.16 555.63,389.00 556.17,389.84 556.70,390.68 557.22,391.54 557.72,392.40 558.20,393.27 558.67,394.13 559.11,394.99 559.52,395.82 559.92,396.62 560.30,397.40" stroke="#5ad85a" stroke-width="2.0" stroke-dasharray="1.8 1.2" stroke-linecap="butt"/>
<path d="M373.30,296.00 373.60,296.95 373.90,297.91 374.20,298.86 374.51,299.81 374.83,300.76 375.16,301.70 375.51,302.64 375.88,303.56 376.27,304.48 376.68,305.39 377.12,306.29 377.57,307.19 378.04,308.07 378.53,308.94 379.04,309.80 379.57,310.64 380.11,311.48 380.68,312.31 381.25,313.12 381.85,313.93 382.45,314.72 383.07,315.51 383.70,316.28 384.34,317.05 384.99,317.81 385.65,318.56 386.33,319.29 387.02,320.02 387.72,320.73 388.44,321.42 389.17,322.10 389.92,322.76 390.69,323.40 391.47,324.02 392.27,324.62 393.08,325.20 393.91,325.76 394.75,326.30 395.59,326.83 396.45,327.35 397.30,327.87 398.16,328.39 399.01,328.91 399.86,329.43 400.71,329.95 401.56,330.48 402.41,331.02 403.26,331.55 404.10,332.08 404.95,332.62 405.79,333.15 406.64,333.69 407.48,334.22 408.33,334.75 409.17,335.29 410.02,335.82 410.87,336.34 411.72,336.87 412.57,337.40 413.42,337.92 414.28,338.44 415.13,338.96 415.99,339.47 416.85,339.98 417.71,340.49 418.58,341.00 419.44,341.49 420.31,341.99 421.18,342.48 422.06,342.97 422.93,343.45 423.81,343.93 424.69,344.40 425.57,344.87 426.46,345.34 427.34,345.80 428.23,346.26 429.12,346.72 430.01,347.18 430.90,347.64 431.79,348.10 432.68,348.55 433.57,349.01 434.45,349.47 435.34,349.93 436.23,350.38 437.12,350.85 438.01,351.31 438.89,351.77 439.77,352.24 440.66,352.71 441.54,353.18 442.42,353.66 443.30,354.14 444.17,354.62 445.04,355.11 445.91,355.60 446.78,356.10 447.65,356.60 448.51,357.10 449.38,357.61 450.24,358.11 451.10,358.62 451.96,359.14 452.81,359.65 453.67,360.17 454.53,360.68 455.38,361.20 456.24,361.72 457.09,362.24 457.94,362.77 458.79,363.29 459.65,363.81 460.50,364.33 461.35,364.86 462.20,365.38 463.06,365.90 463.91,366.42 464.76,366.94 465.62,367.46 466.47,367.98 467.33,368.50 468.19,369.01 469.04,369.53 469.90,370.04 470.76,370.55 471.62,371.06 472.48,371.57 473.35,372.08 474.21,372.59 475.07,373.09 475.93,373.60 476.79,374.10 477.66,374.61 478.52,375.12 479.38,375.62 480.25,376.12 481.11,376.63 481.97,377.13 482.84,377.64 483.70,378.14 484.57,378.64 485.43,379.14 486.30,379.65 487.16,380.15 488.03,380.65 488.89,381.15 489.76,381.65 490.63,382.15 491.49,382.65 492.36,383.14 493.23,383.64 494.10,384.14 494.96,384.63 495.84,385.12 496.71,385.61 497.59,386.09 498.47,386.56 499.35,387.03 500.24,387.49 501.13,387.95 502.01,388.41 502.90,388.88 503.78,389.35 504.65,389.84 505.52,390.33 506.38,390.84 507.24,391.35 508.10,391.87 508.95,392.39 509.80,392.91 510.65,393.44 511.50,393.96 512.35,394.49 513.20,395.02 514.05,395.55 514.89,396.08 515.74,396.61 516.58,397.14" stroke="#e89a1e" stroke-width="2.0" stroke-dasharray="1.8 1.2" stroke-linecap="butt"/>
<path d="M373.50,304.00 373.75,304.97 373.99,305.94 374.24,306.91 374.48,307.88 374.73,308.85 374.97,309.82 375.22,310.79 375.47,311.75 375.73,312.72 375.99,313.69 376.25,314.65 376.52,315.61 376.80,316.57 377.09,317.53 377.39,318.48 377.70,319.43 378.02,320.38 378.35,321.33 378.68,322.27 379.03,323.21 379.38,324.14 379.75,325.07 380.12,326.00 380.51,326.92 380.91,327.84 381.32,328.75 381.74,329.66 382.17,330.56 382.61,331.45 383.06,332.34 383.53,333.23 384.00,334.11 384.49,334.98 384.98,335.85 385.49,336.72 386.00,337.57 386.52,338.43 387.05,339.28 387.58,340.12 388.12,340.97 388.66,341.81 389.21,342.65 389.75,343.48 390.29,344.32 390.84,345.16 391.37,346.01 391.91,346.85 392.44,347.70 392.97,348.54 393.51,349.38 394.06,350.22 394.62,351.05 395.19,351.87 395.78,352.68 396.38,353.47 397.01,354.25 397.65,355.02 398.31,355.77 398.99,356.50 399.68,357.22 400.39,357.92 401.11,358.61 401.85,359.29 402.59,359.95 403.35,360.61 404.11,361.26 404.87,361.90 405.64,362.54 406.42,363.17 407.21,363.79 407.99,364.40 408.79,365.01 409.59,365.61 410.39,366.21 411.20,366.80 412.01,367.39 412.82,367.96 413.64,368.54 414.47,369.10 415.29,369.67 416.12,370.22 416.96,370.77 417.80,371.31 418.64,371.85 419.49,372.38 420.35,372.90 421.20,373.41 422.07,373.91 422.94,374.40 423.82,374.88 424.70,375.36 425.58,375.82 426.47,376.28 427.36,376.73 428.26,377.18 429.16,377.61 430.06,378.05 430.96,378.48 431.86,378.91 432.77,379.34 433.67,379.76 434.58,380.18 435.49,380.60 436.39,381.03 437.30,381.45 438.20,381.87 439.11,382.30 440.01,382.73 440.91,383.16 441.81,383.60 442.71,384.04 443.60,384.49 444.49,384.95 445.38,385.41 446.26,385.87 447.15,386.34 448.03,386.82 448.91,387.30 449.78,387.78 450.66,388.26 451.53,388.75 452.41,389.23 453.28,389.72 454.15,390.21 455.02,390.70 455.89,391.20 456.76,391.69 457.63,392.19 458.49,392.69 459.36,393.18 460.23,393.68 461.10,394.18 461.96,394.68 462.83,395.18 463.69,395.67 464.55,396.17 465.41,396.66 466.27,397.15 M466.70,397.40 L589.00,397.40" stroke="#e60000" stroke-width="2.0" stroke-dasharray="1.8 1.2" stroke-linecap="butt"/>
<path d="M373.00,242.30 L373.00,251.10 M373.00,251.10 373.83,251.66 374.66,252.21 375.49,252.77 376.32,253.33 377.15,253.89 377.98,254.45 378.81,255.00 379.65,255.55 380.49,256.09 381.33,256.63 382.18,257.17 383.03,257.69 383.88,258.21 384.74,258.71 385.61,259.21 386.49,259.69 387.36,260.17 388.25,260.64 389.13,261.10 390.02,261.56 390.92,262.01 391.82,262.44 392.72,262.87 393.63,263.29 394.54,263.69 395.46,264.08 396.39,264.45 397.33,264.80 398.27,265.13 399.22,265.43 400.18,265.70 401.15,265.93 402.12,266.13 403.11,266.28 404.10,266.41 405.09,266.51 406.09,266.60 407.08,266.69 408.08,266.79 409.07,266.90 410.06,267.05 411.04,267.22 412.01,267.43 412.98,267.68 413.93,267.97 414.88,268.28 415.81,268.63 416.74,269.00 417.66,269.38 418.58,269.79 419.48,270.20 420.39,270.63 421.29,271.06 422.19,271.50 423.09,271.94 423.99,272.38 424.88,272.82 425.78,273.26 426.69,273.69 427.59,274.12 428.50,274.54 429.41,274.95 430.32,275.36 431.24,275.75 432.16,276.14 433.08,276.53 434.01,276.90 434.94,277.28 435.87,277.64 436.80,278.01 437.73,278.37 438.66,278.73 439.60,279.09 440.53,279.44 441.46,279.80 442.40,280.15 443.34,280.50 444.27,280.85 445.21,281.20 446.15,281.55 447.08,281.90 448.02,282.25 448.96,282.60 449.90,282.95 450.83,283.30 451.77,283.64 452.71,283.99 453.64,284.34 454.58,284.69 455.52,285.05 456.45,285.40 457.39,285.75 458.32,286.10 459.26,286.46 460.19,286.81 461.13,287.17 462.07,287.52 463.00,287.87 463.94,288.23 464.87,288.58 465.81,288.93 466.75,289.28 467.68,289.63 468.62,289.98 469.56,290.33 470.49,290.68 471.43,291.02 472.37,291.36 473.31,291.71 474.25,292.05 475.19,292.39 476.13,292.73 477.07,293.08 478.01,293.42 478.95,293.77 479.88,294.11 480.82,294.46 481.76,294.81 482.70,295.15 483.64,295.49 484.58,295.82 485.53,296.15 486.48,296.47 487.43,296.78 488.38,297.07 489.34,297.35 490.31,297.61 491.28,297.85 492.25,298.06 493.23,298.25 494.22,298.41 495.20,298.54 496.20,298.65 497.19,298.74 498.19,298.82 499.19,298.88 500.19,298.93 501.18,298.99 502.18,299.05 503.18,299.13 504.17,299.22 505.16,299.34 506.15,299.49 507.13,299.68 508.10,299.90 509.06,300.16 510.01,300.46 510.95,300.80 511.87,301.17 512.78,301.57 513.68,302.01 514.57,302.46 515.45,302.94 516.32,303.42 517.19,303.92 518.05,304.43 518.91,304.94 519.76,305.46 520.61,305.99 521.45,306.53 522.30,307.07 523.13,307.61 523.97,308.16 524.80,308.71 525.64,309.26 526.47,309.82 527.31,310.37 528.14,310.92 528.98,311.47 529.81,312.02 530.65,312.56 531.49,313.11 532.33,313.64 533.18,314.18 534.03,314.71 534.88,315.23 535.73,315.75 536.59,316.27 537.44,316.79 538.30,317.30 539.16,317.81 540.03,318.31 540.89,318.82 541.75,319.32 542.62,319.82 543.49,320.32 544.36,320.81 545.23,321.31 546.10,321.80 546.97,322.29 547.84,322.78 548.71,323.26 549.59,323.75 550.46,324.23 551.34,324.71 552.22,325.19 553.10,325.67 553.98,326.14 554.86,326.61 555.75,327.07 556.64,327.53 557.53,327.99 558.42,328.45 559.31,328.90 560.20,329.35 561.09,329.81 561.98,330.26 562.87,330.71 563.77,331.16 564.66,331.62 565.55,332.07 566.44,332.53 567.32,332.99 568.21,333.45 569.09,333.92 569.97,334.40 570.85,334.88 571.72,335.37 572.58,335.87 573.43,336.39 574.25,336.93 575.03,337.52 575.75,338.17 576.39,338.90 576.95,339.69 577.45,340.53 577.90,341.41 578.32,342.32 578.71,343.23 579.07,344.16 579.42,345.10 579.76,346.04 580.08,346.99 580.39,347.94 580.69,348.89 580.98,349.85 581.26,350.81 581.53,351.77 581.79,352.74 582.05,353.70 582.30,354.67 582.54,355.64 582.77,356.61 583.00,357.59 583.21,358.56 583.43,359.54 583.63,360.52 583.83,361.50 584.02,362.48 584.21,363.46 584.40,364.44 584.58,365.43 584.76,366.41 584.94,367.39 585.12,368.38 585.29,369.36 585.46,370.35 585.63,371.34 585.80,372.32 585.96,373.31 586.13,374.29 586.29,375.28 586.46,376.27 586.62,377.25 586.78,378.24 586.94,379.23 587.09,380.22 587.24,381.20 587.39,382.19 587.54,383.18 587.68,384.17 587.82,385.16 587.96,386.15 588.10,387.14 588.24,388.13 588.37,389.12 588.51,390.11 588.64,391.10 588.78,392.09 588.91,393.08 589.05,394.06 589.18,395.03 589.31,395.99 589.44,396.93" stroke="#0000e6" stroke-width="1.85" stroke-linecap="round"/>
<path d="M373.00,242.30 L373.00,269.90 M373.00,269.90 373.80,270.50 374.61,271.09 375.41,271.69 376.21,272.29 377.01,272.88 377.82,273.48 378.62,274.07 379.43,274.66 380.25,275.24 381.07,275.81 381.89,276.37 382.73,276.92 383.57,277.46 384.42,277.98 385.28,278.49 386.15,278.97 387.04,279.44 387.93,279.89 388.83,280.32 389.74,280.74 390.66,281.14 391.58,281.52 392.51,281.89 393.44,282.25 394.38,282.60 395.32,282.93 396.26,283.26 397.21,283.57 398.17,283.87 399.12,284.15 400.09,284.42 401.06,284.66 402.03,284.88 403.01,285.07 403.99,285.25 404.98,285.40 405.97,285.55 406.96,285.71 407.94,285.87 408.93,286.04 409.91,286.24 410.88,286.46 411.85,286.71 412.80,286.98 413.76,287.29 414.70,287.61 415.63,287.96 416.56,288.33 417.49,288.71 418.41,289.10 419.32,289.50 420.23,289.91 421.14,290.33 422.05,290.76 422.95,291.19 423.85,291.62 424.75,292.06 425.65,292.50 426.55,292.94 427.45,293.38 428.34,293.82 429.24,294.26 430.14,294.69 431.04,295.13 431.94,295.57 432.84,296.01 433.73,296.45 434.63,296.89 435.53,297.34 436.42,297.78 437.32,298.23 438.21,298.68 439.10,299.13 439.99,299.58 440.89,300.04 441.78,300.49 442.67,300.94 443.56,301.39 444.45,301.85 445.34,302.30 446.24,302.75 447.13,303.20 448.02,303.65 448.91,304.10 449.81,304.55 450.70,305.00 451.60,305.45 452.49,305.89 453.39,306.33 454.29,306.77 455.19,307.20 456.09,307.64 456.99,308.07 457.90,308.49 458.81,308.91 459.71,309.34 460.62,309.75 461.53,310.17 462.44,310.58 463.35,311.00 464.26,311.41 465.18,311.81 466.09,312.22 467.01,312.61 467.93,313.01 468.85,313.40 469.77,313.78 470.70,314.16 471.63,314.53 472.56,314.89 473.50,315.24 474.43,315.58 475.38,315.92 476.33,316.23 477.28,316.53 478.24,316.80 479.21,317.06 480.18,317.28 481.16,317.49 482.14,317.67 483.12,317.83 484.11,317.99 485.10,318.14 486.08,318.30 487.07,318.47 488.05,318.66 489.02,318.88 489.99,319.13 490.95,319.40 491.89,319.72 492.83,320.06 493.75,320.44 494.67,320.84 495.57,321.26 496.47,321.70 497.36,322.16 498.24,322.63 499.11,323.12 499.98,323.61 500.85,324.11 501.71,324.61 502.58,325.11 503.44,325.62 504.30,326.12 505.17,326.63 506.03,327.13 506.90,327.63 507.77,328.12 508.64,328.62 509.50,329.12 510.37,329.62 511.24,330.12 512.10,330.62 512.96,331.12 513.83,331.63 514.69,332.14 515.55,332.64 516.41,333.15 517.28,333.66 518.14,334.16 519.00,334.67 519.86,335.18 520.72,335.68 521.59,336.19 522.45,336.69 523.31,337.20 524.18,337.70 525.04,338.20 525.91,338.70 526.78,339.20 527.64,339.70 528.51,340.20 529.38,340.69 530.24,341.19 531.11,341.70 531.97,342.20 532.84,342.70 533.71,343.20 534.57,343.70 535.44,344.20 536.30,344.70 537.17,345.19 538.04,345.69 538.91,346.18 539.79,346.66 540.66,347.15 541.54,347.63 542.42,348.10 543.31,348.57 544.19,349.03 545.08,349.48 545.98,349.93 546.88,350.36 547.78,350.79 548.69,351.20 549.61,351.60 550.53,352.00 551.45,352.38 552.38,352.75 553.31,353.12 554.24,353.48 555.18,353.83 556.11,354.18 557.05,354.53 557.99,354.88 558.93,355.22 559.86,355.57 560.80,355.92 561.73,356.28 562.66,356.65 563.59,357.03 564.51,357.42 565.42,357.82 566.33,358.24 567.23,358.67 568.12,359.12 569.01,359.58 569.89,360.06 570.75,360.56 571.60,361.09 572.42,361.65 573.22,362.24 573.99,362.87 574.72,363.54 575.40,364.25 576.03,365.01 576.61,365.81 577.12,366.66 577.58,367.53 577.99,368.44 578.35,369.36 578.69,370.30 579.01,371.25 579.32,372.20 579.60,373.16 579.87,374.12 580.13,375.09 580.38,376.05 580.62,377.02 580.85,378.00 581.08,378.97 581.31,379.94 581.53,380.92 581.76,381.89 581.99,382.87 582.23,383.84 582.46,384.81 582.71,385.78 582.95,386.75 583.20,387.72 583.45,388.69 583.69,389.66 583.94,390.62 584.19,391.59 584.44,392.55 584.69,393.51 584.93,394.44 585.17,395.34 585.39,396.19 585.60,397.00" stroke="#00aaee" stroke-width="1.85" stroke-linecap="round"/>
<path d="M373.00,242.30 L373.00,281.20 M373.00,281.20 373.58,282.01 374.16,282.83 374.74,283.64 375.33,284.45 375.93,285.25 376.54,286.04 377.18,286.81 377.84,287.55 378.53,288.27 379.25,288.95 380.01,289.59 380.80,290.19 381.62,290.75 382.46,291.28 383.33,291.77 384.22,292.23 385.11,292.66 386.02,293.08 386.94,293.47 387.87,293.84 388.80,294.20 389.74,294.54 390.68,294.87 391.63,295.18 392.59,295.48 393.55,295.75 394.52,295.99 395.49,296.21 396.47,296.41 397.45,296.59 398.44,296.76 399.43,296.91 400.41,297.07 401.40,297.23 402.39,297.39 403.37,297.58 404.35,297.78 405.32,298.00 406.29,298.24 407.25,298.51 408.21,298.80 409.16,299.10 410.11,299.41 411.06,299.74 412.00,300.08 412.93,300.43 413.86,300.80 414.78,301.18 415.70,301.58 416.61,301.99 417.52,302.42 418.41,302.86 419.30,303.32 420.18,303.79 421.04,304.29 421.90,304.80 422.74,305.34 423.58,305.89 424.40,306.45 425.22,307.03 426.03,307.61 426.84,308.20 427.65,308.79 428.46,309.37 429.27,309.95 430.09,310.53 430.91,311.10 431.74,311.66 432.58,312.20 433.42,312.74 434.28,313.26 435.13,313.77 436.00,314.27 436.87,314.76 437.74,315.25 438.62,315.73 439.50,316.21 440.38,316.68 441.27,317.15 442.15,317.61 443.04,318.07 443.93,318.53 444.82,318.98 445.71,319.43 446.61,319.88 447.50,320.32 448.40,320.77 449.30,321.20 450.20,321.64 451.10,322.07 452.00,322.50 452.91,322.92 453.82,323.34 454.73,323.76 455.64,324.18 456.55,324.59 457.46,324.99 458.38,325.39 459.30,325.78 460.22,326.17 461.15,326.55 462.07,326.92 463.01,327.28 463.94,327.64 464.87,328.00 465.81,328.35 466.75,328.70 467.68,329.05 468.62,329.39 469.56,329.73 470.50,330.08 471.44,330.42 472.38,330.76 473.32,331.11 474.26,331.45 475.19,331.80 476.13,332.16 477.06,332.51 477.99,332.88 478.92,333.25 479.85,333.62 480.77,334.01 481.69,334.40 482.61,334.81 483.52,335.22 484.42,335.64 485.32,336.08 486.22,336.52 487.11,336.97 488.00,337.43 488.88,337.90 489.76,338.37 490.64,338.85 491.51,339.34 492.38,339.83 493.25,340.32 494.12,340.82 494.99,341.32 495.85,341.82 496.72,342.33 497.58,342.83 498.45,343.33 499.32,343.82 500.18,344.32 501.06,344.81 501.93,345.30 502.80,345.78 503.68,346.27 504.55,346.75 505.42,347.24 506.30,347.73 507.17,348.21 508.04,348.70 508.92,349.19 509.79,349.68 510.67,350.16 511.54,350.64 512.42,351.13 513.30,351.60 514.18,352.08 515.06,352.55 515.94,353.02 516.83,353.48 517.72,353.94 518.61,354.39 519.50,354.84 520.39,355.29 521.29,355.74 522.19,356.18 523.08,356.62 523.98,357.06 524.88,357.50 525.78,357.93 526.69,358.36 527.59,358.79 528.49,359.22 529.40,359.64 530.31,360.06 531.22,360.47 532.13,360.88 533.04,361.29 533.96,361.70 534.87,362.09 535.79,362.49 536.72,362.87 537.64,363.25 538.57,363.63 539.50,363.99 540.43,364.35 541.37,364.70 542.31,365.04 543.25,365.38 544.19,365.71 545.14,366.04 546.08,366.36 547.03,366.68 547.98,367.00 548.93,367.32 549.87,367.64 550.82,367.97 551.77,368.29 552.71,368.62 553.65,368.96 554.59,369.30 555.53,369.65 556.46,370.01 557.39,370.38 558.31,370.76 559.23,371.15 560.15,371.55 561.07,371.95 561.97,372.37 562.88,372.79 563.78,373.23 564.68,373.67 565.57,374.13 566.45,374.59 567.33,375.07 568.19,375.57 569.05,376.08 569.88,376.62 570.70,377.20 571.47,377.81 572.21,378.47 572.90,379.18 573.55,379.93 574.14,380.72 574.69,381.55 575.20,382.40 575.68,383.28 576.12,384.17 576.54,385.08 576.94,385.99 577.33,386.91 577.70,387.84 578.05,388.78 578.40,389.71 578.73,390.66 579.06,391.60 579.38,392.54 579.70,393.48 580.00,394.40 580.30,395.30 580.59,396.16 580.86,396.99" stroke="#5ad85a" stroke-width="1.85" stroke-linecap="round"/>
<path d="M373.00,242.30 L373.00,292.50 M373.00,292.50 373.27,293.46 373.53,294.43 373.80,295.39 374.07,296.35 374.36,297.31 374.66,298.26 374.97,299.21 375.32,300.15 375.69,301.07 376.11,301.98 376.55,302.86 377.04,303.73 377.57,304.57 378.15,305.38 378.76,306.15 379.43,306.88 380.15,307.56 380.91,308.19 381.72,308.76 382.56,309.27 383.44,309.72 384.35,310.14 385.26,310.53 386.19,310.91 387.11,311.29 388.03,311.69 388.94,312.10 389.84,312.53 390.73,312.99 391.61,313.45 392.49,313.93 393.36,314.42 394.23,314.92 395.09,315.42 395.95,315.93 396.81,316.44 397.67,316.96 398.52,317.48 399.37,318.00 400.22,318.53 401.07,319.07 401.91,319.61 402.74,320.16 403.58,320.71 404.40,321.27 405.22,321.85 406.04,322.43 406.84,323.01 407.65,323.61 408.44,324.21 409.24,324.82 410.02,325.44 410.81,326.06 411.58,326.69 412.35,327.33 413.12,327.97 413.88,328.62 414.63,329.28 415.38,329.94 416.13,330.61 416.87,331.27 417.62,331.94 418.37,332.59 419.13,333.24 419.90,333.88 420.68,334.51 421.47,335.12 422.27,335.72 423.08,336.31 423.89,336.88 424.72,337.45 425.55,338.01 426.39,338.55 427.23,339.09 428.08,339.62 428.93,340.15 429.78,340.67 430.64,341.17 431.51,341.67 432.39,342.15 433.28,342.61 434.17,343.05 435.08,343.47 435.98,343.89 436.89,344.31 437.79,344.74 438.68,345.19 439.56,345.67 440.42,346.16 441.28,346.68 442.12,347.22 442.94,347.78 443.76,348.36 444.57,348.94 445.38,349.53 446.18,350.14 446.97,350.74 447.76,351.35 448.55,351.97 449.34,352.59 450.12,353.21 450.90,353.83 451.69,354.45 452.47,355.08 453.25,355.70 454.03,356.33 454.81,356.96 455.59,357.58 456.37,358.21 457.15,358.83 457.93,359.46 458.71,360.08 459.50,360.70 460.28,361.32 461.07,361.93 461.86,362.55 462.65,363.16 463.45,363.76 464.25,364.36 465.06,364.95 465.87,365.53 466.69,366.09 467.52,366.65 468.36,367.19 469.21,367.72 470.07,368.24 470.93,368.74 471.81,369.22 472.69,369.70 473.57,370.16 474.45,370.63 475.33,371.11 476.21,371.59 477.08,372.08 477.95,372.57 478.81,373.07 479.68,373.58 480.54,374.09 481.40,374.60 482.26,375.11 483.12,375.62 483.98,376.13 484.85,376.63 485.71,377.13 486.58,377.62 487.45,378.11 488.33,378.59 489.22,379.05 490.11,379.51 491.00,379.95 491.91,380.37 492.82,380.78 493.74,381.17 494.66,381.55 495.59,381.93 496.52,382.30 497.45,382.67 498.38,383.04 499.30,383.42 500.23,383.80 501.15,384.19 502.07,384.57 502.99,384.96 503.92,385.35 504.84,385.73 505.76,386.12 506.68,386.51 507.60,386.90 508.52,387.29 509.44,387.69 510.35,388.10 511.27,388.50 512.17,388.92 513.08,389.35 513.98,389.78 514.87,390.23 515.76,390.68 516.64,391.15 517.52,391.63 518.39,392.13 519.26,392.63 520.12,393.14 520.97,393.65 521.83,394.17 522.67,394.70 523.51,395.22 524.34,395.73 525.13,396.23 525.90,396.71 526.64,397.17" stroke="#e89a1e" stroke-width="1.85" stroke-linecap="round"/>
<path d="M373.00,242.30 L373.00,302.00 M373.00,302.00 373.33,302.94 373.68,303.88 374.05,304.80 374.47,305.70 374.94,306.57 375.46,307.42 376.02,308.23 376.63,309.02 377.28,309.77 377.96,310.50 378.67,311.19 379.41,311.86 380.18,312.49 380.98,313.08 381.80,313.65 382.64,314.18 383.49,314.71 384.35,315.22 385.20,315.74 386.05,316.27 386.89,316.81 387.71,317.38 388.52,317.96 389.31,318.57 390.09,319.19 390.86,319.83 391.61,320.49 392.34,321.17 393.06,321.86 393.75,322.58 394.41,323.33 395.04,324.10 395.64,324.89 396.21,325.71 396.76,326.55 397.27,327.40 397.77,328.26 398.26,329.14 398.74,330.01 399.22,330.89 399.70,331.77 400.19,332.64 400.68,333.51 401.18,334.38 401.68,335.25 402.17,336.11 402.67,336.98 403.16,337.85 403.66,338.72 404.14,339.59 404.62,340.47 405.10,341.35 405.57,342.23 406.03,343.12 406.49,344.01 406.94,344.90 407.39,345.79 407.84,346.69 408.29,347.58 408.73,348.48 409.19,349.37 409.64,350.26 410.10,351.15 410.57,352.03 411.04,352.91 411.52,353.79 412.00,354.67 412.48,355.54 412.95,356.43 413.41,357.31 413.86,358.20 414.30,359.10 414.72,360.01 415.12,360.93 415.50,361.85 415.87,362.78 416.22,363.71 416.56,364.65 416.89,365.60 417.22,366.54 417.54,367.49 417.86,368.44 418.18,369.38 418.50,370.33 418.83,371.28 419.16,372.22 419.49,373.16 419.83,374.10 420.18,375.04 420.53,375.98 420.89,376.91 421.24,377.84 421.61,378.78 421.97,379.71 422.33,380.64 422.70,381.57 423.07,382.50 423.43,383.43 423.80,384.36 424.17,385.29 424.54,386.22 424.91,387.15 425.28,388.08 425.65,389.01 426.02,389.93 426.39,390.86 426.76,391.79 427.13,392.72 427.50,393.63 427.86,394.53 428.20,395.40 428.53,396.22 428.85,397.01 M429.00,397.40 L589.00,397.40" stroke="#e60000" stroke-width="1.85" stroke-linecap="round"/>
</g>
<text x="369.40" y="402.00" font-size="11" fill="#262626" text-anchor="end">3</text>
<text x="369.40" y="376.14" font-size="11" fill="#262626" text-anchor="end">3.2</text>
<text x="369.40" y="350.29" font-size="11" fill="#262626" text-anchor="end">3.4</text>
<text x="369.40" y="324.43" font-size="11" fill="#262626" text-anchor="end">3.6</text>
<text x="369.40" y="298.57" font-size="11" fill="#262626" text-anchor="end">3.8</text>
<text x="369.40" y="272.71" font-size="11" fill="#262626" text-anchor="end">4</text>
<text x="369.40" y="246.86" font-size="11" fill="#262626" text-anchor="end">4.2</text>
<text x="369.40" y="221.00" font-size="11" fill="#262626" text-anchor="end">4.4</text>
<text transform="translate(350.00,308.25) rotate(-90)" font-size="11.6" fill="#262626" text-anchor="middle" xml:space="preserve">Voltage  /  V</text>
<text x="373.00" y="413.00" font-size="11" fill="#262626" text-anchor="middle">0</text>
<text x="415.72" y="413.00" font-size="11" fill="#262626" text-anchor="middle">0.1</text>
<text x="458.43" y="413.00" font-size="11" fill="#262626" text-anchor="middle">0.2</text>
<text x="501.15" y="413.00" font-size="11" fill="#262626" text-anchor="middle">0.3</text>
<text x="543.87" y="413.00" font-size="11" fill="#262626" text-anchor="middle">0.4</text>
<text x="586.58" y="413.00" font-size="11" fill="#262626" text-anchor="middle">0.5</text>
<text x="629.30" y="413.00" font-size="11" fill="#262626" text-anchor="middle">0.6</text>
<text x="499.65" y="427.30" font-size="11.5" fill="#262626" text-anchor="middle" xml:space="preserve">Charge throughput  /  Ah</text>
<text x="337.4" y="219.0" font-size="12" letter-spacing="1.2" fill="#262626">d)</text>
<text x="386.4" y="233.9" font-size="15.2" font-weight="bold" fill="#000">5 °C</text>
<path d="M495,16.90h15.5" stroke="#0000e6" stroke-width="2" stroke-dasharray="1.9 1.2"/>
<text x="512.3" y="20.60" font-size="9.5" fill="#262626">Exp.0.05C</text>
<path d="M561,16.90h16" stroke="#0000e6" stroke-width="1.85"/>
<text x="577.8" y="20.60" font-size="9.5" fill="#262626">Sim.0.05C</text>
<path d="M495,29.60h15.5" stroke="#00aaee" stroke-width="2" stroke-dasharray="1.9 1.2"/>
<text x="512.3" y="33.30" font-size="9.5" fill="#262626">Exp.0.5C</text>
<path d="M561,29.60h16" stroke="#00aaee" stroke-width="1.85"/>
<text x="577.8" y="33.30" font-size="9.5" fill="#262626">Sim.0.5C</text>
<path d="M495,42.30h15.5" stroke="#5ad85a" stroke-width="2" stroke-dasharray="1.9 1.2"/>
<text x="512.3" y="46.00" font-size="9.5" fill="#262626">Exp.1C</text>
<path d="M561,42.30h16" stroke="#5ad85a" stroke-width="1.85"/>
<text x="577.8" y="46.00" font-size="9.5" fill="#262626">Sim.1C</text>
<path d="M495,55.00h15.5" stroke="#e89a1e" stroke-width="2" stroke-dasharray="1.9 1.2"/>
<text x="512.3" y="58.70" font-size="9.5" fill="#262626">Exp.2C</text>
<path d="M561,55.00h16" stroke="#e89a1e" stroke-width="1.85"/>
<text x="577.8" y="58.70" font-size="9.5" fill="#262626">Sim.2C</text>
<path d="M495,67.70h15.5" stroke="#e60000" stroke-width="2" stroke-dasharray="1.9 1.2"/>
<text x="512.3" y="71.40" font-size="9.5" fill="#262626">Exp.3C</text>
<path d="M561,67.70h16" stroke="#e60000" stroke-width="1.85"/>
<text x="577.8" y="71.40" font-size="9.5" fill="#262626">Sim.3C</text>
<rect x="523.3" y="282.5" width="1.4" height="1.6" fill="#4a4a5a"/>
</svg></body></html>
